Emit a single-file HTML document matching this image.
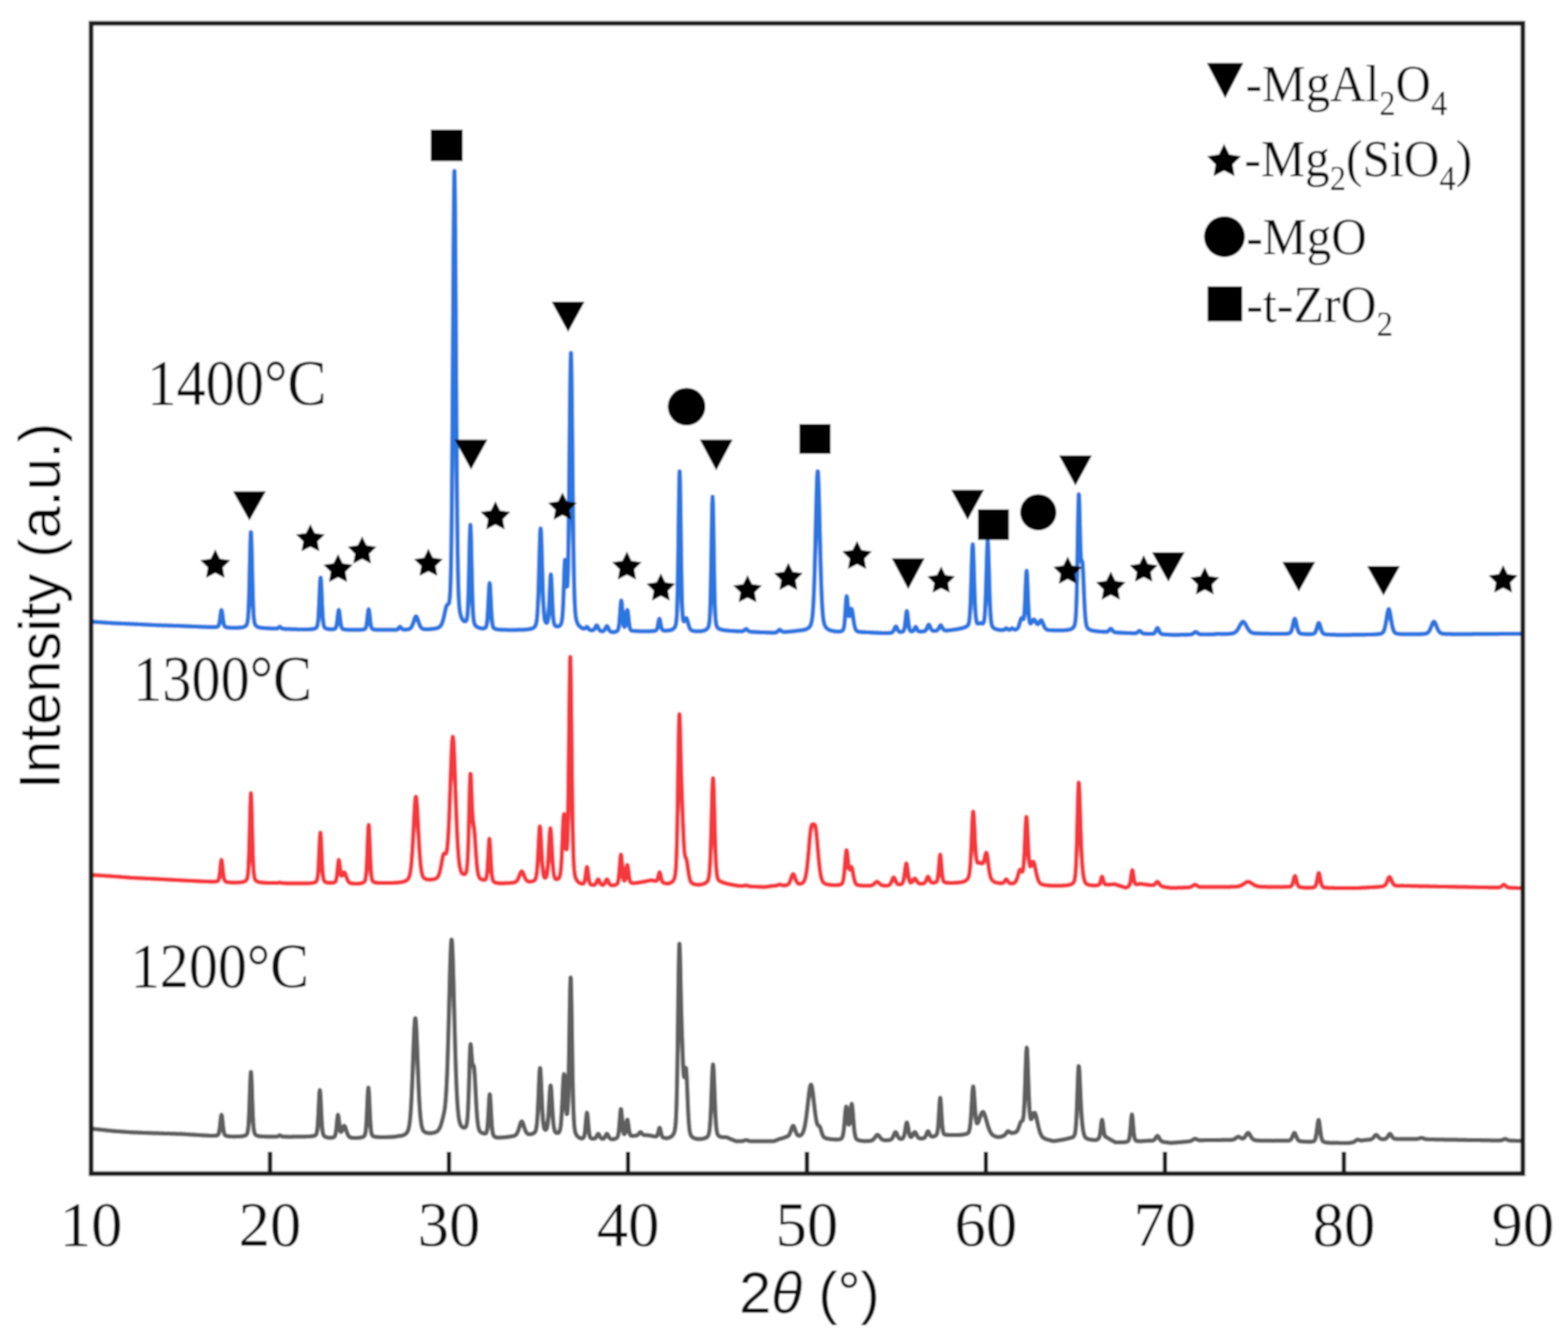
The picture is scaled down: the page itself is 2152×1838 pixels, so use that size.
<!DOCTYPE html>
<html><head><meta charset="utf-8"><title>XRD patterns</title>
<style>html,body{margin:0;padding:0;background:#fff;}svg{display:block;}</style>
</head><body>
<svg width="2152" height="1838" viewBox="0 0 2152 1838"><defs><filter id="soft" x="0" y="0" width="100%" height="100%" filterUnits="userSpaceOnUse"><feGaussianBlur stdDeviation="1.3"/></filter></defs><g filter="url(#soft)"><rect x="0" y="0" width="2152" height="1838" fill="#fff"/>
<polyline fill="none" stroke="#5e5e5e" stroke-width="6.0" stroke-linejoin="round" stroke-linecap="round" points="125.0,1549.3 125.5,1549.3 126.0,1549.4 126.5,1549.4 127.0,1549.5 127.5,1549.5 128.0,1549.6 128.5,1549.6 129.0,1549.7 129.5,1549.8 130.0,1549.8 130.5,1549.9 131.0,1549.9 131.5,1550.0 132.0,1550.0 132.5,1550.1 133.0,1550.1 133.5,1550.2 134.0,1550.2 134.5,1550.3 135.0,1550.3 135.5,1550.4 136.0,1550.4 136.5,1550.5 137.0,1550.6 137.5,1550.6 138.0,1550.7 138.5,1550.7 139.0,1550.8 139.5,1550.8 140.0,1550.9 140.5,1550.9 141.0,1551.0 141.5,1551.0 142.0,1551.1 142.5,1551.1 143.0,1551.2 143.5,1551.2 144.0,1551.3 144.5,1551.3 145.0,1551.4 145.5,1551.5 146.0,1551.5 146.5,1551.6 147.0,1551.6 147.5,1551.7 148.0,1551.7 148.5,1551.8 149.0,1551.8 149.5,1551.9 150.0,1551.9 150.5,1552.0 151.0,1552.0 151.5,1552.1 152.0,1552.1 152.5,1552.2 153.0,1552.3 153.5,1552.3 154.0,1552.4 154.5,1552.4 155.0,1552.5 155.5,1552.5 156.0,1552.5 156.5,1552.6 157.0,1552.6 157.5,1552.6 158.0,1552.7 158.5,1552.7 159.0,1552.8 159.5,1552.8 160.0,1552.8 160.5,1552.9 161.0,1552.9 161.5,1552.9 162.0,1553.0 162.5,1553.0 163.0,1553.0 163.5,1553.1 164.0,1553.1 164.5,1553.1 165.0,1553.2 165.5,1553.2 166.0,1553.3 166.5,1553.3 167.0,1553.3 167.5,1553.4 168.0,1553.4 168.5,1553.4 169.0,1553.5 169.5,1553.5 170.0,1553.5 170.5,1553.6 171.0,1553.6 171.5,1553.7 172.0,1553.7 172.5,1553.7 173.0,1553.8 173.5,1553.8 174.0,1553.8 174.5,1553.9 175.0,1553.9 175.5,1553.9 176.0,1554.0 176.5,1554.0 177.0,1554.0 177.5,1554.1 178.0,1554.1 178.5,1554.2 179.0,1554.2 179.5,1554.2 180.0,1554.3 180.5,1554.3 181.0,1554.3 181.5,1554.3 182.0,1554.3 182.5,1554.4 183.0,1554.4 183.5,1554.4 184.0,1554.4 184.5,1554.4 185.0,1554.5 185.5,1554.5 186.0,1554.5 186.5,1554.5 187.0,1554.5 187.5,1554.6 188.0,1554.6 188.5,1554.6 189.0,1554.6 189.5,1554.6 190.0,1554.7 190.5,1554.7 191.0,1554.7 191.5,1554.7 192.0,1554.7 192.5,1554.8 193.0,1554.8 193.5,1554.8 194.0,1554.8 194.5,1554.8 195.0,1554.9 195.5,1554.9 196.0,1554.9 196.5,1554.9 197.0,1554.9 197.5,1555.0 198.0,1555.0 198.5,1555.0 199.0,1555.0 199.5,1555.0 200.0,1555.1 200.5,1555.1 201.0,1555.1 201.5,1555.1 202.0,1555.1 202.5,1555.2 203.0,1555.2 203.5,1555.2 204.0,1555.2 204.5,1555.2 205.0,1555.3 205.5,1555.3 206.0,1555.3 206.5,1555.3 207.0,1555.3 207.5,1555.3 208.0,1555.3 208.5,1555.4 209.0,1555.4 209.5,1555.4 210.0,1555.4 210.5,1555.4 211.0,1555.4 211.5,1555.5 212.0,1555.5 212.5,1555.5 213.0,1555.5 213.5,1555.5 214.0,1555.5 214.5,1555.5 215.0,1555.6 215.5,1555.6 216.0,1555.6 216.5,1555.6 217.0,1555.6 217.5,1555.6 218.0,1555.7 218.5,1555.7 219.0,1555.7 219.5,1555.7 220.0,1555.7 220.5,1555.7 221.0,1555.7 221.5,1555.8 222.0,1555.8 222.5,1555.8 223.0,1555.8 223.5,1555.8 224.0,1555.8 224.5,1555.9 225.0,1555.9 225.5,1555.9 226.0,1555.9 226.5,1555.9 227.0,1555.9 227.5,1555.9 228.0,1556.0 228.5,1556.0 229.0,1556.0 229.5,1556.0 230.0,1556.0 230.5,1556.0 231.0,1556.1 231.5,1556.1 232.0,1556.1 232.5,1556.1 233.0,1556.1 233.5,1556.1 234.0,1556.1 234.5,1556.2 235.0,1556.2 235.5,1556.2 236.0,1556.2 236.5,1556.2 237.0,1556.2 237.5,1556.3 238.0,1556.3 238.5,1556.3 239.0,1556.3 239.5,1556.3 240.0,1556.3 240.5,1556.3 241.0,1556.4 241.5,1556.4 242.0,1556.4 242.5,1556.4 243.0,1556.4 243.5,1556.4 244.0,1556.4 244.5,1556.5 245.0,1556.5 245.5,1556.5 246.0,1556.5 246.5,1556.5 247.0,1556.5 247.5,1556.6 248.0,1556.6 248.5,1556.6 249.0,1556.6 249.5,1556.6 250.0,1556.6 250.5,1556.7 251.0,1556.7 251.5,1556.7 252.0,1556.8 252.5,1556.8 253.0,1556.8 253.5,1556.8 254.0,1556.9 254.5,1556.9 255.0,1556.9 255.5,1557.0 256.0,1557.0 256.5,1557.0 257.0,1557.1 257.5,1557.1 258.0,1557.1 258.5,1557.2 259.0,1557.2 259.5,1557.2 260.0,1557.3 260.5,1557.3 261.0,1557.3 261.5,1557.4 262.0,1557.4 262.5,1557.4 263.0,1557.4 263.5,1557.5 264.0,1557.5 264.5,1557.5 265.0,1557.6 265.5,1557.6 266.0,1557.6 266.5,1557.7 267.0,1557.7 267.5,1557.7 268.0,1557.8 268.5,1557.8 269.0,1557.8 269.5,1557.8 270.0,1557.9 270.5,1557.9 271.0,1557.9 271.5,1558.0 272.0,1558.0 272.5,1558.0 273.0,1558.1 273.5,1558.1 274.0,1558.1 274.5,1558.1 275.0,1558.2 275.5,1558.2 276.0,1558.2 276.5,1558.3 277.0,1558.3 277.5,1558.3 278.0,1558.4 278.5,1558.4 279.0,1558.4 279.5,1558.4 280.0,1558.5 280.5,1558.5 281.0,1558.5 281.5,1558.6 282.0,1558.6 282.5,1558.6 283.0,1558.6 283.5,1558.7 284.0,1558.7 284.5,1558.7 285.0,1558.7 285.5,1558.8 286.0,1558.8 286.5,1558.8 287.0,1558.8 287.5,1558.9 288.0,1558.9 288.5,1558.9 289.0,1558.9 289.5,1558.9 290.0,1558.9 290.5,1558.9 291.0,1559.0 291.5,1559.0 292.0,1559.0 292.5,1559.0 293.0,1558.9 293.5,1558.9 294.0,1558.9 294.5,1558.9 295.0,1558.9 295.5,1558.8 296.0,1558.8 296.5,1558.7 297.0,1558.7 297.5,1558.6 298.0,1558.4 298.5,1558.2 299.0,1557.9 299.5,1557.3 300.0,1556.3 300.5,1554.8 301.0,1552.4 301.5,1549.2 302.0,1545.0 302.5,1540.2 303.0,1535.4 303.5,1531.8 304.0,1530.4 304.5,1531.8 305.0,1535.5 305.5,1540.3 306.0,1545.2 306.5,1549.4 307.0,1552.7 307.5,1555.1 308.0,1556.7 308.5,1557.7 309.0,1558.3 309.5,1558.7 310.0,1558.9 310.5,1559.1 311.0,1559.2 311.5,1559.4 312.0,1559.5 312.5,1559.5 313.0,1559.6 313.5,1559.7 314.0,1559.7 314.5,1559.8 315.0,1559.8 315.5,1559.9 316.0,1559.9 316.5,1560.0 317.0,1560.0 317.5,1560.0 318.0,1560.1 318.5,1560.1 319.0,1560.1 319.5,1560.1 320.0,1560.2 320.5,1560.2 321.0,1560.2 321.5,1560.2 322.0,1560.2 322.5,1560.2 323.0,1560.1 323.5,1560.1 324.0,1560.1 324.5,1560.1 325.0,1560.1 325.5,1560.1 326.0,1560.1 326.5,1560.1 327.0,1560.0 327.5,1560.0 328.0,1560.0 328.5,1560.0 329.0,1559.9 329.5,1559.9 330.0,1559.9 330.5,1559.8 331.0,1559.8 331.5,1559.7 332.0,1559.7 332.5,1559.6 333.0,1559.5 333.5,1559.5 334.0,1559.4 334.5,1559.3 335.0,1559.1 335.5,1559.0 336.0,1558.8 336.5,1558.6 337.0,1558.4 337.5,1558.1 338.0,1557.7 338.5,1557.1 339.0,1556.4 339.5,1555.1 340.0,1553.1 340.5,1549.8 341.0,1544.7 341.5,1537.0 342.0,1526.4 342.5,1513.1 343.0,1498.3 343.5,1484.2 344.0,1474.2 344.4,1471.4 345.0,1477.5 345.5,1489.6 346.0,1504.3 346.5,1518.7 347.0,1531.0 347.5,1540.4 348.0,1547.0 348.5,1551.4 349.0,1554.1 349.5,1555.7 350.0,1556.7 350.5,1557.4 351.0,1557.8 351.5,1558.2 352.0,1558.5 352.5,1558.7 353.0,1558.9 353.5,1559.1 354.0,1559.2 354.5,1559.3 355.0,1559.4 355.5,1559.5 356.0,1559.6 356.5,1559.7 357.0,1559.7 357.5,1559.8 358.0,1559.8 358.5,1559.9 359.0,1559.9 359.5,1559.9 360.0,1560.0 360.5,1560.0 361.0,1560.0 361.5,1560.1 362.0,1560.1 362.5,1560.1 363.0,1560.1 363.5,1560.1 364.0,1560.2 364.5,1560.2 365.0,1560.2 365.5,1560.2 366.0,1560.2 366.5,1560.2 367.0,1560.2 367.5,1560.2 368.0,1560.2 368.5,1560.3 369.0,1560.3 369.5,1560.3 370.0,1560.3 370.5,1560.3 371.0,1560.3 371.5,1560.3 372.0,1560.3 372.5,1560.3 373.0,1560.3 373.5,1560.3 374.0,1560.3 374.5,1560.3 375.0,1560.3 375.5,1560.3 376.0,1560.3 376.5,1560.3 377.0,1560.3 377.5,1560.3 378.0,1560.3 378.5,1560.3 379.0,1560.2 379.5,1560.2 380.0,1560.1 380.5,1560.0 381.0,1559.9 381.5,1559.7 382.0,1559.4 382.5,1559.1 383.0,1558.7 383.5,1558.5 384.0,1558.4 384.5,1558.5 385.0,1558.7 385.5,1559.1 386.0,1559.4 386.5,1559.7 387.0,1559.9 387.5,1560.1 388.0,1560.2 388.5,1560.2 389.0,1560.3 389.5,1560.3 390.0,1560.3 390.5,1560.3 391.0,1560.3 391.5,1560.3 392.0,1560.3 392.5,1560.3 393.0,1560.3 393.5,1560.4 394.0,1560.4 394.5,1560.4 395.0,1560.4 395.5,1560.4 396.0,1560.4 396.5,1560.4 397.0,1560.4 397.5,1560.4 398.0,1560.4 398.5,1560.4 399.0,1560.4 399.5,1560.4 400.0,1560.4 400.5,1560.4 401.0,1560.4 401.5,1560.4 402.0,1560.3 402.5,1560.3 403.0,1560.3 403.5,1560.3 404.0,1560.3 404.5,1560.3 405.0,1560.3 405.5,1560.3 406.0,1560.3 406.5,1560.3 407.0,1560.3 407.5,1560.3 408.0,1560.3 408.5,1560.3 409.0,1560.3 409.5,1560.3 410.0,1560.3 410.5,1560.3 411.0,1560.3 411.5,1560.3 412.0,1560.3 412.5,1560.3 413.0,1560.3 413.5,1560.3 414.0,1560.3 414.5,1560.3 415.0,1560.2 415.5,1560.2 416.0,1560.2 416.5,1560.2 417.0,1560.2 417.5,1560.2 418.0,1560.2 418.5,1560.2 419.0,1560.2 419.5,1560.2 420.0,1560.1 420.5,1560.1 421.0,1560.1 421.5,1560.1 422.0,1560.1 422.5,1560.1 423.0,1560.0 423.5,1560.0 424.0,1560.0 424.5,1560.0 425.0,1559.9 425.5,1559.9 426.0,1559.8 426.5,1559.8 427.0,1559.8 427.5,1559.7 428.0,1559.6 428.5,1559.6 429.0,1559.5 429.5,1559.4 430.0,1559.3 430.5,1559.2 431.0,1559.0 431.5,1558.9 432.0,1558.7 432.5,1558.5 433.0,1558.2 433.5,1557.7 434.0,1557.0 434.5,1555.7 435.0,1553.6 435.5,1550.2 436.0,1545.1 436.5,1537.8 437.0,1528.6 437.5,1518.0 438.0,1507.5 438.5,1499.5 439.0,1496.4 439.5,1499.6 440.0,1507.7 440.5,1518.3 441.0,1529.0 441.5,1538.3 442.0,1545.7 442.5,1550.9 443.0,1554.4 443.5,1556.6 444.0,1558.0 444.5,1558.9 445.0,1559.4 445.5,1559.8 446.0,1560.2 446.5,1560.4 447.0,1560.6 447.5,1560.8 448.0,1561.0 448.5,1561.1 449.0,1561.3 449.5,1561.4 450.0,1561.5 450.5,1561.6 451.0,1561.7 451.5,1561.7 452.0,1561.8 452.5,1561.8 453.0,1561.8 453.5,1561.8 454.0,1561.8 454.5,1561.7 455.0,1561.7 455.5,1561.6 456.0,1561.6 456.5,1561.5 457.0,1561.4 457.5,1561.2 458.0,1561.0 458.5,1560.7 459.0,1560.3 459.5,1559.6 460.0,1558.4 460.5,1556.6 461.0,1553.8 461.5,1550.1 462.0,1545.4 462.5,1540.1 463.0,1535.1 463.5,1531.5 463.9,1530.4 464.5,1532.3 465.0,1536.3 465.5,1541.1 466.0,1545.7 466.5,1549.4 467.0,1551.9 467.5,1553.3 468.0,1553.8 468.5,1553.5 469.0,1552.6 469.5,1551.4 470.0,1550.1 470.5,1548.7 471.0,1547.4 471.5,1546.3 472.0,1545.6 472.5,1545.4 473.0,1545.7 473.5,1546.5 474.0,1547.7 474.5,1549.2 475.0,1550.8 475.5,1552.4 476.0,1554.0 476.5,1555.4 477.0,1556.7 477.5,1557.8 478.0,1558.7 478.5,1559.5 479.0,1560.1 479.5,1560.5 480.0,1560.9 480.5,1561.1 481.0,1561.3 481.5,1561.5 482.0,1561.6 482.5,1561.7 483.0,1561.8 483.5,1561.8 484.0,1561.9 484.5,1561.9 485.0,1561.9 485.5,1561.9 486.0,1562.0 486.5,1562.0 487.0,1562.0 487.5,1562.0 488.0,1562.0 488.5,1562.0 489.0,1562.0 489.5,1562.0 490.0,1562.0 490.5,1562.0 491.0,1561.9 491.5,1561.9 492.0,1561.9 492.5,1561.8 493.0,1561.8 493.5,1561.7 494.0,1561.6 494.5,1561.6 495.0,1561.5 495.5,1561.4 496.0,1561.3 496.5,1561.2 497.0,1561.0 497.5,1560.9 498.0,1560.7 498.5,1560.4 499.0,1560.1 499.5,1559.8 500.0,1559.2 500.5,1558.4 501.0,1557.1 501.5,1555.0 502.0,1551.6 502.5,1546.5 503.0,1539.2 503.5,1529.7 504.0,1518.5 504.5,1507.1 505.0,1497.7 505.6,1493.0 506.0,1495.1 506.5,1502.9 507.0,1513.8 507.5,1525.2 508.0,1535.4 508.5,1543.6 509.0,1549.5 509.5,1553.5 510.0,1556.0 510.5,1557.6 511.0,1558.5 511.5,1559.1 512.0,1559.5 512.5,1559.7 513.0,1560.0 513.5,1560.1 514.0,1560.3 514.5,1560.4 515.0,1560.5 515.5,1560.5 516.0,1560.6 516.5,1560.6 517.0,1560.7 517.5,1560.7 518.0,1560.7 518.5,1560.8 519.0,1560.8 519.5,1560.8 520.0,1560.9 520.5,1560.9 521.0,1560.9 521.5,1560.9 522.0,1560.9 522.5,1560.9 523.0,1560.9 523.5,1560.9 524.0,1561.0 524.5,1561.0 525.0,1561.0 525.5,1561.0 526.0,1561.0 526.5,1561.0 527.0,1561.0 527.5,1560.9 528.0,1560.9 528.5,1560.9 529.0,1560.9 529.5,1560.9 530.0,1560.9 530.5,1560.9 531.0,1560.9 531.5,1560.9 532.0,1560.9 532.5,1560.8 533.0,1560.8 533.5,1560.8 534.0,1560.8 534.5,1560.8 535.0,1560.8 535.5,1560.7 536.0,1560.7 536.5,1560.7 537.0,1560.7 537.5,1560.6 538.0,1560.6 538.5,1560.6 539.0,1560.6 539.5,1560.5 540.0,1560.5 540.5,1560.4 541.0,1560.4 541.5,1560.4 542.0,1560.3 542.5,1560.2 543.0,1560.2 543.5,1560.1 544.0,1560.0 544.5,1559.9 545.0,1559.8 545.5,1559.7 546.0,1559.6 546.5,1559.5 547.0,1559.4 547.5,1559.3 548.0,1559.3 548.5,1559.2 549.0,1559.2 549.5,1559.2 550.0,1559.1 550.5,1559.0 551.0,1558.9 551.5,1558.8 552.0,1558.7 552.5,1558.5 553.0,1558.4 553.5,1558.2 554.0,1558.0 554.5,1557.8 555.0,1557.5 555.5,1557.2 556.0,1556.9 556.5,1556.6 557.0,1556.2 557.5,1555.7 558.0,1555.2 558.5,1554.6 559.0,1553.8 559.5,1552.9 560.0,1551.7 560.5,1550.3 561.0,1548.4 561.5,1545.9 562.0,1542.9 562.5,1539.0 563.0,1534.1 563.5,1528.2 564.0,1521.0 564.5,1512.5 565.0,1502.6 565.5,1491.5 566.0,1479.3 566.5,1466.1 567.0,1452.5 567.5,1438.9 568.0,1426.0 568.5,1414.6 569.0,1405.6 569.5,1399.8 570.0,1397.7 570.5,1399.7 571.0,1405.4 571.5,1414.4 572.0,1425.7 572.5,1438.5 573.0,1452.0 573.5,1465.6 574.0,1478.6 574.5,1490.8 575.0,1501.8 575.5,1511.5 576.0,1519.9 576.5,1527.0 577.0,1532.9 577.5,1537.7 578.0,1541.5 578.5,1544.5 579.0,1546.8 579.5,1548.6 580.0,1550.0 580.5,1551.1 581.0,1551.9 581.5,1552.6 582.0,1553.1 582.5,1553.5 583.0,1553.9 583.5,1554.1 584.0,1554.4 584.5,1554.6 585.0,1554.8 585.5,1554.9 586.0,1555.1 586.5,1555.2 587.0,1555.2 587.5,1555.3 588.0,1555.4 588.5,1555.4 589.0,1555.5 589.5,1555.5 590.0,1555.5 590.5,1555.5 591.0,1555.5 591.5,1555.4 592.0,1555.4 592.5,1555.3 593.0,1555.3 593.5,1555.2 594.0,1555.1 594.5,1555.0 595.0,1554.9 595.5,1554.8 596.0,1554.7 596.5,1554.5 597.0,1554.4 597.5,1554.2 598.0,1554.0 598.5,1553.8 599.0,1553.5 599.5,1553.2 600.0,1552.9 600.5,1552.5 601.0,1552.0 601.5,1551.5 602.0,1550.8 602.5,1550.1 603.0,1549.2 603.5,1548.2 604.0,1547.1 604.5,1545.8 605.0,1544.4 605.5,1542.9 606.0,1541.2 606.5,1539.5 607.0,1537.6 607.5,1535.7 608.0,1533.7 608.5,1531.6 609.0,1529.4 609.5,1527.0 610.0,1524.2 610.5,1520.9 611.0,1516.8 611.5,1511.6 612.0,1505.3 612.5,1497.5 613.0,1488.0 613.5,1476.8 614.0,1463.7 614.5,1448.9 615.0,1432.4 615.5,1414.4 616.0,1395.4 616.5,1375.8 617.0,1356.2 617.5,1337.6 618.0,1320.7 618.5,1306.6 619.0,1296.4 619.5,1290.7 619.8,1289.8 620.0,1290.2 620.5,1294.9 621.0,1304.4 621.5,1317.9 622.0,1334.4 622.5,1352.9 623.0,1372.6 623.5,1392.5 624.0,1412.1 624.5,1430.7 625.0,1448.1 625.5,1463.9 626.0,1478.0 626.5,1490.4 627.0,1501.1 627.5,1510.1 628.0,1517.6 628.5,1523.8 629.0,1528.9 629.5,1533.0 630.0,1536.2 630.5,1538.8 631.0,1540.8 631.5,1542.4 632.0,1543.7 632.5,1544.7 633.0,1545.5 633.5,1546.1 634.0,1546.6 634.5,1547.0 635.0,1547.3 635.5,1547.6 636.0,1547.7 636.5,1547.8 637.0,1547.9 637.5,1547.9 638.0,1547.7 638.5,1547.5 639.0,1547.1 639.5,1546.4 640.0,1545.2 640.5,1543.3 641.0,1540.4 641.5,1535.8 642.0,1529.1 642.5,1519.7 643.0,1507.4 643.5,1492.4 644.0,1475.7 644.5,1458.9 645.0,1444.6 645.6,1434.6 646.0,1433.4 646.5,1437.2 647.0,1444.2 647.5,1451.6 648.0,1457.5 648.5,1461.0 649.0,1462.4 649.5,1462.5 650.0,1462.7 650.5,1464.4 651.0,1468.6 651.5,1475.2 652.0,1483.7 652.5,1493.4 653.0,1503.2 653.5,1512.7 654.0,1521.3 654.5,1528.8 655.0,1535.0 655.5,1540.0 656.0,1543.9 656.5,1546.8 657.0,1549.0 657.5,1550.6 658.0,1551.8 658.5,1552.6 659.0,1553.3 659.5,1553.8 660.0,1554.2 660.5,1554.6 661.0,1554.8 661.5,1555.1 662.0,1555.3 662.5,1555.5 663.0,1555.6 663.5,1555.8 664.0,1555.9 664.5,1556.0 665.0,1556.1 665.5,1556.1 666.0,1556.0 666.5,1555.8 667.0,1555.4 667.5,1554.6 668.0,1553.2 668.5,1550.8 669.0,1547.0 669.5,1541.4 670.0,1534.0 670.5,1525.0 671.0,1515.5 671.5,1507.3 672.0,1502.6 672.2,1502.2 672.5,1503.3 673.0,1509.2 673.5,1518.1 674.0,1528.0 674.5,1537.0 675.0,1544.4 675.5,1549.9 676.0,1553.7 676.5,1556.2 677.0,1557.7 677.5,1558.7 678.0,1559.4 678.5,1559.9 679.0,1560.3 679.5,1560.6 680.0,1560.9 680.5,1561.2 681.0,1561.4 681.5,1561.5 682.0,1561.5 682.5,1561.6 683.0,1561.6 683.5,1561.6 684.0,1561.6 684.5,1561.6 685.0,1561.6 685.5,1561.6 686.0,1561.6 686.5,1561.5 687.0,1561.5 687.5,1561.5 688.0,1561.5 688.5,1561.4 689.0,1561.4 689.5,1561.4 690.0,1561.3 690.5,1561.3 691.0,1561.3 691.5,1561.2 692.0,1561.2 692.5,1561.1 693.0,1561.1 693.5,1561.0 694.0,1561.0 694.5,1560.9 695.0,1560.9 695.5,1560.8 696.0,1560.7 696.5,1560.7 697.0,1560.6 697.5,1560.6 698.0,1560.5 698.5,1560.4 699.0,1560.4 699.5,1560.3 700.0,1560.2 700.5,1560.1 701.0,1560.1 701.5,1560.0 702.0,1559.9 702.5,1559.8 703.0,1559.7 703.5,1559.6 704.0,1559.5 704.5,1559.4 705.0,1559.2 705.5,1559.1 706.0,1558.9 706.5,1558.7 707.0,1558.4 707.5,1558.1 708.0,1557.7 708.5,1557.2 709.0,1556.6 709.5,1555.8 710.0,1554.9 710.5,1553.8 711.0,1552.6 711.5,1551.2 712.0,1549.7 712.5,1548.0 713.0,1546.3 713.5,1544.6 714.0,1543.0 714.5,1541.6 715.0,1540.4 715.5,1539.7 716.0,1539.4 716.5,1539.6 717.0,1540.3 717.5,1541.3 718.0,1542.7 718.5,1544.2 719.0,1545.8 719.5,1547.4 720.0,1548.9 720.5,1550.4 721.0,1551.7 721.5,1552.8 722.0,1553.8 722.5,1554.6 723.0,1555.2 723.5,1555.7 724.0,1556.1 724.5,1556.4 725.0,1556.6 725.5,1556.8 726.0,1556.9 726.5,1556.9 727.0,1556.9 727.5,1556.9 728.0,1556.8 728.5,1556.8 729.0,1556.7 729.5,1556.6 730.0,1556.5 730.5,1556.3 731.0,1556.1 731.5,1555.9 732.0,1555.7 732.5,1555.4 733.0,1555.1 733.5,1554.7 734.0,1554.2 734.5,1553.5 735.0,1552.4 735.5,1550.9 736.0,1548.7 736.5,1545.5 737.0,1540.8 737.5,1534.5 738.0,1526.4 738.5,1516.3 739.0,1504.8 739.5,1492.5 740.0,1480.9 740.5,1471.6 741.0,1466.5 741.2,1466.0 741.5,1467.0 742.0,1472.9 742.5,1482.7 743.0,1494.4 743.5,1506.4 744.0,1517.5 744.5,1527.0 745.0,1534.6 745.5,1540.4 746.0,1544.4 746.5,1547.2 747.0,1549.0 747.5,1550.1 748.0,1550.7 748.5,1550.9 749.0,1550.8 749.5,1550.5 750.0,1549.8 750.5,1548.5 751.0,1546.4 751.5,1543.3 752.0,1538.9 752.5,1533.2 753.0,1526.0 753.5,1517.8 754.0,1509.0 754.5,1500.6 755.0,1493.9 755.5,1490.4 755.7,1490.1 756.0,1490.9 756.5,1495.4 757.0,1502.7 757.5,1511.5 758.0,1520.4 758.5,1528.7 759.0,1535.8 759.5,1541.5 760.0,1545.9 760.5,1549.0 761.0,1551.2 761.5,1552.7 762.0,1553.6 762.5,1554.3 763.0,1554.7 763.5,1554.9 764.0,1555.1 764.5,1555.2 765.0,1555.2 765.5,1555.1 766.0,1555.0 766.5,1554.8 767.0,1554.4 767.5,1553.7 768.0,1552.7 768.5,1551.2 769.0,1549.0 769.5,1545.6 770.0,1540.9 770.5,1534.5 771.0,1526.4 771.5,1516.7 772.0,1505.8 772.5,1494.6 773.0,1484.6 773.5,1477.3 774.0,1474.4 774.5,1476.6 775.0,1483.2 775.5,1492.4 776.0,1502.7 776.5,1512.4 777.0,1520.6 777.5,1526.4 778.0,1529.2 778.5,1528.4 779.0,1523.2 779.5,1512.9 780.0,1496.7 780.5,1474.3 781.0,1446.4 781.5,1414.9 782.0,1383.4 782.5,1357.3 783.0,1343.0 783.2,1341.7 783.5,1345.0 784.0,1362.7 784.5,1391.0 785.0,1423.6 785.5,1455.4 786.0,1483.4 786.5,1506.0 787.0,1522.9 787.5,1534.9 788.0,1542.9 788.5,1548.2 789.0,1551.7 789.5,1553.9 790.0,1555.5 790.5,1556.7 791.0,1557.6 791.5,1558.4 792.0,1559.1 792.5,1559.6 793.0,1560.1 793.5,1560.5 794.0,1560.9 794.5,1561.3 795.0,1561.6 795.5,1561.8 796.0,1562.1 796.5,1562.3 797.0,1562.4 797.5,1562.6 798.0,1562.7 798.5,1562.7 799.0,1562.6 799.5,1562.5 800.0,1562.3 800.5,1561.9 801.0,1561.3 801.5,1560.2 802.0,1558.5 802.5,1555.7 803.0,1551.9 803.5,1546.9 804.0,1540.9 804.5,1534.9 805.0,1529.9 805.6,1527.4 806.0,1528.5 806.5,1532.7 807.0,1538.5 807.5,1544.6 808.0,1550.0 808.5,1554.4 809.0,1557.6 809.5,1559.7 810.0,1561.0 810.5,1561.8 811.0,1562.3 811.5,1562.6 812.0,1562.8 812.5,1562.9 813.0,1563.0 813.5,1563.0 814.0,1563.1 814.5,1563.1 815.0,1563.1 815.5,1563.0 816.0,1562.9 816.5,1562.6 817.0,1562.2 817.5,1561.7 818.0,1561.0 818.5,1560.1 819.0,1559.1 819.5,1558.1 820.0,1557.3 820.5,1556.6 821.0,1556.4 821.5,1556.6 822.0,1557.3 822.5,1558.2 823.0,1559.2 823.5,1560.2 824.0,1561.1 824.5,1561.8 825.0,1562.4 825.5,1562.8 826.0,1563.1 826.5,1563.2 827.0,1563.3 827.5,1563.2 828.0,1563.1 828.5,1562.8 829.0,1562.4 829.5,1561.9 830.0,1561.1 830.5,1560.2 831.0,1559.2 831.5,1558.2 832.0,1557.3 832.5,1556.6 833.0,1556.4 833.5,1556.6 834.0,1557.3 834.5,1558.2 835.0,1559.3 835.5,1560.3 836.0,1561.2 836.5,1562.0 837.0,1562.5 837.5,1563.0 838.0,1563.3 838.5,1563.5 839.0,1563.6 839.5,1563.7 840.0,1563.7 840.5,1563.7 841.0,1563.7 841.5,1563.7 842.0,1563.7 842.5,1563.6 843.0,1563.5 843.5,1563.3 844.0,1563.2 844.5,1563.0 845.0,1562.8 845.5,1562.5 846.0,1562.3 846.5,1561.9 847.0,1561.4 847.5,1560.6 848.0,1559.5 848.5,1557.6 849.0,1554.7 849.5,1550.7 850.0,1545.3 850.5,1538.9 851.0,1532.1 851.5,1526.2 852.0,1522.8 852.2,1522.4 852.5,1523.0 853.0,1526.8 853.5,1532.8 854.0,1539.3 854.5,1545.3 855.0,1550.0 855.5,1553.5 856.0,1555.6 856.5,1556.7 857.0,1556.8 857.5,1556.1 858.0,1554.5 858.5,1552.0 859.0,1548.8 859.5,1545.0 860.0,1541.2 860.5,1538.2 861.0,1537.1 861.5,1538.2 862.0,1541.1 862.5,1544.9 863.0,1548.7 863.5,1552.0 864.0,1554.6 864.5,1556.4 865.0,1557.6 865.5,1558.3 866.0,1558.8 866.5,1559.0 867.0,1559.1 867.5,1559.1 868.0,1559.2 868.5,1559.2 869.0,1559.1 869.5,1559.1 870.0,1559.0 870.5,1559.0 871.0,1558.9 871.5,1558.9 872.0,1558.9 872.5,1558.8 873.0,1558.8 873.5,1558.7 874.0,1558.5 874.5,1558.3 875.0,1558.0 875.5,1557.6 876.0,1557.1 876.5,1556.5 877.0,1555.9 877.5,1555.2 878.0,1554.6 878.5,1554.2 879.0,1554.0 879.5,1554.1 880.0,1554.5 880.5,1555.1 881.0,1555.7 881.5,1556.3 882.0,1556.8 882.5,1557.3 883.0,1557.6 883.5,1557.8 884.0,1558.0 884.5,1558.1 885.0,1558.2 885.5,1558.2 886.0,1558.2 886.5,1558.2 887.0,1558.2 887.5,1558.1 888.0,1558.2 888.5,1558.3 889.0,1558.4 889.5,1558.5 890.0,1558.5 890.5,1558.6 891.0,1558.6 891.5,1558.7 892.0,1558.7 892.5,1558.8 893.0,1558.8 893.5,1558.9 893.7,1558.9 894.0,1559.0 894.5,1559.1 895.0,1559.2 895.5,1559.4 896.0,1559.5 896.5,1559.6 897.0,1559.8 897.5,1559.9 898.0,1560.0 898.5,1560.0 899.0,1560.1 899.5,1560.1 900.0,1560.1 900.5,1559.9 901.0,1559.7 901.5,1559.2 902.0,1558.5 902.5,1557.3 903.0,1555.7 903.5,1553.7 904.0,1551.5 904.5,1549.5 905.0,1548.2 905.3,1548.0 905.5,1548.1 906.0,1549.3 906.5,1551.4 907.0,1553.7 907.5,1556.0 908.0,1557.8 908.5,1559.2 909.0,1560.2 909.5,1560.9 910.0,1561.3 910.5,1561.6 911.0,1561.8 911.5,1561.9 912.0,1562.1 912.5,1562.1 913.0,1562.2 913.5,1562.3 914.0,1562.3 914.5,1562.4 915.0,1562.4 915.5,1562.4 916.0,1562.3 916.5,1562.2 917.0,1562.0 917.5,1561.9 918.0,1561.7 918.5,1561.6 919.0,1561.4 919.5,1561.1 920.0,1560.9 920.5,1560.6 921.0,1560.3 921.5,1559.9 922.0,1559.5 922.5,1559.1 923.0,1558.5 923.5,1557.9 924.0,1557.2 924.5,1556.3 925.0,1555.2 925.5,1553.9 926.0,1552.0 926.5,1549.4 927.0,1545.5 927.5,1539.5 928.0,1530.3 928.5,1516.7 929.0,1497.4 929.5,1471.7 930.0,1439.6 930.5,1402.7 931.0,1364.1 931.5,1329.1 932.0,1304.4 932.3,1297.0 932.5,1295.5 933.0,1302.8 933.5,1321.4 934.0,1344.9 934.5,1368.1 935.0,1388.6 935.5,1406.0 936.0,1421.4 936.5,1435.9 937.0,1449.6 937.5,1461.5 938.0,1470.7 938.5,1476.5 939.0,1478.5 939.5,1477.1 940.0,1473.4 940.5,1468.8 941.0,1465.7 941.5,1466.0 942.0,1470.9 942.5,1479.8 943.0,1491.4 943.5,1503.9 944.0,1515.9 944.5,1526.7 945.0,1535.7 945.5,1542.8 946.0,1548.1 946.5,1552.0 947.0,1554.7 947.5,1556.6 948.0,1557.9 948.5,1558.9 949.0,1559.6 949.5,1560.2 950.0,1560.6 950.5,1561.0 951.0,1561.4 951.5,1561.7 952.0,1561.9 952.5,1562.2 953.0,1562.4 953.5,1562.6 954.0,1562.7 954.5,1562.9 955.0,1563.0 955.5,1563.2 956.0,1563.3 956.5,1563.4 957.0,1563.5 957.5,1563.5 958.0,1563.6 958.5,1563.6 959.0,1563.6 959.5,1563.6 960.0,1563.6 960.5,1563.5 961.0,1563.5 961.5,1563.5 962.0,1563.4 962.5,1563.4 963.0,1563.3 963.5,1563.2 964.0,1563.2 964.5,1563.1 965.0,1563.0 965.5,1562.9 966.0,1562.8 966.5,1562.6 967.0,1562.5 967.5,1562.3 968.0,1562.1 968.5,1561.9 969.0,1561.7 969.5,1561.4 970.0,1561.1 970.5,1560.7 971.0,1560.2 971.5,1559.6 972.0,1558.8 972.5,1557.5 973.0,1555.7 973.5,1553.0 974.0,1549.1 974.5,1543.6 975.0,1536.2 975.5,1526.6 976.0,1514.9 976.5,1501.8 977.0,1488.0 977.5,1475.3 978.0,1465.7 978.6,1461.1 979.0,1463.1 979.5,1470.8 980.0,1482.5 980.5,1496.0 981.0,1509.4 981.5,1521.7 982.0,1532.0 982.5,1540.3 983.0,1546.4 983.5,1550.9 984.0,1553.9 984.5,1555.9 985.0,1557.3 985.5,1558.2 986.0,1558.8 986.5,1559.3 987.0,1559.6 987.5,1559.9 988.0,1560.1 988.5,1560.3 989.0,1560.4 989.5,1560.6 990.0,1560.7 990.5,1560.7 991.0,1560.8 991.5,1560.9 992.0,1560.9 992.5,1560.9 993.0,1561.0 993.5,1561.0 994.0,1561.0 994.5,1561.0 995.0,1561.0 995.5,1561.0 996.0,1561.0 996.5,1561.0 997.0,1561.0 997.5,1561.2 998.0,1561.4 998.5,1561.7 999.0,1561.9 999.5,1562.1 1000.0,1562.3 1000.5,1562.5 1001.0,1562.7 1001.5,1563.0 1002.0,1563.2 1002.5,1563.4 1003.0,1563.6 1003.5,1563.8 1004.0,1564.0 1004.5,1564.2 1005.0,1564.4 1005.5,1564.6 1006.0,1564.8 1006.5,1565.0 1007.0,1565.2 1007.5,1565.4 1008.0,1565.6 1008.5,1565.8 1009.0,1566.0 1009.5,1566.2 1010.0,1566.4 1010.5,1566.4 1011.0,1566.5 1011.5,1566.5 1012.0,1566.5 1012.5,1566.5 1013.0,1566.5 1013.5,1566.5 1014.0,1566.5 1014.5,1566.5 1015.0,1566.5 1015.5,1566.5 1016.0,1566.5 1016.5,1566.5 1017.0,1566.4 1017.5,1566.4 1018.0,1566.4 1018.5,1566.3 1019.0,1566.2 1019.5,1566.2 1020.0,1566.0 1020.5,1565.9 1021.0,1565.7 1021.5,1565.6 1022.0,1565.4 1022.5,1565.2 1023.0,1565.0 1023.5,1564.9 1024.0,1564.9 1024.5,1564.9 1025.0,1565.0 1025.5,1565.2 1026.0,1565.4 1026.5,1565.6 1027.0,1565.8 1027.5,1565.9 1028.0,1566.1 1028.5,1566.2 1029.0,1566.3 1029.5,1566.4 1030.0,1566.4 1030.5,1566.5 1031.0,1566.5 1031.5,1566.5 1032.0,1566.5 1032.5,1566.5 1033.0,1566.6 1033.5,1566.6 1034.0,1566.6 1034.5,1566.6 1035.0,1566.6 1035.5,1566.6 1036.0,1566.6 1036.5,1566.6 1037.0,1566.6 1037.5,1566.6 1038.0,1566.6 1038.5,1566.6 1039.0,1566.6 1039.5,1566.6 1040.0,1566.6 1040.5,1566.6 1041.0,1566.6 1041.5,1566.6 1042.0,1566.6 1042.5,1566.6 1043.0,1566.6 1043.5,1566.6 1044.0,1566.6 1044.5,1566.6 1045.0,1566.6 1045.5,1566.6 1046.0,1566.6 1046.5,1566.6 1047.0,1566.6 1047.5,1566.6 1048.0,1566.6 1048.5,1566.6 1049.0,1566.6 1049.5,1566.6 1050.0,1566.6 1050.5,1566.6 1051.0,1566.6 1051.5,1566.6 1052.0,1566.5 1052.5,1566.5 1053.0,1566.5 1053.5,1566.5 1054.0,1566.5 1054.5,1566.5 1055.0,1566.5 1055.5,1566.5 1056.0,1566.5 1056.5,1566.5 1057.0,1566.5 1057.5,1566.5 1058.0,1566.5 1058.5,1566.5 1059.0,1566.5 1059.5,1566.5 1060.0,1566.5 1060.5,1566.4 1061.0,1566.4 1061.5,1566.4 1062.0,1566.4 1062.5,1566.3 1063.0,1566.1 1063.5,1565.9 1064.0,1565.8 1064.5,1565.6 1065.0,1565.4 1065.5,1565.2 1066.0,1565.0 1066.5,1564.8 1067.0,1564.6 1067.5,1564.4 1068.0,1564.2 1068.5,1564.0 1069.0,1563.8 1069.5,1563.6 1070.0,1563.4 1070.5,1563.2 1071.0,1563.1 1071.5,1563.0 1072.0,1562.9 1072.5,1562.7 1073.0,1562.6 1073.5,1562.5 1074.0,1562.3 1074.5,1562.2 1075.0,1562.0 1075.5,1561.9 1076.0,1561.7 1076.5,1561.5 1077.0,1561.3 1077.5,1561.1 1078.0,1560.9 1078.5,1560.7 1079.0,1560.4 1079.5,1560.3 1080.0,1560.2 1080.5,1560.0 1081.0,1559.8 1081.5,1559.5 1082.0,1559.0 1082.5,1558.5 1083.0,1557.8 1083.5,1556.9 1084.0,1555.9 1084.5,1554.7 1085.0,1553.3 1085.5,1551.9 1086.0,1550.4 1086.5,1548.9 1087.0,1547.5 1087.5,1546.4 1088.0,1545.7 1088.5,1545.4 1089.0,1545.6 1089.5,1546.3 1090.0,1547.4 1090.5,1548.7 1091.0,1550.1 1091.5,1551.6 1092.0,1553.0 1092.5,1554.3 1093.0,1555.4 1093.5,1556.4 1094.0,1557.2 1094.5,1557.8 1095.0,1558.3 1095.5,1558.6 1096.0,1558.8 1096.5,1558.9 1097.0,1558.9 1097.5,1558.9 1098.0,1558.8 1098.5,1558.6 1099.0,1558.3 1099.5,1557.9 1100.0,1557.5 1100.5,1557.0 1101.0,1556.3 1101.5,1555.5 1102.0,1554.5 1102.5,1553.3 1103.0,1551.8 1103.5,1550.2 1104.0,1548.2 1104.5,1546.0 1105.0,1543.4 1105.5,1540.5 1106.0,1537.3 1106.5,1533.8 1107.0,1530.0 1107.5,1525.9 1108.0,1521.6 1108.5,1517.1 1109.0,1512.6 1109.5,1508.1 1110.0,1503.8 1110.5,1499.7 1111.0,1496.1 1111.5,1493.1 1112.0,1490.8 1112.5,1489.4 1113.0,1488.9 1113.5,1489.4 1114.0,1490.8 1114.5,1493.2 1115.0,1496.2 1115.5,1499.8 1116.0,1503.9 1116.5,1508.2 1117.0,1512.7 1117.5,1517.2 1118.0,1521.5 1118.5,1525.7 1119.0,1529.5 1119.5,1533.1 1120.0,1536.1 1120.5,1538.7 1121.0,1540.9 1121.5,1542.5 1122.0,1543.7 1122.5,1544.4 1123.0,1544.9 1123.5,1545.2 1124.0,1545.4 1124.5,1545.7 1125.0,1546.4 1125.5,1547.4 1126.0,1548.8 1126.5,1550.3 1127.0,1552.0 1127.5,1553.7 1128.0,1555.3 1128.5,1556.7 1129.0,1557.9 1129.5,1559.0 1130.0,1559.8 1130.5,1560.5 1131.0,1561.0 1131.5,1561.4 1132.0,1561.8 1132.5,1562.0 1133.0,1562.2 1133.5,1562.4 1134.0,1562.6 1134.5,1562.7 1135.0,1562.8 1135.5,1563.0 1136.0,1563.1 1136.5,1563.2 1137.0,1563.3 1137.5,1563.3 1138.0,1563.4 1138.5,1563.5 1139.0,1563.6 1139.5,1563.6 1140.0,1563.7 1140.5,1563.8 1141.0,1563.8 1141.5,1563.9 1142.0,1563.9 1142.5,1564.0 1143.0,1564.0 1143.5,1564.0 1144.0,1564.1 1144.5,1564.1 1145.0,1564.1 1145.5,1564.1 1146.0,1564.2 1146.5,1564.2 1147.0,1564.2 1147.5,1564.2 1148.0,1564.2 1148.5,1564.2 1149.0,1564.2 1149.5,1564.2 1150.0,1564.1 1150.5,1564.1 1151.0,1564.1 1151.5,1564.0 1152.0,1563.9 1152.5,1563.8 1153.0,1563.7 1153.5,1563.5 1154.0,1563.3 1154.5,1563.0 1155.0,1562.6 1155.5,1562.0 1156.0,1561.0 1156.5,1559.6 1157.0,1557.6 1157.5,1554.9 1158.0,1551.2 1158.5,1546.6 1159.0,1541.1 1159.5,1535.0 1160.0,1529.0 1160.5,1523.7 1161.0,1520.2 1161.4,1519.1 1162.0,1520.8 1162.5,1524.6 1163.0,1529.6 1163.5,1534.7 1164.0,1539.1 1164.5,1542.3 1165.0,1543.7 1165.5,1543.2 1166.0,1540.8 1166.5,1536.8 1167.0,1531.6 1167.5,1525.8 1168.0,1520.5 1168.5,1516.7 1169.0,1515.4 1169.5,1517.2 1170.0,1521.5 1170.5,1527.6 1171.0,1534.3 1171.5,1540.8 1172.0,1546.7 1172.5,1551.6 1173.0,1555.4 1173.5,1558.3 1174.0,1560.4 1174.5,1561.8 1175.0,1562.8 1175.5,1563.5 1176.0,1564.0 1176.5,1564.3 1177.0,1564.6 1177.5,1564.8 1178.0,1565.0 1178.5,1565.2 1179.0,1565.3 1179.5,1565.4 1180.0,1565.5 1180.5,1565.6 1181.0,1565.7 1181.5,1565.8 1182.0,1565.9 1182.5,1566.0 1183.0,1566.0 1183.5,1566.1 1184.0,1566.1 1184.5,1566.2 1185.0,1566.2 1185.5,1566.3 1186.0,1566.3 1186.5,1566.4 1187.0,1566.4 1187.5,1566.4 1188.0,1566.4 1188.5,1566.3 1189.0,1566.3 1189.5,1566.3 1190.0,1566.3 1190.5,1566.3 1191.0,1566.3 1191.5,1566.2 1192.0,1566.2 1192.5,1566.2 1193.0,1566.1 1193.5,1566.1 1194.0,1566.0 1194.5,1565.9 1195.0,1565.8 1195.5,1565.7 1196.0,1565.6 1196.5,1565.4 1197.0,1565.2 1197.5,1564.9 1198.0,1564.5 1198.5,1564.1 1199.0,1563.6 1199.5,1563.1 1200.0,1562.5 1200.5,1561.8 1201.0,1561.1 1201.5,1560.4 1202.0,1559.6 1202.5,1559.0 1203.0,1558.4 1203.5,1558.0 1204.0,1557.7 1204.3,1557.7 1204.5,1557.7 1205.0,1557.9 1205.5,1558.2 1206.0,1558.7 1206.5,1559.3 1207.0,1560.0 1207.5,1560.7 1208.0,1561.4 1208.5,1562.0 1209.0,1562.6 1209.5,1563.1 1210.0,1563.6 1210.5,1564.0 1211.0,1564.3 1211.5,1564.5 1212.0,1564.7 1212.5,1564.9 1213.0,1565.0 1213.5,1565.1 1214.0,1565.1 1214.5,1565.2 1215.0,1565.2 1215.5,1565.2 1216.0,1565.2 1216.5,1565.2 1217.0,1565.2 1217.5,1565.2 1218.0,1565.1 1218.5,1565.1 1219.0,1565.1 1219.5,1565.0 1220.0,1565.0 1220.5,1564.9 1221.0,1564.8 1221.5,1564.7 1222.0,1564.5 1222.5,1564.3 1223.0,1564.0 1223.5,1563.7 1224.0,1563.2 1224.5,1562.5 1225.0,1561.7 1225.5,1560.7 1226.0,1559.6 1226.5,1558.4 1227.0,1557.2 1227.5,1556.0 1228.0,1555.0 1228.5,1554.3 1229.0,1554.0 1229.5,1554.2 1230.0,1554.8 1230.5,1555.8 1231.0,1556.9 1231.5,1558.1 1232.0,1559.2 1232.5,1560.3 1233.0,1561.1 1233.5,1561.9 1234.0,1562.4 1234.5,1562.8 1235.0,1563.1 1235.5,1563.3 1236.0,1563.4 1236.5,1563.4 1237.0,1563.4 1237.5,1563.3 1238.0,1563.1 1238.5,1562.9 1239.0,1562.5 1239.5,1561.9 1240.0,1561.0 1240.5,1559.7 1241.0,1558.0 1241.5,1555.8 1242.0,1553.2 1242.5,1550.2 1243.0,1547.0 1243.5,1544.1 1244.0,1541.9 1244.6,1540.8 1245.0,1541.2 1245.5,1543.0 1246.0,1545.6 1246.5,1548.6 1247.0,1551.6 1247.5,1554.3 1248.0,1556.6 1248.5,1558.4 1249.0,1559.6 1249.5,1560.4 1250.0,1560.7 1250.5,1560.8 1251.0,1560.5 1251.5,1560.1 1252.0,1559.4 1252.5,1558.5 1253.0,1557.6 1253.5,1556.6 1254.0,1555.6 1254.5,1554.8 1255.0,1554.2 1255.5,1554.0 1256.0,1554.2 1256.5,1554.8 1257.0,1555.6 1257.5,1556.7 1258.0,1557.7 1258.5,1558.7 1259.0,1559.6 1259.5,1560.4 1260.0,1561.1 1260.5,1561.6 1261.0,1562.0 1261.5,1562.3 1262.0,1562.5 1262.5,1562.6 1263.0,1562.7 1263.5,1562.7 1264.0,1562.8 1264.5,1562.8 1265.0,1562.8 1265.5,1562.7 1266.0,1562.7 1266.5,1562.6 1267.0,1562.6 1267.5,1562.4 1268.0,1562.2 1268.5,1561.9 1269.0,1561.5 1269.5,1560.9 1270.0,1560.2 1270.5,1559.2 1271.0,1558.1 1271.5,1556.8 1272.0,1555.5 1272.5,1554.3 1273.0,1553.3 1273.6,1552.8 1274.0,1552.9 1274.5,1553.5 1275.0,1554.5 1275.5,1555.6 1276.0,1556.7 1276.5,1557.8 1277.0,1558.6 1277.5,1559.2 1278.0,1559.7 1278.5,1560.0 1279.0,1560.1 1279.5,1560.2 1280.0,1560.2 1280.5,1560.1 1281.0,1560.0 1281.5,1559.9 1282.0,1559.8 1282.5,1559.6 1283.0,1559.4 1283.5,1559.1 1284.0,1558.8 1284.5,1558.5 1285.0,1558.0 1285.5,1557.2 1286.0,1555.9 1286.5,1553.9 1287.0,1550.8 1287.5,1546.2 1288.0,1539.9 1288.5,1532.0 1289.0,1523.1 1289.5,1514.7 1290.0,1508.7 1290.4,1507.0 1291.0,1510.5 1291.5,1517.7 1292.0,1526.3 1292.5,1534.8 1293.0,1542.0 1293.5,1547.5 1294.0,1551.4 1294.5,1553.9 1295.0,1555.4 1295.5,1556.4 1296.0,1556.9 1296.5,1557.2 1297.0,1557.4 1297.5,1557.6 1298.0,1557.7 1298.5,1557.8 1299.0,1557.8 1299.5,1557.8 1300.0,1557.8 1300.5,1557.9 1301.0,1557.8 1301.5,1557.9 1302.0,1557.9 1302.5,1558.0 1303.0,1558.0 1303.5,1558.0 1304.0,1558.0 1304.5,1558.1 1305.0,1558.1 1305.5,1558.1 1306.0,1558.1 1306.5,1558.1 1307.0,1558.1 1307.5,1558.1 1308.0,1558.1 1308.5,1558.1 1309.0,1558.1 1309.5,1558.1 1310.0,1558.1 1310.5,1558.1 1311.0,1558.1 1311.5,1558.1 1312.0,1558.1 1312.5,1558.1 1313.0,1558.0 1313.5,1558.0 1314.0,1558.0 1314.5,1558.0 1315.0,1558.0 1315.5,1557.9 1316.0,1557.9 1316.5,1557.9 1317.0,1557.9 1317.5,1557.8 1318.0,1557.8 1318.5,1557.8 1319.0,1557.7 1319.5,1557.7 1320.0,1557.6 1320.5,1557.6 1321.0,1557.5 1321.5,1557.4 1322.0,1557.4 1322.5,1557.3 1323.0,1557.2 1323.5,1557.1 1324.0,1557.0 1324.5,1556.9 1325.0,1556.8 1325.5,1556.7 1326.0,1556.5 1326.5,1556.4 1327.0,1556.2 1327.5,1556.0 1328.0,1555.7 1328.5,1555.3 1329.0,1554.7 1329.5,1554.0 1330.0,1552.8 1330.5,1551.1 1331.0,1548.6 1331.5,1545.0 1332.0,1540.2 1332.5,1534.1 1333.0,1526.6 1333.5,1518.1 1334.0,1509.3 1334.5,1501.0 1335.0,1494.7 1335.6,1491.4 1336.0,1492.4 1336.5,1496.9 1337.0,1503.8 1337.5,1511.8 1338.0,1519.7 1338.5,1526.8 1339.0,1532.5 1339.5,1536.8 1340.0,1539.7 1340.5,1541.4 1341.0,1542.1 1341.5,1542.0 1342.0,1541.5 1342.5,1540.5 1343.0,1539.4 1343.5,1538.0 1344.0,1536.6 1344.5,1535.1 1345.0,1533.6 1345.5,1532.1 1346.0,1530.7 1346.5,1529.5 1347.0,1528.4 1347.5,1527.5 1348.0,1526.8 1348.5,1526.5 1349.0,1526.4 1349.5,1526.6 1350.0,1527.2 1350.5,1528.0 1351.0,1529.1 1351.5,1530.4 1352.0,1531.9 1352.5,1533.5 1353.0,1535.2 1353.5,1537.0 1354.0,1538.8 1354.5,1540.5 1355.0,1542.3 1355.5,1544.0 1356.0,1545.6 1356.5,1547.1 1357.0,1548.6 1357.5,1549.9 1358.0,1551.2 1358.5,1552.3 1359.0,1553.3 1359.5,1554.3 1360.0,1555.1 1360.5,1555.8 1361.0,1556.5 1361.5,1557.1 1362.0,1557.6 1362.5,1558.0 1363.0,1558.4 1363.5,1558.7 1364.0,1559.0 1364.5,1559.3 1365.0,1559.5 1365.5,1559.7 1366.0,1559.9 1366.5,1560.0 1367.0,1560.2 1367.5,1560.3 1368.0,1560.4 1368.5,1560.5 1369.0,1560.6 1369.5,1560.7 1370.0,1560.8 1370.5,1560.8 1371.0,1560.9 1371.5,1560.8 1372.0,1560.7 1372.5,1560.6 1373.0,1560.5 1373.5,1560.3 1374.0,1560.2 1374.5,1560.1 1375.0,1559.9 1375.5,1559.8 1376.0,1559.6 1376.5,1559.4 1377.0,1559.2 1377.5,1558.9 1378.0,1558.6 1378.5,1558.3 1379.0,1557.8 1379.5,1557.3 1380.0,1556.7 1380.5,1556.1 1381.0,1555.4 1381.5,1554.7 1382.0,1554.0 1382.5,1553.4 1383.0,1553.0 1383.4,1552.8 1384.0,1552.8 1384.5,1553.0 1385.0,1553.3 1385.5,1553.7 1386.0,1554.1 1386.5,1554.5 1387.0,1554.8 1387.5,1555.1 1388.0,1555.2 1388.5,1555.3 1389.0,1555.3 1389.5,1555.3 1390.0,1555.2 1390.5,1555.1 1391.0,1554.9 1391.5,1554.7 1392.0,1554.6 1392.5,1554.6 1393.0,1554.5 1393.5,1554.3 1394.0,1554.2 1394.5,1553.9 1395.0,1553.5 1395.5,1553.0 1396.0,1552.3 1396.5,1551.5 1397.0,1550.6 1397.5,1549.4 1398.0,1548.1 1398.5,1546.7 1399.0,1545.2 1399.5,1543.7 1400.0,1542.3 1400.5,1541.0 1401.0,1540.1 1401.5,1539.4 1402.0,1539.0 1402.5,1538.9 1403.0,1538.6 1403.5,1538.0 1404.0,1536.6 1404.5,1533.8 1405.0,1529.3 1405.5,1522.4 1406.0,1513.0 1406.5,1500.9 1407.0,1486.8 1407.5,1471.6 1408.0,1457.0 1408.5,1445.2 1409.0,1438.8 1409.2,1438.2 1409.5,1439.5 1410.0,1447.0 1410.5,1459.4 1411.0,1474.2 1411.5,1489.2 1412.0,1502.9 1412.5,1514.4 1413.0,1523.2 1413.5,1529.4 1414.0,1533.4 1414.5,1535.6 1415.0,1536.3 1415.5,1536.1 1416.0,1535.3 1416.5,1534.0 1417.0,1532.6 1417.5,1531.1 1418.0,1529.8 1418.5,1528.6 1419.0,1527.8 1419.5,1527.4 1420.0,1527.4 1420.5,1527.9 1421.0,1528.9 1421.5,1530.4 1422.0,1532.2 1422.5,1534.2 1423.0,1536.5 1423.5,1538.8 1424.0,1541.2 1424.5,1543.5 1425.0,1545.7 1425.5,1547.9 1426.0,1549.8 1426.5,1551.7 1427.0,1553.3 1427.5,1554.8 1428.0,1556.1 1428.5,1557.2 1429.0,1558.2 1429.5,1559.0 1430.0,1559.8 1430.5,1560.4 1431.0,1560.9 1431.5,1561.4 1432.0,1561.8 1432.5,1562.1 1433.0,1562.4 1433.5,1562.7 1434.0,1562.9 1434.5,1563.2 1435.0,1563.4 1435.5,1563.5 1436.0,1563.7 1436.5,1563.9 1437.0,1564.1 1437.5,1564.2 1438.0,1564.4 1438.5,1564.5 1439.0,1564.6 1439.5,1564.8 1440.0,1564.9 1440.5,1565.1 1441.0,1565.2 1441.5,1565.3 1442.0,1565.4 1442.5,1565.6 1443.0,1565.7 1443.5,1565.8 1444.0,1565.9 1444.5,1566.0 1445.0,1566.2 1445.5,1566.3 1446.0,1566.4 1446.5,1566.3 1447.0,1566.2 1447.5,1566.2 1448.0,1566.1 1448.5,1566.0 1449.0,1566.0 1449.5,1565.9 1450.0,1565.8 1450.5,1565.7 1451.0,1565.7 1451.5,1565.6 1452.0,1565.5 1452.5,1565.4 1453.0,1565.3 1453.5,1565.3 1454.0,1565.2 1454.5,1565.1 1455.0,1565.0 1455.5,1564.9 1456.0,1564.8 1456.5,1564.8 1457.0,1564.7 1457.5,1564.6 1458.0,1564.5 1458.5,1564.4 1459.0,1564.3 1459.5,1564.2 1460.0,1564.1 1460.5,1564.0 1461.0,1563.9 1461.5,1563.8 1462.0,1563.7 1462.5,1563.6 1463.0,1563.5 1463.5,1563.4 1464.0,1563.2 1464.5,1563.1 1465.0,1563.0 1465.5,1562.9 1466.0,1562.7 1466.5,1562.6 1467.0,1562.4 1467.5,1562.3 1468.0,1562.1 1468.5,1562.0 1469.0,1562.0 1469.5,1561.9 1470.0,1561.8 1470.5,1561.6 1471.0,1561.5 1471.5,1561.3 1472.0,1561.1 1472.5,1560.8 1473.0,1560.4 1473.5,1560.0 1474.0,1559.4 1474.5,1558.5 1475.0,1557.2 1475.5,1555.2 1476.0,1552.0 1476.5,1547.3 1477.0,1540.5 1477.5,1531.3 1478.0,1519.7 1478.5,1506.1 1479.0,1491.5 1479.5,1477.8 1480.0,1467.6 1480.4,1463.4 1481.0,1465.0 1481.5,1472.3 1482.0,1482.7 1482.5,1494.1 1483.0,1505.4 1483.5,1515.7 1484.0,1524.7 1484.5,1532.3 1485.0,1538.6 1485.5,1543.7 1486.0,1547.8 1486.5,1551.2 1487.0,1553.9 1487.5,1556.1 1488.0,1557.8 1488.5,1559.2 1489.0,1560.2 1489.5,1561.0 1490.0,1561.6 1490.5,1562.1 1491.0,1562.5 1491.5,1562.8 1492.0,1563.0 1492.5,1563.2 1493.0,1563.4 1493.5,1563.6 1494.0,1563.7 1494.5,1563.8 1495.0,1563.9 1495.5,1564.1 1496.0,1564.2 1496.5,1564.2 1497.0,1564.3 1497.5,1564.4 1498.0,1564.5 1498.5,1564.5 1499.0,1564.6 1499.5,1564.7 1500.0,1564.7 1500.5,1564.8 1501.0,1564.8 1501.5,1564.8 1502.0,1564.9 1502.5,1564.9 1503.0,1564.9 1503.5,1564.9 1504.0,1564.9 1504.5,1564.8 1505.0,1564.6 1505.5,1564.4 1506.0,1564.1 1506.5,1563.9 1507.0,1563.5 1507.5,1563.1 1508.0,1562.4 1508.5,1561.4 1509.0,1559.9 1509.5,1557.7 1510.0,1554.6 1510.5,1550.7 1511.0,1546.3 1511.5,1541.9 1512.0,1538.5 1512.5,1537.1 1513.0,1538.2 1513.5,1541.4 1514.0,1545.5 1514.5,1549.7 1515.0,1553.3 1515.5,1556.1 1516.0,1558.1 1516.5,1559.3 1517.0,1560.1 1517.5,1560.5 1518.0,1560.7 1518.5,1560.7 1519.0,1561.1 1519.5,1561.5 1520.0,1561.9 1520.5,1562.2 1521.0,1562.5 1521.5,1562.8 1522.0,1563.1 1522.5,1563.4 1523.0,1563.7 1523.5,1564.0 1524.0,1564.3 1524.5,1564.6 1525.0,1564.9 1525.5,1565.1 1526.0,1565.4 1526.5,1565.7 1527.0,1566.0 1527.5,1566.2 1528.0,1566.5 1528.5,1566.8 1529.0,1567.0 1529.5,1567.3 1530.0,1567.6 1530.5,1567.8 1531.0,1568.1 1531.5,1568.1 1532.0,1568.1 1532.5,1568.1 1533.0,1568.1 1533.5,1568.1 1534.0,1568.1 1534.5,1568.1 1535.0,1568.1 1535.5,1568.1 1536.0,1568.1 1536.5,1568.1 1537.0,1568.1 1537.5,1568.1 1538.0,1568.1 1538.5,1568.1 1539.0,1568.0 1539.5,1568.0 1540.0,1568.0 1540.5,1568.0 1541.0,1568.0 1541.5,1567.9 1542.0,1567.9 1542.5,1567.9 1543.0,1567.8 1543.5,1567.8 1544.0,1567.8 1544.5,1567.7 1545.0,1567.6 1545.5,1567.5 1546.0,1567.4 1546.5,1567.2 1547.0,1567.0 1547.5,1566.8 1548.0,1566.4 1548.5,1565.9 1549.0,1565.1 1549.5,1563.8 1550.0,1561.8 1550.5,1558.7 1551.0,1554.4 1551.5,1548.9 1552.0,1542.7 1552.5,1536.5 1553.0,1531.8 1553.5,1529.9 1554.0,1531.7 1554.5,1536.4 1555.0,1542.5 1555.5,1548.7 1556.0,1554.0 1556.5,1558.2 1557.0,1561.2 1557.5,1563.2 1558.0,1564.4 1558.5,1565.2 1559.0,1565.6 1559.5,1565.9 1560.0,1566.1 1560.5,1566.2 1561.0,1566.3 1561.5,1566.3 1562.0,1566.4 1562.5,1566.4 1563.0,1566.4 1563.5,1566.4 1564.0,1566.4 1564.5,1566.4 1565.0,1566.4 1565.5,1566.4 1566.0,1566.4 1566.5,1566.4 1567.0,1566.4 1567.5,1566.4 1568.0,1566.3 1568.5,1566.3 1569.0,1566.3 1569.5,1566.3 1570.0,1566.2 1570.5,1566.2 1571.0,1566.2 1571.5,1566.1 1572.0,1566.1 1572.5,1566.1 1573.0,1566.0 1573.5,1566.0 1574.0,1566.0 1574.5,1565.9 1575.0,1565.9 1575.5,1565.8 1576.0,1565.8 1576.5,1565.8 1577.0,1565.7 1577.5,1565.7 1578.0,1565.6 1578.5,1565.7 1579.0,1565.7 1579.5,1565.7 1580.0,1565.7 1580.5,1565.7 1581.0,1565.7 1581.5,1565.7 1582.0,1565.6 1582.5,1565.5 1583.0,1565.3 1583.5,1565.0 1584.0,1564.7 1584.5,1564.2 1585.0,1563.6 1585.5,1562.9 1586.0,1562.1 1586.5,1561.3 1587.0,1560.5 1587.5,1559.9 1588.0,1559.4 1588.6,1559.2 1589.0,1559.4 1589.5,1559.8 1590.0,1560.5 1590.5,1561.4 1591.0,1562.3 1591.5,1563.2 1592.0,1564.0 1592.5,1564.8 1593.0,1565.4 1593.5,1565.9 1594.0,1566.3 1594.5,1566.7 1595.0,1566.9 1595.5,1567.1 1596.0,1567.3 1596.5,1567.4 1597.0,1567.5 1597.5,1567.6 1598.0,1567.7 1598.5,1567.7 1599.0,1567.8 1599.5,1567.9 1600.0,1567.9 1600.5,1568.0 1601.0,1568.1 1601.5,1568.1 1602.0,1568.2 1602.5,1568.3 1603.0,1568.3 1603.5,1568.4 1604.0,1568.4 1604.5,1568.5 1605.0,1568.5 1605.5,1568.6 1606.0,1568.7 1606.5,1568.7 1607.0,1568.8 1607.5,1568.8 1608.0,1568.8 1608.5,1568.8 1609.0,1568.7 1609.5,1568.7 1610.0,1568.6 1610.5,1568.6 1611.0,1568.6 1611.5,1568.5 1612.0,1568.5 1612.5,1568.5 1613.0,1568.4 1613.5,1568.4 1614.0,1568.3 1614.5,1568.3 1615.0,1568.3 1615.5,1568.2 1616.0,1568.2 1616.5,1568.1 1617.0,1568.1 1617.5,1568.0 1618.0,1568.0 1618.5,1568.0 1619.0,1567.9 1619.5,1567.9 1620.0,1567.8 1620.5,1567.8 1621.0,1567.8 1621.5,1567.7 1622.0,1567.7 1622.5,1567.6 1623.0,1567.6 1623.5,1567.5 1624.0,1567.5 1624.5,1567.5 1625.0,1567.4 1625.5,1567.4 1626.0,1567.3 1626.5,1567.3 1627.0,1567.2 1627.5,1567.2 1628.0,1567.1 1628.5,1567.1 1629.0,1567.0 1629.5,1567.0 1630.0,1566.9 1630.5,1566.9 1631.0,1566.8 1631.5,1566.7 1632.0,1566.7 1632.5,1566.6 1633.0,1566.5 1633.5,1566.4 1634.0,1566.2 1634.5,1566.0 1635.0,1565.8 1635.5,1565.6 1636.0,1565.3 1636.5,1565.0 1637.0,1564.7 1637.5,1564.4 1638.0,1564.0 1638.5,1563.7 1639.0,1563.5 1639.5,1563.3 1640.0,1563.2 1640.5,1563.2 1641.0,1563.3 1641.5,1563.5 1642.0,1563.7 1642.5,1563.9 1643.0,1564.2 1643.5,1564.4 1644.0,1564.6 1644.5,1564.8 1645.0,1565.0 1645.5,1565.1 1646.0,1565.2 1646.5,1565.3 1647.0,1565.3 1647.5,1565.3 1648.0,1565.4 1648.5,1565.3 1649.0,1565.3 1649.5,1565.3 1650.0,1565.3 1650.5,1565.3 1651.0,1565.2 1651.5,1565.2 1652.0,1565.2 1652.5,1565.1 1653.0,1565.1 1653.5,1565.1 1654.0,1565.0 1654.5,1565.0 1655.0,1564.9 1655.5,1564.9 1656.0,1564.9 1656.5,1564.9 1657.0,1564.9 1657.5,1564.9 1658.0,1564.9 1658.5,1564.9 1659.0,1564.9 1659.5,1564.9 1660.0,1564.9 1660.5,1564.9 1661.0,1564.9 1661.5,1564.9 1662.0,1564.9 1662.5,1564.9 1663.0,1564.9 1663.5,1564.9 1664.0,1564.9 1664.5,1564.9 1665.0,1564.9 1665.5,1564.9 1666.0,1564.9 1666.5,1564.9 1667.0,1564.9 1667.5,1564.9 1668.0,1564.9 1668.5,1564.9 1669.0,1564.9 1669.5,1564.9 1670.0,1564.9 1670.5,1564.9 1671.0,1564.9 1671.5,1564.9 1672.0,1564.9 1672.5,1564.9 1673.0,1564.9 1673.5,1564.9 1674.0,1564.9 1674.5,1564.9 1675.0,1564.9 1675.5,1564.9 1676.0,1564.9 1676.5,1564.9 1677.0,1564.8 1677.5,1564.8 1678.0,1564.8 1678.5,1564.8 1679.0,1564.8 1679.5,1564.8 1680.0,1564.8 1680.5,1564.8 1681.0,1564.8 1681.5,1564.8 1682.0,1564.8 1682.5,1564.8 1683.0,1564.8 1683.5,1564.8 1684.0,1564.8 1684.5,1564.8 1685.0,1564.8 1685.5,1564.8 1686.0,1564.8 1686.5,1564.8 1687.0,1564.8 1687.5,1564.8 1688.0,1564.8 1688.5,1564.8 1689.0,1564.7 1689.5,1564.7 1690.0,1564.7 1690.5,1564.6 1691.0,1564.6 1691.5,1564.5 1692.0,1564.4 1692.5,1564.3 1693.0,1564.1 1693.5,1563.9 1694.0,1563.7 1694.5,1563.4 1695.0,1563.1 1695.5,1562.7 1696.0,1562.4 1696.5,1562.0 1697.0,1561.6 1697.5,1561.2 1698.0,1560.9 1698.5,1560.6 1699.0,1560.5 1699.5,1560.4 1700.0,1560.4 1700.5,1560.6 1701.0,1560.8 1701.5,1561.1 1702.0,1561.5 1702.5,1561.8 1703.0,1562.1 1703.5,1562.4 1704.0,1562.6 1704.5,1562.8 1705.0,1562.9 1705.5,1562.9 1706.0,1562.8 1706.5,1562.6 1707.0,1562.3 1707.5,1561.9 1708.0,1561.4 1708.5,1560.7 1709.0,1560.0 1709.5,1559.2 1710.0,1558.4 1710.5,1557.6 1711.0,1556.8 1711.5,1556.1 1712.0,1555.6 1712.5,1555.2 1713.0,1555.1 1713.5,1555.2 1714.0,1555.6 1714.5,1556.2 1715.0,1557.0 1715.5,1557.8 1716.0,1558.7 1716.5,1559.6 1717.0,1560.4 1717.5,1561.2 1718.0,1561.9 1718.5,1562.6 1719.0,1563.1 1719.5,1563.6 1720.0,1564.0 1720.5,1564.3 1721.0,1564.6 1721.5,1564.8 1722.0,1564.9 1722.5,1565.1 1723.0,1565.2 1723.5,1565.3 1724.0,1565.3 1724.5,1565.4 1725.0,1565.4 1725.5,1565.5 1726.0,1565.5 1726.5,1565.6 1727.0,1565.6 1727.5,1565.6 1728.0,1565.6 1728.5,1565.7 1729.0,1565.7 1729.5,1565.7 1730.0,1565.7 1730.5,1565.7 1731.0,1565.7 1731.5,1565.8 1732.0,1565.8 1732.5,1565.8 1733.0,1565.8 1733.5,1565.8 1734.0,1565.8 1734.5,1565.8 1735.0,1565.8 1735.5,1565.8 1736.0,1565.8 1736.5,1565.8 1737.0,1565.8 1737.5,1565.8 1738.0,1565.8 1738.5,1565.8 1739.0,1565.8 1739.5,1565.8 1740.0,1565.8 1740.5,1565.8 1741.0,1565.8 1741.5,1565.8 1742.0,1565.8 1742.5,1565.8 1743.0,1565.8 1743.5,1565.8 1744.0,1565.8 1744.5,1565.8 1745.0,1565.8 1745.5,1565.8 1746.0,1565.9 1746.5,1565.9 1747.0,1565.9 1747.5,1565.9 1748.0,1565.9 1748.5,1565.9 1749.0,1565.8 1749.5,1565.8 1750.0,1565.8 1750.5,1565.8 1751.0,1565.8 1751.5,1565.8 1752.0,1565.8 1752.5,1565.8 1753.0,1565.8 1753.5,1565.8 1754.0,1565.8 1754.5,1565.8 1755.0,1565.8 1755.5,1565.8 1756.0,1565.8 1756.5,1565.8 1757.0,1565.8 1757.5,1565.8 1758.0,1565.8 1758.5,1565.8 1759.0,1565.8 1759.5,1565.8 1760.0,1565.8 1760.5,1565.8 1761.0,1565.8 1761.5,1565.8 1762.0,1565.7 1762.5,1565.8 1763.0,1565.8 1763.5,1565.8 1764.0,1565.8 1764.5,1565.8 1765.0,1565.8 1765.5,1565.8 1766.0,1565.8 1766.5,1565.8 1767.0,1565.8 1767.5,1565.8 1768.0,1565.7 1768.5,1565.7 1769.0,1565.6 1769.5,1565.5 1770.0,1565.3 1770.5,1565.1 1771.0,1564.7 1771.5,1564.2 1772.0,1563.6 1772.5,1562.8 1773.0,1561.8 1773.5,1560.7 1774.0,1559.5 1774.5,1558.2 1775.0,1557.0 1775.5,1556.0 1776.0,1555.3 1776.5,1555.1 1777.0,1555.4 1777.5,1556.1 1778.0,1557.2 1778.5,1558.4 1779.0,1559.7 1779.5,1561.0 1780.0,1562.2 1780.5,1563.2 1781.0,1564.0 1781.5,1564.7 1782.0,1565.3 1782.5,1565.7 1783.0,1566.0 1783.5,1566.2 1784.0,1566.3 1784.5,1566.5 1785.0,1566.6 1785.5,1566.6 1786.0,1566.7 1786.5,1566.8 1787.0,1566.8 1787.5,1566.9 1788.0,1566.9 1788.5,1567.0 1789.0,1567.0 1789.5,1567.0 1790.0,1567.1 1790.5,1567.1 1791.0,1567.1 1791.5,1567.1 1792.0,1567.2 1792.5,1567.2 1793.0,1567.2 1793.5,1567.2 1794.0,1567.2 1794.5,1567.2 1795.0,1567.3 1795.5,1567.3 1796.0,1567.3 1796.5,1567.3 1797.0,1567.3 1797.5,1567.3 1798.0,1567.2 1798.5,1567.2 1799.0,1567.2 1799.5,1567.2 1800.0,1567.1 1800.5,1567.1 1801.0,1567.0 1801.5,1567.0 1802.0,1566.9 1802.5,1566.7 1803.0,1566.5 1803.5,1566.2 1804.0,1565.7 1804.5,1565.0 1805.0,1564.0 1805.5,1562.4 1806.0,1560.3 1806.5,1557.6 1807.0,1554.2 1807.5,1550.4 1808.0,1546.2 1808.5,1542.3 1809.0,1539.2 1809.5,1537.5 1809.7,1537.4 1810.0,1537.8 1810.5,1539.8 1811.0,1543.2 1811.5,1547.2 1812.0,1551.4 1812.5,1555.2 1813.0,1558.5 1813.5,1561.2 1814.0,1563.2 1814.5,1564.6 1815.0,1565.7 1815.5,1566.4 1816.0,1566.9 1816.5,1567.2 1817.0,1567.4 1817.5,1567.6 1818.0,1567.8 1818.5,1567.9 1819.0,1568.0 1819.5,1568.1 1820.0,1568.2 1820.5,1568.2 1821.0,1568.3 1821.5,1568.4 1822.0,1568.4 1822.5,1568.5 1823.0,1568.5 1823.5,1568.6 1824.0,1568.6 1824.5,1568.6 1825.0,1568.7 1825.5,1568.7 1826.0,1568.7 1826.5,1568.7 1827.0,1568.7 1827.5,1568.7 1828.0,1568.7 1828.5,1568.8 1829.0,1568.8 1829.5,1568.8 1830.0,1568.8 1830.5,1568.8 1831.0,1568.8 1831.5,1568.8 1832.0,1568.8 1832.5,1568.8 1833.0,1568.8 1833.5,1568.8 1834.0,1568.8 1834.5,1568.8 1835.0,1568.8 1835.5,1568.8 1836.0,1568.8 1836.5,1568.8 1837.0,1568.8 1837.5,1568.9 1838.0,1568.9 1838.5,1568.9 1839.0,1568.9 1839.5,1568.9 1840.0,1568.9 1840.5,1568.9 1841.0,1568.9 1841.5,1568.9 1842.0,1568.9 1842.5,1568.9 1843.0,1568.9 1843.5,1568.9 1844.0,1568.9 1844.5,1568.9 1845.0,1568.9 1845.5,1568.9 1846.0,1568.9 1846.5,1568.9 1847.0,1568.9 1847.5,1568.9 1848.0,1568.9 1848.5,1568.9 1849.0,1568.9 1849.5,1568.9 1850.0,1568.9 1850.5,1568.9 1851.0,1568.9 1851.5,1568.8 1852.0,1568.8 1852.5,1568.8 1853.0,1568.8 1853.5,1568.7 1854.0,1568.6 1854.5,1568.5 1855.0,1568.4 1855.5,1568.3 1856.0,1568.2 1856.5,1568.0 1857.0,1567.9 1857.5,1567.7 1858.0,1567.5 1858.5,1567.2 1859.0,1566.9 1859.5,1566.6 1860.0,1566.3 1860.5,1565.9 1861.0,1565.5 1861.5,1565.1 1862.0,1564.8 1862.5,1564.6 1863.0,1564.4 1863.5,1564.4 1864.0,1564.4 1864.5,1564.6 1865.0,1564.7 1865.5,1564.9 1866.0,1565.1 1866.5,1565.3 1867.0,1565.4 1867.5,1565.5 1868.0,1565.5 1868.5,1565.5 1869.0,1565.5 1869.5,1565.5 1870.0,1565.4 1870.5,1565.3 1871.0,1565.3 1871.5,1565.2 1872.0,1565.1 1872.5,1565.0 1873.0,1564.9 1873.5,1564.8 1874.0,1564.7 1874.5,1564.7 1875.0,1564.7 1875.5,1564.7 1876.0,1564.7 1876.5,1564.6 1877.0,1564.6 1877.5,1564.6 1878.0,1564.5 1878.5,1564.5 1879.0,1564.5 1879.5,1564.4 1880.0,1564.3 1880.5,1564.2 1881.0,1564.1 1881.5,1564.0 1882.0,1563.8 1882.5,1563.5 1883.0,1563.2 1883.5,1562.9 1884.0,1562.4 1884.5,1561.9 1885.0,1561.4 1885.5,1560.7 1886.0,1560.1 1886.5,1559.4 1887.0,1558.8 1887.5,1558.3 1888.0,1558.0 1888.6,1557.8 1889.0,1557.9 1889.5,1558.1 1890.0,1558.5 1890.5,1559.1 1891.0,1559.7 1891.5,1560.3 1892.0,1560.9 1892.5,1561.4 1893.0,1561.9 1893.5,1562.4 1894.0,1562.7 1894.5,1563.0 1895.0,1563.2 1895.5,1563.4 1896.0,1563.5 1896.5,1563.6 1897.0,1563.6 1897.5,1563.7 1898.0,1563.7 1898.5,1563.7 1899.0,1563.7 1899.5,1563.6 1900.0,1563.6 1900.5,1563.5 1901.0,1563.4 1901.5,1563.2 1902.0,1563.0 1902.5,1562.6 1903.0,1562.2 1903.5,1561.7 1904.0,1561.1 1904.5,1560.4 1905.0,1559.5 1905.5,1558.7 1906.0,1557.9 1906.5,1557.2 1907.0,1556.6 1907.6,1556.4 1908.0,1556.5 1908.5,1556.9 1909.0,1557.5 1909.5,1558.3 1910.0,1559.1 1910.5,1559.9 1911.0,1560.7 1911.5,1561.3 1912.0,1561.8 1912.5,1562.3 1913.0,1562.6 1913.5,1562.9 1914.0,1563.0 1914.5,1563.2 1915.0,1563.2 1915.5,1563.3 1916.0,1563.3 1916.5,1563.4 1917.0,1563.4 1917.5,1563.4 1918.0,1563.4 1918.5,1563.4 1919.0,1563.4 1919.5,1563.4 1920.0,1563.4 1920.5,1563.4 1921.0,1563.4 1921.5,1563.4 1922.0,1563.4 1922.5,1563.4 1923.0,1563.4 1923.5,1563.4 1924.0,1563.4 1924.5,1563.4 1925.0,1563.4 1925.5,1563.4 1926.0,1563.4 1926.5,1563.4 1927.0,1563.4 1927.5,1563.4 1928.0,1563.5 1928.5,1563.5 1929.0,1563.5 1929.5,1563.5 1930.0,1563.5 1930.5,1563.5 1931.0,1563.5 1931.5,1563.5 1932.0,1563.5 1932.5,1563.5 1933.0,1563.5 1933.5,1563.6 1934.0,1563.6 1934.5,1563.6 1935.0,1563.6 1935.5,1563.6 1936.0,1563.6 1936.5,1563.6 1937.0,1563.6 1937.5,1563.6 1938.0,1563.6 1938.5,1563.6 1939.0,1563.6 1939.5,1563.6 1940.0,1563.6 1940.5,1563.6 1941.0,1563.6 1941.5,1563.6 1942.0,1563.6 1942.5,1563.6 1943.0,1563.6 1943.5,1563.6 1944.0,1563.5 1944.5,1563.5 1945.0,1563.4 1945.5,1563.3 1946.0,1563.2 1946.5,1563.1 1947.0,1562.9 1947.5,1562.8 1948.0,1562.6 1948.5,1562.4 1949.0,1562.2 1949.5,1562.1 1950.0,1562.0 1950.5,1561.9 1950.8,1561.9 1951.0,1561.9 1951.5,1562.0 1952.0,1562.1 1952.5,1562.3 1953.0,1562.4 1953.5,1562.6 1954.0,1562.8 1954.5,1563.0 1955.0,1563.2 1955.5,1563.3 1956.0,1563.5 1956.5,1563.6 1957.0,1563.7 1957.5,1563.7 1958.0,1563.8 1958.5,1563.8 1959.0,1563.9 1959.5,1563.9 1960.0,1563.9 1960.5,1563.9 1961.0,1564.0 1961.5,1564.0 1962.0,1564.0 1962.5,1564.0 1963.0,1564.0 1963.5,1564.0 1964.0,1564.0 1964.5,1564.1 1965.0,1564.1 1965.5,1564.1 1966.0,1564.1 1966.5,1564.1 1967.0,1564.1 1967.5,1564.1 1968.0,1564.1 1968.5,1564.1 1969.0,1564.1 1969.5,1564.2 1970.0,1564.2 1970.5,1564.2 1971.0,1564.2 1971.5,1564.2 1972.0,1564.2 1972.5,1564.2 1973.0,1564.2 1973.5,1564.2 1974.0,1564.2 1974.5,1564.2 1975.0,1564.2 1975.5,1564.3 1976.0,1564.3 1976.5,1564.3 1977.0,1564.3 1977.5,1564.3 1978.0,1564.3 1978.5,1564.3 1979.0,1564.3 1979.5,1564.3 1980.0,1564.3 1980.5,1564.3 1981.0,1564.3 1981.5,1564.4 1982.0,1564.4 1982.5,1564.4 1983.0,1564.4 1983.5,1564.4 1984.0,1564.4 1984.5,1564.4 1985.0,1564.4 1985.5,1564.4 1986.0,1564.4 1986.5,1564.4 1987.0,1564.4 1987.5,1564.5 1988.0,1564.5 1988.5,1564.5 1989.0,1564.5 1989.5,1564.5 1990.0,1564.5 1990.5,1564.5 1991.0,1564.5 1991.5,1564.5 1992.0,1564.5 1992.5,1564.5 1993.0,1564.5 1993.5,1564.5 1994.0,1564.6 1994.5,1564.6 1995.0,1564.6 1995.5,1564.6 1996.0,1564.6 1996.5,1564.6 1997.0,1564.6 1997.5,1564.6 1998.0,1564.6 1998.5,1564.6 1999.0,1564.6 1999.5,1564.6 2000.0,1564.6 2000.5,1564.7 2001.0,1564.7 2001.5,1564.7 2002.0,1564.7 2002.5,1564.7 2003.0,1564.7 2003.5,1564.7 2004.0,1564.7 2004.5,1564.7 2005.0,1564.7 2005.5,1564.7 2006.0,1564.7 2006.5,1564.8 2007.0,1564.8 2007.5,1564.8 2008.0,1564.8 2008.5,1564.8 2009.0,1564.8 2009.5,1564.8 2010.0,1564.8 2010.5,1564.8 2011.0,1564.8 2011.5,1564.8 2012.0,1564.8 2012.5,1564.8 2013.0,1564.9 2013.5,1564.9 2014.0,1564.9 2014.5,1564.9 2015.0,1564.9 2015.5,1564.9 2016.0,1564.9 2016.5,1564.9 2017.0,1564.9 2017.5,1564.9 2018.0,1564.9 2018.5,1564.9 2019.0,1564.9 2019.5,1565.0 2020.0,1565.0 2020.5,1565.0 2021.0,1565.0 2021.5,1565.0 2022.0,1565.0 2022.5,1565.0 2023.0,1565.0 2023.5,1565.0 2024.0,1565.0 2024.5,1565.0 2025.0,1565.0 2025.5,1565.0 2026.0,1565.1 2026.5,1565.1 2027.0,1565.1 2027.5,1565.1 2028.0,1565.1 2028.5,1565.1 2029.0,1565.1 2029.5,1565.1 2030.0,1565.1 2030.5,1565.1 2031.0,1565.1 2031.5,1565.1 2032.0,1565.1 2032.5,1565.2 2033.0,1565.2 2033.5,1565.2 2034.0,1565.2 2034.5,1565.2 2035.0,1565.2 2035.5,1565.2 2036.0,1565.2 2036.5,1565.2 2037.0,1565.2 2037.5,1565.2 2038.0,1565.2 2038.5,1565.2 2039.0,1565.2 2039.5,1565.3 2040.0,1565.3 2040.5,1565.3 2041.0,1565.3 2041.5,1565.3 2042.0,1565.3 2042.5,1565.3 2043.0,1565.3 2043.5,1565.3 2044.0,1565.3 2044.5,1565.3 2045.0,1565.3 2045.5,1565.3 2046.0,1565.4 2046.5,1565.4 2047.0,1565.4 2047.5,1565.4 2048.0,1565.4 2048.5,1565.4 2049.0,1565.4 2049.5,1565.4 2050.0,1565.4 2050.5,1565.4 2051.0,1565.4 2051.5,1565.4 2052.0,1565.4 2052.5,1565.4 2053.0,1565.4 2053.5,1565.4 2054.0,1565.4 2054.5,1565.4 2055.0,1565.4 2055.5,1565.5 2056.0,1565.5 2056.5,1565.5 2057.0,1565.4 2057.5,1565.4 2058.0,1565.4 2058.5,1565.4 2059.0,1565.4 2059.5,1565.3 2060.0,1565.3 2060.5,1565.2 2061.0,1565.1 2061.5,1565.0 2062.0,1564.8 2062.5,1564.6 2063.0,1564.3 2063.5,1564.1 2064.0,1563.9 2064.5,1563.6 2065.0,1563.5 2065.7,1563.4 2066.0,1563.4 2066.5,1563.5 2067.0,1563.7 2067.5,1564.0 2068.0,1564.2 2068.5,1564.5 2069.0,1564.7 2069.5,1564.9 2070.0,1565.1 2070.5,1565.3 2071.0,1565.4 2071.5,1565.5 2072.0,1565.6 2072.5,1565.6 2073.0,1565.6 2073.5,1565.7 2074.0,1565.7 2074.5,1565.7 2075.0,1565.7 2075.5,1565.8 2076.0,1565.8 2076.5,1565.8 2077.0,1565.8 2077.5,1565.8 2078.0,1565.8 2078.5,1565.8 2079.0,1565.8 2079.5,1565.9 2080.0,1565.9 2080.5,1565.9 2081.0,1565.9 2081.5,1565.9 2082.0,1565.9 2082.5,1565.9 2083.0,1565.9 2083.5,1565.9 2084.0,1565.9 2084.5,1565.9 2085.0,1566.0 2085.5,1566.0 2086.0,1566.0 2086.5,1566.0 2087.0,1566.0 2087.5,1566.0 2088.0,1566.0 2088.5,1566.0 2089.0,1566.0 2089.5,1566.0 2090.0,1566.0"/>
<polyline fill="none" stroke="#f5373c" stroke-width="6.0" stroke-linejoin="round" stroke-linecap="round" points="125.0,1201.0 125.5,1201.0 126.0,1201.0 126.5,1201.1 127.0,1201.1 127.5,1201.1 128.0,1201.2 128.5,1201.2 129.0,1201.2 129.5,1201.3 130.0,1201.3 130.5,1201.3 131.0,1201.4 131.5,1201.4 132.0,1201.4 132.5,1201.4 133.0,1201.5 133.5,1201.5 134.0,1201.5 134.5,1201.6 135.0,1201.6 135.5,1201.6 136.0,1201.7 136.5,1201.7 137.0,1201.7 137.5,1201.8 138.0,1201.8 138.5,1201.8 139.0,1201.9 139.5,1201.9 140.0,1201.9 140.5,1202.0 141.0,1202.0 141.5,1202.0 142.0,1202.0 142.5,1202.1 143.0,1202.1 143.5,1202.1 144.0,1202.2 144.5,1202.2 145.0,1202.2 145.5,1202.3 146.0,1202.3 146.5,1202.3 147.0,1202.4 147.5,1202.4 148.0,1202.4 148.5,1202.5 149.0,1202.5 149.5,1202.5 150.0,1202.6 150.5,1202.6 151.0,1202.6 151.5,1202.6 152.0,1202.7 152.5,1202.7 153.0,1202.7 153.5,1202.8 154.0,1202.8 154.5,1202.8 155.0,1202.9 155.5,1202.9 156.0,1202.9 156.5,1203.0 157.0,1203.0 157.5,1203.1 158.0,1203.1 158.5,1203.1 159.0,1203.2 159.5,1203.2 160.0,1203.3 160.5,1203.3 161.0,1203.3 161.5,1203.4 162.0,1203.4 162.5,1203.5 163.0,1203.5 163.5,1203.5 164.0,1203.6 164.5,1203.6 165.0,1203.7 165.5,1203.7 166.0,1203.7 166.5,1203.8 167.0,1203.8 167.5,1203.9 168.0,1203.9 168.5,1203.9 169.0,1204.0 169.5,1204.0 170.0,1204.1 170.5,1204.1 171.0,1204.1 171.5,1204.2 172.0,1204.2 172.5,1204.3 173.0,1204.3 173.5,1204.3 174.0,1204.4 174.5,1204.4 175.0,1204.5 175.5,1204.5 176.0,1204.5 176.5,1204.6 177.0,1204.6 177.5,1204.7 178.0,1204.7 178.5,1204.7 179.0,1204.8 179.5,1204.8 180.0,1204.9 180.5,1204.9 181.0,1204.9 181.5,1204.9 182.0,1205.0 182.5,1205.0 183.0,1205.0 183.5,1205.0 184.0,1205.1 184.5,1205.1 185.0,1205.1 185.5,1205.1 186.0,1205.2 186.5,1205.2 187.0,1205.2 187.5,1205.2 188.0,1205.3 188.5,1205.3 189.0,1205.3 189.5,1205.3 190.0,1205.3 190.5,1205.4 191.0,1205.4 191.5,1205.4 192.0,1205.4 192.5,1205.5 193.0,1205.5 193.5,1205.5 194.0,1205.5 194.5,1205.6 195.0,1205.6 195.5,1205.6 196.0,1205.6 196.5,1205.7 197.0,1205.7 197.5,1205.7 198.0,1205.7 198.5,1205.8 199.0,1205.8 199.5,1205.8 200.0,1205.8 200.5,1205.9 201.0,1205.9 201.5,1205.9 202.0,1205.9 202.5,1206.0 203.0,1206.0 203.5,1206.0 204.0,1206.0 204.5,1206.0 205.0,1206.1 205.5,1206.1 206.0,1206.1 206.5,1206.1 207.0,1206.2 207.5,1206.2 208.0,1206.2 208.5,1206.2 209.0,1206.3 209.5,1206.3 210.0,1206.3 210.5,1206.3 211.0,1206.4 211.5,1206.4 212.0,1206.4 212.5,1206.4 213.0,1206.5 213.5,1206.5 214.0,1206.5 214.5,1206.5 215.0,1206.6 215.5,1206.6 216.0,1206.6 216.5,1206.6 217.0,1206.7 217.5,1206.7 218.0,1206.7 218.5,1206.7 219.0,1206.8 219.5,1206.8 220.0,1206.8 220.5,1206.8 221.0,1206.9 221.5,1206.9 222.0,1206.9 222.5,1207.0 223.0,1207.0 223.5,1207.0 224.0,1207.0 224.5,1207.1 225.0,1207.1 225.5,1207.1 226.0,1207.1 226.5,1207.2 227.0,1207.2 227.5,1207.2 228.0,1207.3 228.5,1207.3 229.0,1207.3 229.5,1207.3 230.0,1207.4 230.5,1207.4 231.0,1207.4 231.5,1207.4 232.0,1207.5 232.5,1207.5 233.0,1207.5 233.5,1207.5 234.0,1207.6 234.5,1207.6 235.0,1207.6 235.5,1207.7 236.0,1207.7 236.5,1207.7 237.0,1207.7 237.5,1207.8 238.0,1207.8 238.5,1207.8 239.0,1207.8 239.5,1207.9 240.0,1207.9 240.5,1207.9 241.0,1207.9 241.5,1208.0 242.0,1208.0 242.5,1208.0 243.0,1208.1 243.5,1208.1 244.0,1208.1 244.5,1208.1 245.0,1208.2 245.5,1208.2 246.0,1208.2 246.5,1208.2 247.0,1208.3 247.5,1208.3 248.0,1208.3 248.5,1208.3 249.0,1208.4 249.5,1208.4 250.0,1208.4 250.5,1208.5 251.0,1208.5 251.5,1208.5 252.0,1208.5 252.5,1208.6 253.0,1208.6 253.5,1208.6 254.0,1208.6 254.5,1208.7 255.0,1208.7 255.5,1208.7 256.0,1208.7 256.5,1208.8 257.0,1208.8 257.5,1208.8 258.0,1208.8 258.5,1208.9 259.0,1208.9 259.5,1208.9 260.0,1208.9 260.5,1209.0 261.0,1209.0 261.5,1209.0 262.0,1209.0 262.5,1209.0 263.0,1209.1 263.5,1209.1 264.0,1209.1 264.5,1209.1 265.0,1209.2 265.5,1209.2 266.0,1209.2 266.5,1209.2 267.0,1209.3 267.5,1209.3 268.0,1209.3 268.5,1209.3 269.0,1209.4 269.5,1209.4 270.0,1209.4 270.5,1209.4 271.0,1209.5 271.5,1209.5 272.0,1209.5 272.5,1209.5 273.0,1209.6 273.5,1209.6 274.0,1209.6 274.5,1209.6 275.0,1209.7 275.5,1209.7 276.0,1209.7 276.5,1209.7 277.0,1209.7 277.5,1209.8 278.0,1209.8 278.5,1209.8 279.0,1209.8 279.5,1209.9 280.0,1209.9 280.5,1209.9 281.0,1209.9 281.5,1209.9 282.0,1210.0 282.5,1210.0 283.0,1210.0 283.5,1210.0 284.0,1210.0 284.5,1210.1 285.0,1210.1 285.5,1210.1 286.0,1210.1 286.5,1210.1 287.0,1210.2 287.5,1210.2 288.0,1210.2 288.5,1210.2 289.0,1210.2 289.5,1210.2 290.0,1210.2 290.5,1210.2 291.0,1210.2 291.5,1210.2 292.0,1210.2 292.5,1210.2 293.0,1210.2 293.5,1210.2 294.0,1210.2 294.5,1210.2 295.0,1210.2 295.5,1210.1 296.0,1210.1 296.5,1210.0 297.0,1209.9 297.5,1209.8 298.0,1209.7 298.5,1209.5 299.0,1209.1 299.5,1208.5 300.0,1207.5 300.5,1205.9 301.0,1203.4 301.5,1200.0 302.0,1195.6 302.5,1190.6 303.0,1185.7 303.5,1181.9 304.0,1180.4 304.5,1181.9 305.0,1185.8 305.5,1190.8 306.0,1195.8 306.5,1200.2 307.0,1203.7 307.5,1206.2 308.0,1207.8 308.5,1208.9 309.0,1209.5 309.5,1209.9 310.0,1210.2 310.5,1210.4 311.0,1210.5 311.5,1210.7 312.0,1210.8 312.5,1210.8 313.0,1210.9 313.5,1211.0 314.0,1211.1 314.5,1211.1 315.0,1211.2 315.5,1211.2 316.0,1211.2 316.5,1211.3 317.0,1211.3 317.5,1211.4 318.0,1211.4 318.5,1211.4 319.0,1211.4 319.5,1211.5 320.0,1211.5 320.5,1211.5 321.0,1211.5 321.5,1211.5 322.0,1211.5 322.5,1211.5 323.0,1211.5 323.5,1211.5 324.0,1211.5 324.5,1211.4 325.0,1211.4 325.5,1211.4 326.0,1211.4 326.5,1211.4 327.0,1211.3 327.5,1211.3 328.0,1211.3 328.5,1211.3 329.0,1211.2 329.5,1211.2 330.0,1211.1 330.5,1211.1 331.0,1211.0 331.5,1211.0 332.0,1210.9 332.5,1210.8 333.0,1210.7 333.5,1210.6 334.0,1210.5 334.5,1210.3 335.0,1210.1 335.5,1209.9 336.0,1209.7 336.5,1209.4 337.0,1209.1 337.5,1208.7 338.0,1208.1 338.5,1207.4 339.0,1206.3 339.5,1204.6 340.0,1201.9 340.5,1197.3 341.0,1190.1 341.5,1179.5 342.0,1164.8 342.5,1146.5 343.0,1126.0 343.5,1106.5 344.0,1092.6 344.4,1088.7 345.0,1097.1 345.5,1113.9 346.0,1134.3 346.5,1154.2 347.0,1171.2 347.5,1184.3 348.0,1193.4 348.5,1199.5 349.0,1203.2 349.5,1205.5 350.0,1206.9 350.5,1207.8 351.0,1208.5 351.5,1209.0 352.0,1209.3 352.5,1209.7 353.0,1209.9 353.5,1210.2 354.0,1210.4 354.5,1210.5 355.0,1210.7 355.5,1210.8 356.0,1210.9 356.5,1211.0 357.0,1211.1 357.5,1211.2 358.0,1211.3 358.5,1211.3 359.0,1211.4 359.5,1211.5 360.0,1211.5 360.5,1211.6 361.0,1211.6 361.5,1211.6 362.0,1211.7 362.5,1211.7 363.0,1211.7 363.5,1211.8 364.0,1211.8 364.5,1211.8 365.0,1211.8 365.5,1211.9 366.0,1211.9 366.5,1211.9 367.0,1211.9 367.5,1211.9 368.0,1212.0 368.5,1212.0 369.0,1212.0 369.5,1212.0 370.0,1212.0 370.5,1212.0 371.0,1212.0 371.5,1212.0 372.0,1212.1 372.5,1212.1 373.0,1212.1 373.5,1212.1 374.0,1212.1 374.5,1212.1 375.0,1212.1 375.5,1212.1 376.0,1212.1 376.5,1212.1 377.0,1212.1 377.5,1212.1 378.0,1212.1 378.5,1212.1 379.0,1212.1 379.5,1212.1 380.0,1212.1 380.5,1212.1 381.0,1212.0 381.5,1211.9 382.0,1211.8 382.5,1211.7 383.0,1211.5 383.5,1211.4 384.0,1211.4 384.5,1211.4 385.0,1211.6 385.5,1211.7 386.0,1211.9 386.5,1212.0 387.0,1212.1 387.5,1212.2 388.0,1212.2 388.5,1212.3 389.0,1212.3 389.5,1212.3 390.0,1212.3 390.5,1212.3 391.0,1212.3 391.5,1212.4 392.0,1212.4 392.5,1212.4 393.0,1212.4 393.5,1212.4 394.0,1212.4 394.5,1212.4 395.0,1212.4 395.5,1212.4 396.0,1212.4 396.5,1212.4 397.0,1212.4 397.5,1212.4 398.0,1212.5 398.5,1212.5 399.0,1212.5 399.5,1212.5 400.0,1212.5 400.5,1212.5 401.0,1212.5 401.5,1212.5 402.0,1212.5 402.5,1212.5 403.0,1212.5 403.5,1212.5 404.0,1212.5 404.5,1212.5 405.0,1212.5 405.5,1212.5 406.0,1212.5 406.5,1212.5 407.0,1212.5 407.5,1212.5 408.0,1212.6 408.5,1212.6 409.0,1212.6 409.5,1212.6 410.0,1212.6 410.5,1212.6 411.0,1212.6 411.5,1212.6 412.0,1212.6 412.5,1212.6 413.0,1212.6 413.5,1212.6 414.0,1212.6 414.5,1212.6 415.0,1212.6 415.5,1212.6 416.0,1212.6 416.5,1212.6 417.0,1212.6 417.5,1212.6 418.0,1212.6 418.5,1212.6 419.0,1212.6 419.5,1212.6 420.0,1212.5 420.5,1212.5 421.0,1212.5 421.5,1212.5 422.0,1212.5 422.5,1212.5 423.0,1212.5 423.5,1212.4 424.0,1212.4 424.5,1212.4 425.0,1212.4 425.5,1212.3 426.0,1212.3 426.5,1212.2 427.0,1212.2 427.5,1212.1 428.0,1212.1 428.5,1212.0 429.0,1212.0 429.5,1211.9 430.0,1211.8 430.5,1211.7 431.0,1211.5 431.5,1211.4 432.0,1211.2 432.5,1211.0 433.0,1210.7 433.5,1210.4 434.0,1209.9 434.5,1209.2 435.0,1208.0 435.5,1206.1 436.0,1203.0 436.5,1198.2 437.0,1191.3 437.5,1182.1 438.0,1171.1 438.5,1159.5 439.0,1149.4 439.7,1143.0 440.0,1144.2 440.5,1151.1 441.0,1161.7 441.5,1173.4 442.0,1184.1 442.5,1192.8 443.0,1199.2 443.5,1203.7 444.0,1206.5 444.5,1208.2 445.0,1209.2 445.5,1209.9 446.0,1210.3 446.5,1210.6 447.0,1210.9 447.5,1211.1 448.0,1211.2 448.5,1211.4 449.0,1211.5 449.5,1211.5 450.0,1211.6 450.5,1211.7 451.0,1211.7 451.5,1211.8 452.0,1211.8 452.5,1211.8 453.0,1211.8 453.5,1211.8 454.0,1211.9 454.5,1211.9 455.0,1211.8 455.5,1211.8 456.0,1211.8 456.5,1211.8 457.0,1211.7 457.5,1211.6 458.0,1211.5 458.5,1211.4 459.0,1211.2 459.5,1211.0 460.0,1210.6 460.5,1209.9 461.0,1208.9 461.5,1207.2 462.0,1204.7 462.5,1201.1 463.0,1196.6 463.5,1191.4 464.0,1186.2 464.5,1182.1 465.0,1180.4 465.5,1181.6 466.0,1185.1 466.5,1189.7 467.0,1194.1 467.5,1197.8 468.0,1200.3 468.5,1201.7 469.0,1202.1 469.5,1201.8 470.0,1201.0 470.5,1200.0 471.0,1198.9 471.5,1198.1 472.0,1197.5 472.5,1197.4 473.0,1197.7 473.5,1198.5 474.0,1199.6 474.5,1201.0 475.0,1202.4 475.5,1203.9 476.0,1205.4 476.5,1206.7 477.0,1207.8 477.5,1208.9 478.0,1209.7 478.5,1210.4 479.0,1211.0 479.5,1211.4 480.0,1211.7 480.5,1212.0 481.0,1212.2 481.5,1212.3 482.0,1212.5 482.5,1212.5 483.0,1212.6 483.5,1212.7 484.0,1212.7 484.5,1212.8 485.0,1212.8 485.5,1212.8 486.0,1212.9 486.5,1212.9 487.0,1212.9 487.5,1212.9 488.0,1212.9 488.5,1213.0 489.0,1213.0 489.5,1213.0 490.0,1213.0 490.5,1213.0 491.0,1213.0 491.5,1212.9 492.0,1212.9 492.5,1212.9 493.0,1212.8 493.5,1212.7 494.0,1212.7 494.5,1212.6 495.0,1212.5 495.5,1212.4 496.0,1212.3 496.5,1212.2 497.0,1212.0 497.5,1211.9 498.0,1211.7 498.5,1211.4 499.0,1211.1 499.5,1210.8 500.0,1210.3 500.5,1209.7 501.0,1208.6 501.5,1207.0 502.0,1204.2 502.5,1199.9 503.0,1193.4 503.5,1184.3 504.0,1172.7 504.5,1159.4 505.0,1146.3 505.5,1136.1 506.0,1132.2 506.5,1136.1 507.0,1146.2 507.5,1159.3 508.0,1172.5 508.5,1184.1 509.0,1193.2 509.5,1199.7 510.0,1204.0 510.5,1206.6 511.0,1208.3 511.5,1209.3 512.0,1209.9 512.5,1210.3 513.0,1210.6 513.5,1210.9 514.0,1211.1 514.5,1211.2 515.0,1211.4 515.5,1211.5 516.0,1211.6 516.5,1211.6 517.0,1211.7 517.5,1211.7 518.0,1211.8 518.5,1211.8 519.0,1211.9 519.5,1211.9 520.0,1211.9 520.5,1211.9 521.0,1212.0 521.5,1212.0 522.0,1212.0 522.5,1212.0 523.0,1212.0 523.5,1212.1 524.0,1212.1 524.5,1212.1 525.0,1212.1 525.5,1212.1 526.0,1212.1 526.5,1212.1 527.0,1212.1 527.5,1212.1 528.0,1212.1 528.5,1212.1 529.0,1212.1 529.5,1212.1 530.0,1212.1 530.5,1212.1 531.0,1212.1 531.5,1212.1 532.0,1212.1 532.5,1212.1 533.0,1212.1 533.5,1212.1 534.0,1212.0 534.5,1212.0 535.0,1212.0 535.5,1212.0 536.0,1212.0 536.5,1212.0 537.0,1212.0 537.5,1212.0 538.0,1211.9 538.5,1211.9 539.0,1211.9 539.5,1211.9 540.0,1211.9 540.5,1211.8 541.0,1211.8 541.5,1211.8 542.0,1211.8 542.5,1211.7 543.0,1211.7 543.5,1211.7 544.0,1211.6 544.5,1211.6 545.0,1211.6 545.5,1211.5 546.0,1211.5 546.5,1211.4 547.0,1211.4 547.5,1211.3 548.0,1211.3 548.5,1211.2 549.0,1211.2 549.5,1211.1 550.0,1211.0 550.5,1211.0 551.0,1210.9 551.5,1210.8 552.0,1210.7 552.5,1210.6 553.0,1210.5 553.5,1210.4 554.0,1210.3 554.5,1210.1 555.0,1209.9 555.5,1209.7 556.0,1209.5 556.5,1209.3 557.0,1209.1 557.5,1208.8 558.0,1208.5 558.5,1208.1 559.0,1207.7 559.5,1207.2 560.0,1206.6 560.5,1205.9 561.0,1204.9 561.5,1203.8 562.0,1202.2 562.5,1200.3 563.0,1197.8 563.5,1194.7 564.0,1190.9 564.5,1186.2 565.0,1180.7 565.5,1174.1 566.0,1166.6 566.5,1158.2 567.0,1149.0 567.5,1139.3 568.0,1129.4 568.5,1119.7 569.0,1110.7 569.5,1103.0 570.0,1097.3 570.5,1094.2 570.8,1093.6 571.0,1093.8 571.5,1096.4 572.0,1101.5 572.5,1108.8 573.0,1117.5 573.5,1127.0 574.0,1136.8 574.5,1146.5 575.0,1155.7 575.5,1164.2 576.0,1171.8 576.5,1178.5 577.0,1184.2 577.5,1189.0 578.0,1192.9 578.5,1196.0 579.0,1198.5 579.5,1200.5 580.0,1202.0 580.5,1203.1 581.0,1204.0 581.5,1204.7 582.0,1205.3 582.5,1205.7 583.0,1206.0 583.5,1206.3 584.0,1206.5 584.5,1206.7 585.0,1206.9 585.5,1207.0 586.0,1207.1 586.5,1207.2 587.0,1207.2 587.5,1207.3 588.0,1207.3 588.5,1207.4 589.0,1207.4 589.5,1207.4 590.0,1207.4 590.5,1207.4 591.0,1207.4 591.5,1207.3 592.0,1207.3 592.5,1207.2 593.0,1207.2 593.5,1207.1 594.0,1207.1 594.5,1207.0 595.0,1206.9 595.5,1206.8 596.0,1206.7 596.5,1206.5 597.0,1206.4 597.5,1206.2 598.0,1206.0 598.5,1205.7 599.0,1205.4 599.5,1205.1 600.0,1204.6 600.5,1204.1 601.0,1203.4 601.5,1202.6 602.0,1201.5 602.5,1200.3 603.0,1198.8 603.5,1197.1 604.0,1195.1 604.5,1192.9 605.0,1190.4 605.5,1187.8 606.0,1185.0 606.5,1182.2 607.0,1179.5 607.5,1177.0 608.0,1174.8 608.5,1173.1 609.0,1172.0 609.5,1171.4 610.0,1171.4 610.5,1171.6 611.0,1171.9 611.5,1172.1 612.0,1171.8 612.5,1170.9 613.0,1169.2 613.5,1166.4 614.0,1162.3 614.5,1156.9 615.0,1150.0 615.5,1141.6 616.0,1131.7 616.5,1120.4 617.0,1107.8 617.5,1094.3 618.0,1080.1 618.5,1065.8 619.0,1051.8 619.5,1038.8 620.0,1027.5 620.5,1018.8 621.0,1013.3 621.5,1011.4 622.0,1013.4 622.5,1019.0 623.0,1027.9 623.5,1039.3 624.0,1052.4 624.5,1066.7 625.0,1081.3 625.5,1095.9 626.0,1109.9 626.5,1123.1 627.0,1135.3 627.5,1146.2 628.0,1155.8 628.5,1164.1 629.0,1171.3 629.5,1177.2 630.0,1182.1 630.5,1186.2 631.0,1189.4 631.5,1192.0 632.0,1194.0 632.5,1195.6 633.0,1196.9 633.5,1197.8 634.0,1198.6 634.5,1199.1 635.0,1199.5 635.5,1199.8 636.0,1200.0 636.5,1200.1 637.0,1200.1 637.5,1200.0 638.0,1199.8 638.5,1199.5 639.0,1198.9 639.5,1198.0 640.0,1196.6 640.5,1194.3 641.0,1190.5 641.5,1184.8 642.0,1176.4 642.5,1164.6 643.0,1149.2 643.5,1130.6 644.0,1110.0 644.5,1089.6 645.0,1072.7 645.6,1062.2 646.0,1062.7 646.5,1070.6 647.0,1083.3 647.5,1097.1 648.0,1109.4 648.5,1118.8 649.0,1125.2 649.5,1129.3 650.0,1132.2 650.5,1135.4 651.0,1139.7 651.5,1145.4 652.0,1152.3 652.5,1159.8 653.0,1167.4 653.5,1174.7 654.0,1181.3 654.5,1187.0 655.0,1191.7 655.5,1195.6 656.0,1198.5 656.5,1200.8 657.0,1202.5 657.5,1203.7 658.0,1204.7 658.5,1205.4 659.0,1205.9 659.5,1206.3 660.0,1206.6 660.5,1206.9 661.0,1207.1 661.5,1207.3 662.0,1207.5 662.5,1207.6 663.0,1207.7 663.5,1207.8 664.0,1207.8 664.5,1207.8 665.0,1207.8 665.5,1207.6 666.0,1207.4 666.5,1206.9 667.0,1206.1 667.5,1204.5 668.0,1202.0 668.5,1198.0 669.0,1192.2 669.5,1184.5 670.0,1175.1 670.5,1165.3 671.0,1156.7 671.5,1151.8 671.7,1151.4 672.0,1152.5 672.5,1158.5 673.0,1167.8 673.5,1177.8 674.0,1187.1 674.5,1194.7 675.0,1200.4 675.5,1204.2 676.0,1206.7 676.5,1208.3 677.0,1209.3 677.5,1210.0 678.0,1210.4 678.5,1210.8 679.0,1211.1 679.5,1211.3 680.0,1211.6 680.5,1211.8 681.0,1211.9 681.5,1212.0 682.0,1212.1 682.5,1212.1 683.0,1212.2 683.5,1212.2 684.0,1212.3 684.5,1212.3 685.0,1212.3 685.5,1212.4 686.0,1212.4 686.5,1212.4 687.0,1212.4 687.5,1212.4 688.0,1212.4 688.5,1212.4 689.0,1212.4 689.5,1212.4 690.0,1212.4 690.5,1212.4 691.0,1212.4 691.5,1212.4 692.0,1212.4 692.5,1212.4 693.0,1212.3 693.5,1212.3 694.0,1212.3 694.5,1212.3 695.0,1212.3 695.5,1212.3 696.0,1212.2 696.5,1212.2 697.0,1212.2 697.5,1212.2 698.0,1212.1 698.5,1212.1 699.0,1212.1 699.5,1212.1 700.0,1212.0 700.5,1212.0 701.0,1212.0 701.5,1211.9 702.0,1211.9 702.5,1211.8 703.0,1211.8 703.5,1211.7 704.0,1211.6 704.5,1211.6 705.0,1211.5 705.5,1211.4 706.0,1211.3 706.5,1211.1 707.0,1210.9 707.5,1210.7 708.0,1210.4 708.5,1210.0 709.0,1209.5 709.5,1208.9 710.0,1208.2 710.5,1207.4 711.0,1206.4 711.5,1205.3 712.0,1204.1 712.5,1202.8 713.0,1201.5 713.5,1200.2 714.0,1198.9 714.5,1197.8 715.0,1196.9 715.5,1196.3 716.0,1196.1 716.5,1196.3 717.0,1196.8 717.5,1197.7 718.0,1198.7 718.5,1199.9 719.0,1201.2 719.5,1202.5 720.0,1203.7 720.5,1204.9 721.0,1205.9 721.5,1206.8 722.0,1207.6 722.5,1208.3 723.0,1208.8 723.5,1209.2 724.0,1209.5 724.5,1209.8 725.0,1210.0 725.5,1210.1 726.0,1210.2 726.5,1210.2 727.0,1210.2 727.5,1210.2 728.0,1210.2 728.5,1210.1 729.0,1210.0 729.5,1210.0 730.0,1209.9 730.5,1209.7 731.0,1209.6 731.5,1209.4 732.0,1209.2 732.5,1209.0 733.0,1208.7 733.5,1208.4 734.0,1207.9 734.5,1207.2 735.0,1206.2 735.5,1204.7 736.0,1202.6 736.5,1199.5 737.0,1195.1 737.5,1189.2 738.0,1181.7 738.5,1172.7 739.0,1162.8 739.5,1152.6 740.0,1143.4 740.5,1136.8 741.0,1134.4 741.5,1136.7 742.0,1143.1 742.5,1152.2 743.0,1162.2 743.5,1172.0 744.0,1180.8 744.5,1188.1 745.0,1193.8 745.5,1198.0 746.0,1201.0 746.5,1202.9 747.0,1204.1 747.5,1204.7 748.0,1205.0 748.5,1205.0 749.0,1204.6 749.5,1203.9 750.0,1202.6 750.5,1200.6 751.0,1197.5 751.5,1193.2 752.0,1187.4 752.5,1180.1 753.0,1171.4 753.5,1161.8 754.0,1152.3 754.5,1143.9 755.0,1138.4 755.4,1137.0 756.0,1140.3 756.5,1147.1 757.0,1156.2 757.5,1166.0 758.0,1175.3 758.5,1183.6 759.0,1190.4 759.5,1195.6 760.0,1199.5 760.5,1202.2 761.0,1204.0 761.5,1205.2 762.0,1205.9 762.5,1206.4 763.0,1206.7 763.5,1206.8 764.0,1206.9 764.5,1206.9 765.0,1206.8 765.5,1206.6 766.0,1206.3 766.5,1206.0 767.0,1205.4 767.5,1204.7 768.0,1203.5 768.5,1201.8 769.0,1199.3 769.5,1195.6 770.0,1190.4 770.5,1183.4 771.0,1174.5 771.5,1163.9 772.0,1152.0 772.5,1139.9 773.0,1128.8 773.5,1120.8 774.0,1117.4 774.5,1119.4 775.0,1126.1 775.5,1135.6 776.0,1145.9 776.5,1155.3 777.0,1162.5 777.5,1166.1 778.0,1165.0 778.5,1158.0 779.0,1143.7 779.5,1120.9 780.0,1089.4 780.5,1050.0 781.0,1005.4 781.5,960.8 782.0,923.8 782.5,903.5 782.7,901.7 783.0,906.3 783.5,931.3 784.0,971.2 784.5,1017.2 785.0,1062.2 785.5,1101.7 786.0,1133.5 786.5,1157.4 787.0,1174.3 787.5,1185.6 788.0,1193.0 788.5,1197.8 789.0,1201.0 789.5,1203.2 790.0,1204.8 790.5,1206.1 791.0,1207.1 791.5,1208.0 792.0,1208.7 792.5,1209.4 793.0,1209.9 793.5,1210.4 794.0,1210.9 794.5,1211.3 795.0,1211.6 795.5,1211.9 796.0,1212.2 796.5,1212.4 797.0,1212.7 797.5,1212.9 798.0,1213.0 798.5,1213.1 799.0,1213.1 799.5,1213.1 800.0,1213.1 800.5,1212.9 801.0,1212.5 801.5,1211.9 802.0,1210.7 802.5,1209.0 803.0,1206.4 803.5,1203.1 804.0,1199.1 804.5,1195.1 805.0,1191.7 805.6,1190.1 806.0,1190.9 806.5,1193.8 807.0,1197.7 807.5,1201.9 808.0,1205.6 808.5,1208.6 809.0,1210.8 809.5,1212.3 810.0,1213.2 810.5,1213.8 811.0,1214.1 811.5,1214.3 812.0,1214.5 812.5,1214.6 813.0,1214.7 813.5,1214.7 814.0,1214.7 814.5,1214.7 815.0,1214.7 815.5,1214.6 816.0,1214.4 816.5,1214.1 817.0,1213.6 817.5,1213.0 818.0,1212.2 818.5,1211.2 819.0,1210.1 819.5,1209.0 820.0,1208.0 820.5,1207.3 821.0,1207.0 821.5,1207.3 822.0,1208.0 822.5,1209.0 823.0,1210.2 823.5,1211.3 824.0,1212.3 824.5,1213.1 825.0,1213.7 825.5,1214.2 826.0,1214.5 826.5,1214.7 827.0,1214.7 827.5,1214.7 828.0,1214.5 828.5,1214.2 829.0,1213.8 829.5,1213.1 830.0,1212.3 830.5,1211.3 831.0,1210.2 831.5,1209.0 832.0,1208.0 832.5,1207.3 833.0,1207.0 833.5,1207.3 834.0,1208.0 834.5,1209.1 835.0,1210.2 835.5,1211.4 836.0,1212.4 836.5,1213.2 837.0,1213.9 837.5,1214.4 838.0,1214.7 838.5,1215.0 839.0,1215.1 839.5,1215.2 840.0,1215.3 840.5,1215.3 841.0,1215.3 841.5,1215.3 842.0,1215.3 842.5,1215.2 843.0,1215.1 843.5,1214.9 844.0,1214.8 844.5,1214.7 845.0,1214.5 845.5,1214.3 846.0,1214.0 846.5,1213.7 847.0,1213.2 847.5,1212.4 848.0,1211.2 848.5,1209.3 849.0,1206.4 849.5,1202.2 850.0,1196.7 850.5,1190.1 851.0,1183.2 851.5,1177.1 852.0,1173.6 852.2,1173.2 852.5,1173.9 853.0,1177.8 853.5,1184.0 854.0,1190.7 854.5,1196.9 855.0,1201.9 855.5,1205.5 856.0,1207.7 856.5,1208.8 857.0,1208.9 857.5,1208.1 858.0,1206.3 858.5,1203.6 859.0,1200.1 859.5,1195.9 860.0,1191.8 860.5,1188.6 861.0,1187.4 861.5,1188.7 862.0,1191.9 862.5,1196.1 863.0,1200.3 863.5,1204.0 864.0,1206.8 864.5,1208.9 865.0,1210.2 865.5,1211.1 866.0,1211.5 866.5,1211.8 867.0,1212.0 867.5,1212.1 868.0,1212.2 868.5,1212.2 869.0,1212.2 869.5,1212.2 870.0,1212.2 870.5,1212.2 871.0,1212.2 871.5,1212.2 872.0,1212.1 872.5,1212.1 873.0,1212.0 873.5,1211.9 874.0,1211.9 874.5,1211.8 875.0,1211.7 875.5,1211.7 876.0,1211.6 876.5,1211.5 877.0,1211.4 877.5,1211.3 878.0,1211.2 878.5,1211.2 879.0,1211.1 879.5,1211.0 880.0,1210.9 880.5,1210.8 881.0,1210.7 881.5,1210.6 882.0,1210.6 882.5,1210.5 883.0,1210.4 883.5,1210.3 884.0,1210.2 884.5,1210.1 885.0,1210.0 885.5,1209.9 886.0,1209.8 886.5,1209.7 887.0,1209.6 887.5,1209.5 888.0,1209.4 888.5,1209.3 889.0,1209.2 889.5,1209.1 890.0,1209.0 890.5,1208.9 891.0,1208.8 891.5,1208.7 892.0,1208.6 892.5,1208.5 893.0,1208.4 893.5,1208.3 894.0,1208.2 894.5,1208.3 895.0,1208.4 895.5,1208.5 896.0,1208.7 896.5,1208.8 897.0,1208.9 897.5,1209.0 898.0,1209.1 898.5,1209.1 899.0,1209.2 899.5,1209.2 900.0,1209.2 900.5,1209.2 901.0,1208.9 901.5,1208.5 902.0,1207.8 902.5,1206.6 903.0,1205.0 903.5,1203.0 904.0,1200.8 904.5,1198.8 905.0,1197.6 905.3,1197.4 905.5,1197.6 906.0,1198.8 906.5,1200.9 907.0,1203.3 907.5,1205.6 908.0,1207.6 908.5,1209.0 909.0,1210.1 909.5,1210.8 910.0,1211.3 910.5,1211.6 911.0,1211.8 911.5,1212.0 912.0,1212.2 912.5,1212.3 913.0,1212.4 913.5,1212.5 914.0,1212.6 914.5,1212.7 915.0,1212.8 915.5,1212.8 916.0,1212.9 916.5,1212.9 917.0,1212.9 917.5,1212.7 918.0,1212.6 918.5,1212.5 919.0,1212.3 919.5,1212.1 920.0,1211.9 920.5,1211.7 921.0,1211.4 921.5,1211.1 922.0,1210.8 922.5,1210.4 923.0,1209.9 923.5,1209.4 924.0,1208.8 924.5,1208.0 925.0,1207.1 925.5,1206.0 926.0,1204.4 926.5,1202.1 927.0,1198.7 927.5,1193.4 928.0,1185.4 928.5,1173.5 929.0,1156.6 929.5,1134.1 930.0,1106.0 930.5,1073.6 931.0,1039.9 931.5,1009.3 932.0,987.8 932.3,981.4 932.5,980.2 933.0,986.9 933.5,1003.6 934.0,1024.7 934.5,1045.5 935.0,1064.1 935.5,1080.0 936.0,1094.4 936.5,1108.3 937.0,1122.0 937.5,1135.1 938.0,1146.9 938.5,1156.8 939.0,1164.5 939.5,1170.1 940.0,1173.8 940.5,1175.9 941.0,1177.0 941.5,1178.0 942.0,1179.2 942.5,1181.1 943.0,1183.8 943.5,1187.1 944.0,1190.6 944.5,1194.2 945.0,1197.7 945.5,1200.8 946.0,1203.5 946.5,1205.7 947.0,1207.6 947.5,1209.0 948.0,1210.1 948.5,1211.0 949.0,1211.6 949.5,1212.1 950.0,1212.5 950.5,1212.8 951.0,1213.0 951.5,1213.2 952.0,1213.4 952.5,1213.6 953.0,1213.7 953.5,1213.8 954.0,1213.9 954.5,1214.0 955.0,1214.1 955.5,1214.2 956.0,1214.3 956.5,1214.3 957.0,1214.4 957.5,1214.4 958.0,1214.5 958.5,1214.5 959.0,1214.5 959.5,1214.5 960.0,1214.4 960.5,1214.3 961.0,1214.3 961.5,1214.2 962.0,1214.1 962.5,1214.0 963.0,1213.9 963.5,1213.8 964.0,1213.7 964.5,1213.5 965.0,1213.4 965.5,1213.2 966.0,1213.1 966.5,1212.9 967.0,1212.7 967.5,1212.4 968.0,1212.1 968.5,1211.9 969.0,1211.5 969.5,1211.1 970.0,1210.7 970.5,1210.1 971.0,1209.4 971.5,1208.6 972.0,1207.3 972.5,1205.6 973.0,1203.0 973.5,1199.2 974.0,1193.6 974.5,1185.8 975.0,1175.1 975.5,1161.5 976.0,1144.9 976.5,1126.1 977.0,1106.6 977.5,1088.5 978.0,1074.7 978.6,1068.2 979.0,1071.1 979.5,1082.1 980.0,1098.7 980.5,1117.9 981.0,1137.1 981.5,1154.6 982.0,1169.3 982.5,1181.1 983.0,1189.9 983.5,1196.2 984.0,1200.6 984.5,1203.5 985.0,1205.4 985.5,1206.7 986.0,1207.6 986.5,1208.3 987.0,1208.8 987.5,1209.2 988.0,1209.5 988.5,1209.8 989.0,1210.0 989.5,1210.2 990.0,1210.3 990.5,1210.6 991.0,1210.8 991.5,1211.0 992.0,1211.2 992.5,1211.4 993.0,1211.6 993.5,1211.8 994.0,1212.0 994.5,1212.1 995.0,1212.3 995.5,1212.4 996.0,1212.6 996.5,1212.7 997.0,1212.8 997.5,1212.9 998.0,1213.1 998.5,1213.2 999.0,1213.3 999.5,1213.4 1000.0,1213.5 1000.5,1213.6 1001.0,1213.7 1001.5,1213.8 1002.0,1213.9 1002.5,1214.0 1003.0,1214.1 1003.5,1214.2 1004.0,1214.3 1004.5,1214.4 1005.0,1214.5 1005.5,1214.6 1006.0,1214.7 1006.5,1214.8 1007.0,1214.9 1007.5,1215.0 1008.0,1215.0 1008.5,1215.1 1009.0,1215.2 1009.5,1215.3 1010.0,1215.4 1010.5,1215.5 1011.0,1215.6 1011.5,1215.6 1012.0,1215.7 1012.5,1215.8 1013.0,1215.9 1013.5,1216.0 1014.0,1216.0 1014.5,1216.1 1015.0,1216.1 1015.5,1216.1 1016.0,1216.1 1016.5,1216.1 1017.0,1216.2 1017.5,1216.2 1018.0,1216.2 1018.5,1216.1 1019.0,1216.1 1019.5,1216.1 1020.0,1216.0 1020.5,1215.9 1021.0,1215.8 1021.5,1215.7 1022.0,1215.6 1022.5,1215.5 1023.0,1215.5 1023.5,1215.4 1024.0,1215.4 1024.5,1215.4 1025.0,1215.5 1025.5,1215.7 1026.0,1215.8 1026.5,1216.0 1027.0,1216.1 1027.5,1216.3 1028.0,1216.4 1028.5,1216.5 1029.0,1216.6 1029.5,1216.6 1030.0,1216.7 1030.5,1216.7 1031.0,1216.8 1031.5,1216.8 1032.0,1216.9 1032.5,1216.9 1033.0,1216.9 1033.5,1216.9 1034.0,1217.0 1034.5,1217.0 1035.0,1217.0 1035.5,1217.0 1036.0,1217.0 1036.5,1217.1 1037.0,1217.1 1037.5,1217.1 1038.0,1217.1 1038.5,1217.1 1039.0,1217.2 1039.5,1217.2 1040.0,1217.2 1040.5,1217.2 1041.0,1217.2 1041.5,1217.3 1042.0,1217.3 1042.5,1217.3 1043.0,1217.3 1043.5,1217.3 1044.0,1217.4 1044.5,1217.4 1045.0,1217.4 1045.5,1217.4 1046.0,1217.4 1046.5,1217.4 1047.0,1217.5 1047.5,1217.5 1048.0,1217.5 1048.5,1217.5 1049.0,1217.5 1049.5,1217.5 1050.0,1217.6 1050.5,1217.5 1051.0,1217.4 1051.5,1217.3 1052.0,1217.3 1052.5,1217.2 1053.0,1217.1 1053.5,1217.0 1054.0,1217.0 1054.5,1216.9 1055.0,1216.8 1055.5,1216.7 1056.0,1216.7 1056.5,1216.6 1057.0,1216.5 1057.5,1216.4 1058.0,1216.4 1058.5,1216.3 1059.0,1216.2 1059.5,1216.1 1060.0,1216.0 1060.5,1216.0 1061.0,1216.0 1061.5,1216.0 1062.0,1216.0 1062.5,1216.0 1063.0,1215.9 1063.5,1215.9 1064.0,1215.8 1064.5,1215.8 1065.0,1215.7 1065.5,1215.6 1066.0,1215.5 1066.5,1215.3 1067.0,1215.1 1067.5,1214.9 1068.0,1214.7 1068.5,1214.5 1069.0,1214.4 1069.5,1214.3 1070.0,1214.2 1070.5,1214.2 1071.0,1214.3 1071.5,1214.4 1072.0,1214.6 1072.5,1214.8 1073.0,1214.9 1073.5,1215.0 1074.0,1215.2 1074.5,1215.2 1075.0,1215.3 1075.5,1215.3 1076.0,1215.4 1076.5,1215.4 1077.0,1215.3 1077.5,1215.3 1078.0,1215.2 1078.5,1215.2 1079.0,1215.1 1079.5,1215.0 1080.0,1214.8 1080.5,1214.6 1081.0,1214.3 1081.5,1214.0 1082.0,1213.5 1082.5,1213.0 1083.0,1212.3 1083.5,1211.4 1084.0,1210.3 1084.5,1209.1 1085.0,1207.8 1085.5,1206.3 1086.0,1204.8 1086.5,1203.2 1087.0,1201.9 1087.5,1200.7 1088.0,1200.0 1088.5,1199.7 1089.0,1199.9 1089.5,1200.6 1090.0,1201.6 1090.5,1202.9 1091.0,1204.4 1091.5,1205.8 1092.0,1207.2 1092.5,1208.5 1093.0,1209.6 1093.5,1210.5 1094.0,1211.3 1094.5,1212.0 1095.0,1212.4 1095.5,1212.8 1096.0,1213.0 1096.5,1213.1 1097.0,1213.2 1097.5,1213.2 1098.0,1213.2 1098.5,1213.1 1099.0,1213.0 1099.5,1212.9 1100.0,1212.7 1100.5,1212.5 1101.0,1212.2 1101.5,1211.9 1102.0,1211.5 1102.5,1211.0 1103.0,1210.3 1103.5,1209.6 1104.0,1208.6 1104.5,1207.3 1105.0,1205.8 1105.5,1203.9 1106.0,1201.6 1106.5,1198.9 1107.0,1195.6 1107.5,1191.9 1108.0,1187.6 1108.5,1182.9 1109.0,1177.7 1109.5,1172.1 1110.0,1166.2 1110.5,1160.3 1111.0,1154.4 1111.5,1148.9 1112.0,1143.9 1112.5,1139.7 1113.0,1136.4 1113.5,1134.1 1114.0,1132.6 1114.5,1131.9 1115.0,1131.6 1115.5,1131.5 1116.0,1131.5 1116.5,1131.5 1117.0,1131.5 1117.5,1131.6 1118.0,1131.9 1118.5,1132.6 1119.0,1134.1 1119.5,1136.4 1120.0,1139.7 1120.5,1143.9 1121.0,1148.9 1121.5,1154.5 1122.0,1160.3 1122.5,1166.3 1123.0,1172.1 1123.5,1177.7 1124.0,1182.9 1124.5,1187.7 1125.0,1192.0 1125.5,1195.7 1126.0,1198.9 1126.5,1201.7 1127.0,1204.0 1127.5,1205.9 1128.0,1207.5 1128.5,1208.7 1129.0,1209.7 1129.5,1210.5 1130.0,1211.2 1130.5,1211.7 1131.0,1212.1 1131.5,1212.5 1132.0,1212.8 1132.5,1213.0 1133.0,1213.2 1133.5,1213.4 1134.0,1213.6 1134.5,1213.7 1135.0,1213.8 1135.5,1214.0 1136.0,1214.1 1136.5,1214.2 1137.0,1214.3 1137.5,1214.4 1138.0,1214.4 1138.5,1214.5 1139.0,1214.6 1139.5,1214.6 1140.0,1214.7 1140.5,1214.7 1141.0,1214.8 1141.5,1214.8 1142.0,1214.8 1142.5,1214.9 1143.0,1214.9 1143.5,1214.9 1144.0,1214.9 1144.5,1215.0 1145.0,1215.0 1145.5,1215.0 1146.0,1215.0 1146.5,1215.0 1147.0,1215.0 1147.5,1215.0 1148.0,1214.9 1148.5,1214.9 1149.0,1214.9 1149.5,1214.9 1150.0,1214.8 1150.5,1214.8 1151.0,1214.7 1151.5,1214.6 1152.0,1214.5 1152.5,1214.4 1153.0,1214.3 1153.5,1214.2 1154.0,1214.0 1154.5,1213.7 1155.0,1213.4 1155.5,1212.9 1156.0,1212.2 1156.5,1211.1 1157.0,1209.5 1157.5,1207.3 1158.0,1204.2 1158.5,1200.1 1159.0,1195.1 1159.5,1189.2 1160.0,1182.8 1160.5,1176.5 1161.0,1171.2 1161.5,1167.9 1161.8,1167.1 1162.0,1167.2 1162.5,1169.2 1163.0,1173.3 1163.5,1178.3 1164.0,1183.3 1164.5,1187.7 1165.0,1190.9 1165.5,1192.8 1166.0,1193.5 1166.5,1193.2 1167.0,1192.2 1167.5,1191.1 1168.0,1190.2 1168.6,1190.1 1169.0,1190.7 1169.5,1192.3 1170.0,1194.5 1170.5,1197.2 1171.0,1200.0 1171.5,1202.7 1172.0,1205.2 1172.5,1207.4 1173.0,1209.2 1173.5,1210.7 1174.0,1211.9 1174.5,1212.8 1175.0,1213.4 1175.5,1213.9 1176.0,1214.3 1176.5,1214.6 1177.0,1214.7 1177.5,1214.9 1178.0,1215.0 1178.5,1215.1 1179.0,1215.2 1179.5,1215.3 1180.0,1215.4 1180.5,1215.4 1181.0,1215.5 1181.5,1215.5 1182.0,1215.6 1182.5,1215.6 1183.0,1215.6 1183.5,1215.7 1184.0,1215.7 1184.5,1215.7 1185.0,1215.7 1185.5,1215.7 1186.0,1215.8 1186.5,1215.8 1187.0,1215.8 1187.5,1215.8 1188.0,1215.8 1188.5,1215.8 1189.0,1215.8 1189.5,1215.8 1190.0,1215.8 1190.5,1215.8 1191.0,1215.8 1191.5,1215.8 1192.0,1215.8 1192.5,1215.8 1193.0,1215.8 1193.5,1215.7 1194.0,1215.7 1194.5,1215.7 1195.0,1215.6 1195.5,1215.5 1196.0,1215.4 1196.5,1215.2 1197.0,1215.0 1197.5,1214.8 1198.0,1214.5 1198.5,1214.1 1199.0,1213.8 1199.5,1213.3 1200.0,1212.9 1200.5,1212.4 1201.0,1211.9 1201.5,1211.5 1202.0,1211.1 1202.5,1210.7 1203.0,1210.5 1203.6,1210.4 1204.0,1210.4 1204.5,1210.6 1205.0,1210.9 1205.5,1211.3 1206.0,1211.8 1206.5,1212.2 1207.0,1212.7 1207.5,1213.2 1208.0,1213.6 1208.5,1214.0 1209.0,1214.3 1209.5,1214.7 1210.0,1214.9 1210.5,1215.1 1211.0,1215.3 1211.5,1215.4 1212.0,1215.5 1212.5,1215.6 1213.0,1215.7 1213.5,1215.7 1214.0,1215.7 1214.5,1215.7 1215.0,1215.7 1215.5,1215.7 1216.0,1215.7 1216.5,1215.7 1217.0,1215.7 1217.5,1215.7 1218.0,1215.6 1218.5,1215.5 1219.0,1215.4 1219.5,1215.2 1220.0,1215.0 1220.5,1214.7 1221.0,1214.3 1221.5,1213.8 1222.0,1213.1 1222.5,1212.3 1223.0,1211.3 1223.5,1210.2 1224.0,1208.9 1224.5,1207.7 1225.0,1206.4 1225.5,1205.4 1226.0,1204.7 1226.5,1204.4 1227.0,1204.6 1227.5,1205.3 1228.0,1206.2 1228.5,1207.4 1229.0,1208.6 1229.5,1209.7 1230.0,1210.8 1230.5,1211.7 1231.0,1212.4 1231.5,1213.0 1232.0,1213.4 1232.5,1213.7 1233.0,1213.9 1233.5,1214.1 1234.0,1214.1 1234.5,1214.1 1235.0,1214.1 1235.5,1214.0 1236.0,1213.9 1236.5,1213.8 1237.0,1213.6 1237.5,1213.3 1238.0,1212.9 1238.5,1212.3 1239.0,1211.4 1239.5,1210.1 1240.0,1208.3 1240.5,1205.9 1241.0,1202.9 1241.5,1199.3 1242.0,1195.4 1242.5,1191.5 1243.0,1188.1 1243.5,1185.8 1243.9,1185.2 1244.5,1186.5 1245.0,1189.2 1245.5,1192.8 1246.0,1196.7 1246.5,1200.4 1247.0,1203.6 1247.5,1206.3 1248.0,1208.4 1248.5,1209.8 1249.0,1210.8 1249.5,1211.3 1250.0,1211.5 1250.5,1211.5 1251.0,1211.3 1251.5,1210.8 1252.0,1210.3 1252.5,1209.6 1253.0,1208.8 1253.5,1207.9 1254.0,1207.1 1254.5,1206.4 1255.0,1206.0 1255.5,1205.8 1256.0,1206.0 1256.5,1206.5 1257.0,1207.2 1257.5,1208.0 1258.0,1208.9 1258.5,1209.7 1259.0,1210.5 1259.5,1211.1 1260.0,1211.6 1260.5,1212.1 1261.0,1212.4 1261.5,1212.6 1262.0,1212.8 1262.5,1212.9 1263.0,1212.9 1263.5,1213.0 1264.0,1213.0 1264.5,1213.0 1265.0,1212.9 1265.5,1212.9 1266.0,1212.9 1266.5,1212.8 1267.0,1212.7 1267.5,1212.6 1268.0,1212.4 1268.5,1212.1 1269.0,1211.8 1269.5,1211.2 1270.0,1210.5 1270.5,1209.6 1271.0,1208.5 1271.5,1207.3 1272.0,1206.0 1272.5,1204.8 1273.0,1203.9 1273.6,1203.4 1274.0,1203.6 1274.5,1204.2 1275.0,1205.3 1275.5,1206.5 1276.0,1207.7 1276.5,1208.8 1277.0,1209.7 1277.5,1210.4 1278.0,1210.9 1278.5,1211.3 1279.0,1211.5 1279.5,1211.7 1280.0,1211.7 1280.5,1211.7 1281.0,1211.7 1281.5,1211.7 1282.0,1211.6 1282.5,1211.5 1283.0,1211.4 1283.5,1211.3 1284.0,1211.1 1284.5,1210.9 1285.0,1210.6 1285.5,1210.0 1286.0,1209.1 1286.5,1207.7 1287.0,1205.4 1287.5,1202.0 1288.0,1197.4 1288.5,1191.6 1289.0,1185.1 1289.5,1178.8 1290.0,1174.4 1290.4,1173.2 1291.0,1175.9 1291.5,1181.2 1292.0,1187.7 1292.5,1194.0 1293.0,1199.4 1293.5,1203.5 1294.0,1206.4 1294.5,1208.4 1295.0,1209.5 1295.5,1210.3 1296.0,1210.7 1296.5,1211.0 1297.0,1211.2 1297.5,1211.3 1298.0,1211.4 1298.5,1211.5 1299.0,1211.6 1299.5,1211.7 1300.0,1211.7 1300.5,1211.8 1301.0,1211.8 1301.5,1211.8 1302.0,1211.8 1302.5,1211.9 1303.0,1211.9 1303.5,1211.9 1304.0,1211.9 1304.5,1211.9 1305.0,1211.9 1305.5,1211.9 1306.0,1211.9 1306.5,1211.9 1307.0,1211.9 1307.5,1211.9 1308.0,1211.9 1308.5,1211.9 1309.0,1211.8 1309.5,1211.8 1310.0,1211.8 1310.5,1211.8 1311.0,1211.8 1311.5,1211.7 1312.0,1211.7 1312.5,1211.7 1313.0,1211.6 1313.5,1211.6 1314.0,1211.6 1314.5,1211.5 1315.0,1211.5 1315.5,1211.5 1316.0,1211.4 1316.5,1211.4 1317.0,1211.3 1317.5,1211.2 1318.0,1211.2 1318.5,1211.1 1319.0,1211.0 1319.5,1210.9 1320.0,1210.8 1320.5,1210.7 1321.0,1210.6 1321.5,1210.5 1322.0,1210.3 1322.5,1210.2 1323.0,1210.0 1323.5,1209.8 1324.0,1209.6 1324.5,1209.3 1325.0,1209.0 1325.5,1208.7 1326.0,1208.4 1326.5,1208.0 1327.0,1207.5 1327.5,1206.9 1328.0,1206.3 1328.5,1205.5 1329.0,1204.5 1329.5,1203.1 1330.0,1201.2 1330.5,1198.5 1331.0,1194.7 1331.5,1189.6 1332.0,1182.7 1332.5,1174.0 1333.0,1163.5 1333.5,1151.7 1334.0,1139.4 1334.5,1127.9 1335.0,1119.0 1335.6,1114.1 1336.0,1115.1 1336.5,1120.8 1337.0,1129.7 1337.5,1140.2 1338.0,1150.7 1338.5,1160.1 1339.0,1167.9 1339.5,1174.0 1340.0,1178.3 1340.5,1181.2 1341.0,1182.9 1341.5,1183.9 1342.0,1184.3 1342.5,1184.5 1343.0,1184.5 1343.5,1184.4 1344.0,1184.4 1344.5,1184.3 1345.0,1184.4 1345.5,1184.5 1346.0,1184.7 1346.5,1184.9 1347.0,1185.1 1347.5,1185.2 1348.0,1185.3 1348.5,1185.1 1349.0,1184.7 1349.5,1184.0 1350.0,1182.8 1350.5,1181.3 1351.0,1179.4 1351.5,1177.3 1352.0,1175.0 1352.5,1172.9 1353.0,1171.3 1353.5,1170.5 1354.0,1170.8 1354.5,1172.4 1355.0,1175.0 1355.5,1178.5 1356.0,1182.4 1356.5,1186.5 1357.0,1190.4 1357.5,1193.9 1358.0,1197.1 1358.5,1199.7 1359.0,1202.0 1359.5,1203.8 1360.0,1205.2 1360.5,1206.3 1361.0,1207.2 1361.5,1208.0 1362.0,1208.5 1362.5,1209.0 1363.0,1209.5 1363.5,1209.8 1364.0,1210.1 1364.5,1210.4 1365.0,1210.6 1365.5,1210.9 1366.0,1211.1 1366.5,1211.2 1367.0,1211.4 1367.5,1211.5 1368.0,1211.6 1368.5,1211.8 1369.0,1211.9 1369.5,1211.9 1370.0,1212.0 1370.5,1212.1 1371.0,1212.2 1371.5,1212.2 1372.0,1212.3 1372.5,1212.3 1373.0,1212.3 1373.5,1212.4 1374.0,1212.4 1374.5,1212.4 1375.0,1212.3 1375.5,1212.3 1376.0,1212.1 1376.5,1211.9 1377.0,1211.6 1377.5,1211.2 1378.0,1210.6 1378.5,1209.9 1379.0,1209.2 1379.5,1208.4 1380.0,1207.7 1380.5,1207.2 1381.0,1207.0 1381.5,1207.2 1382.0,1207.7 1382.5,1208.5 1383.0,1209.3 1383.5,1210.1 1384.0,1210.8 1384.5,1211.4 1385.0,1211.8 1385.5,1212.2 1386.0,1212.4 1386.5,1212.5 1387.0,1212.6 1387.5,1212.7 1388.0,1212.7 1388.5,1212.7 1389.0,1212.7 1389.5,1212.6 1390.0,1212.5 1390.5,1212.5 1391.0,1212.3 1391.5,1212.2 1392.0,1211.9 1392.5,1211.6 1393.0,1211.2 1393.5,1210.7 1394.0,1210.0 1394.5,1209.2 1395.0,1208.1 1395.5,1206.9 1396.0,1205.4 1396.5,1203.8 1397.0,1202.1 1397.5,1200.2 1398.0,1198.4 1398.5,1196.7 1399.0,1195.3 1399.5,1194.2 1400.0,1193.7 1400.5,1193.7 1401.0,1194.1 1401.5,1194.9 1402.0,1195.7 1402.5,1196.4 1403.0,1196.7 1403.5,1196.1 1404.0,1194.5 1404.5,1191.3 1405.0,1186.2 1405.5,1179.1 1406.0,1170.0 1406.5,1159.2 1407.0,1147.5 1407.5,1136.2 1408.0,1127.1 1408.5,1122.0 1408.7,1121.4 1409.0,1122.2 1409.5,1127.6 1410.0,1136.7 1410.5,1147.5 1411.0,1158.4 1411.5,1168.3 1412.0,1176.3 1412.5,1182.3 1413.0,1186.3 1413.5,1188.5 1414.0,1189.3 1414.5,1189.1 1415.0,1188.2 1415.5,1187.0 1416.0,1185.6 1416.5,1184.4 1417.0,1183.4 1417.5,1182.8 1418.0,1182.8 1418.5,1183.3 1419.0,1184.4 1419.5,1185.9 1420.0,1187.8 1420.5,1190.0 1421.0,1192.3 1421.5,1194.7 1422.0,1197.1 1422.5,1199.3 1423.0,1201.5 1423.5,1203.4 1424.0,1205.2 1424.5,1206.7 1425.0,1208.1 1425.5,1209.3 1426.0,1210.3 1426.5,1211.1 1427.0,1211.8 1427.5,1212.3 1428.0,1212.8 1428.5,1213.2 1429.0,1213.5 1429.5,1213.7 1430.0,1213.9 1430.5,1214.1 1431.0,1214.3 1431.5,1214.4 1432.0,1214.5 1432.5,1214.6 1433.0,1214.7 1433.5,1214.8 1434.0,1214.9 1434.5,1215.0 1435.0,1215.0 1435.5,1215.1 1436.0,1215.2 1436.5,1215.2 1437.0,1215.3 1437.5,1215.3 1438.0,1215.4 1438.5,1215.4 1439.0,1215.5 1439.5,1215.5 1440.0,1215.6 1440.5,1215.6 1441.0,1215.6 1441.5,1215.6 1442.0,1215.7 1442.5,1215.7 1443.0,1215.7 1443.5,1215.7 1444.0,1215.7 1444.5,1215.7 1445.0,1215.7 1445.5,1215.8 1446.0,1215.8 1446.5,1215.8 1447.0,1215.8 1447.5,1215.8 1448.0,1215.8 1448.5,1215.8 1449.0,1215.8 1449.5,1215.8 1450.0,1215.8 1450.5,1215.8 1451.0,1215.8 1451.5,1215.8 1452.0,1215.8 1452.5,1215.8 1453.0,1215.8 1453.5,1215.8 1454.0,1215.8 1454.5,1215.8 1455.0,1215.7 1455.5,1215.7 1456.0,1215.7 1456.5,1215.7 1457.0,1215.7 1457.5,1215.7 1458.0,1215.7 1458.5,1215.6 1459.0,1215.6 1459.5,1215.6 1460.0,1215.6 1460.5,1215.5 1461.0,1215.5 1461.5,1215.5 1462.0,1215.4 1462.5,1215.4 1463.0,1215.3 1463.5,1215.3 1464.0,1215.2 1464.5,1215.2 1465.0,1215.1 1465.5,1215.0 1466.0,1215.0 1466.5,1214.9 1467.0,1214.8 1467.5,1214.7 1468.0,1214.5 1468.5,1214.4 1469.0,1214.2 1469.5,1214.1 1470.0,1213.9 1470.5,1213.6 1471.0,1213.4 1471.5,1213.1 1472.0,1212.7 1472.5,1212.3 1473.0,1211.7 1473.5,1211.1 1474.0,1210.2 1474.5,1208.9 1475.0,1207.0 1475.5,1204.0 1476.0,1199.5 1476.5,1192.8 1477.0,1183.1 1477.5,1170.1 1478.0,1153.6 1478.5,1134.2 1479.0,1113.6 1479.5,1094.3 1480.0,1079.9 1480.4,1074.2 1481.0,1076.9 1481.5,1087.7 1482.0,1102.7 1482.5,1119.3 1483.0,1135.4 1483.5,1150.0 1484.0,1162.7 1484.5,1173.2 1485.0,1181.7 1485.5,1188.6 1486.0,1194.1 1486.5,1198.5 1487.0,1202.1 1487.5,1204.9 1488.0,1207.2 1488.5,1208.9 1489.0,1210.3 1489.5,1211.3 1490.0,1212.0 1490.5,1212.6 1491.0,1213.1 1491.5,1213.4 1492.0,1213.7 1492.5,1214.0 1493.0,1214.2 1493.5,1214.3 1494.0,1214.5 1494.5,1214.6 1495.0,1214.8 1495.5,1214.9 1496.0,1215.0 1496.5,1215.1 1497.0,1215.1 1497.5,1215.2 1498.0,1215.3 1498.5,1215.3 1499.0,1215.4 1499.5,1215.4 1500.0,1215.5 1500.5,1215.5 1501.0,1215.5 1501.5,1215.6 1502.0,1215.6 1502.5,1215.5 1503.0,1215.5 1503.5,1215.5 1504.0,1215.4 1504.5,1215.4 1505.0,1215.3 1505.5,1215.3 1506.0,1215.2 1506.5,1215.1 1507.0,1215.0 1507.5,1214.8 1508.0,1214.5 1508.5,1214.1 1509.0,1213.5 1509.5,1212.5 1510.0,1211.1 1510.5,1209.4 1511.0,1207.4 1511.5,1205.5 1512.0,1204.0 1512.5,1203.4 1513.0,1203.9 1513.5,1205.4 1514.0,1207.2 1514.5,1209.1 1515.0,1210.8 1515.5,1212.1 1516.0,1213.0 1516.5,1213.6 1517.0,1213.9 1517.5,1214.1 1518.0,1214.2 1518.5,1214.3 1519.0,1214.3 1519.5,1214.3 1520.0,1214.3 1520.5,1214.3 1521.0,1214.3 1521.5,1214.3 1522.0,1214.2 1522.5,1214.2 1523.0,1214.2 1523.5,1214.2 1524.0,1214.1 1524.5,1214.1 1525.0,1214.1 1525.5,1214.0 1526.0,1214.0 1526.5,1213.9 1527.0,1213.9 1527.5,1213.9 1528.0,1213.8 1528.5,1213.8 1529.0,1213.7 1529.5,1213.7 1530.0,1213.7 1530.5,1213.8 1531.0,1214.0 1531.5,1214.2 1532.0,1214.3 1532.5,1214.5 1533.0,1214.7 1533.5,1214.8 1534.0,1215.0 1534.5,1215.2 1535.0,1215.3 1535.5,1215.5 1536.0,1215.7 1536.5,1215.8 1537.0,1216.0 1537.5,1216.2 1538.0,1216.3 1538.5,1216.5 1539.0,1216.7 1539.5,1216.8 1540.0,1217.0 1540.5,1217.1 1541.0,1217.3 1541.5,1217.4 1542.0,1217.6 1542.5,1217.7 1543.0,1217.9 1543.5,1218.0 1544.0,1218.2 1544.5,1218.3 1545.0,1218.5 1545.5,1218.3 1546.0,1218.1 1546.5,1217.9 1547.0,1217.7 1547.5,1217.5 1548.0,1217.2 1548.5,1216.9 1549.0,1216.5 1549.5,1215.9 1550.0,1215.0 1550.5,1213.7 1551.0,1211.8 1551.5,1209.2 1552.0,1205.9 1552.5,1202.2 1553.0,1198.5 1553.5,1195.6 1554.0,1194.4 1554.5,1195.3 1555.0,1197.9 1555.5,1201.4 1556.0,1204.8 1556.5,1207.8 1557.0,1210.2 1557.5,1211.8 1558.0,1212.8 1558.5,1213.4 1559.0,1213.7 1559.5,1213.9 1560.0,1213.9 1560.5,1213.9 1561.0,1213.9 1561.5,1213.8 1562.0,1213.7 1562.5,1213.6 1563.0,1213.5 1563.5,1213.4 1564.0,1213.3 1564.5,1213.2 1565.0,1213.1 1565.5,1213.2 1566.0,1213.3 1566.5,1213.3 1567.0,1213.4 1567.5,1213.5 1568.0,1213.6 1568.5,1213.6 1569.0,1213.7 1569.5,1213.8 1570.0,1213.9 1570.5,1213.9 1571.0,1214.0 1571.5,1214.1 1572.0,1214.1 1572.5,1214.2 1573.0,1214.3 1573.5,1214.3 1574.0,1214.4 1574.5,1214.5 1575.0,1214.5 1575.5,1214.6 1576.0,1214.6 1576.5,1214.7 1577.0,1214.8 1577.5,1214.8 1578.0,1214.9 1578.5,1214.9 1579.0,1215.0 1579.5,1215.0 1580.0,1215.0 1580.5,1215.1 1581.0,1215.1 1581.5,1215.1 1582.0,1215.1 1582.5,1215.0 1583.0,1214.9 1583.5,1214.7 1584.0,1214.4 1584.5,1214.1 1585.0,1213.6 1585.5,1213.1 1586.0,1212.6 1586.5,1211.9 1587.0,1211.4 1587.5,1210.9 1588.0,1210.5 1588.6,1210.4 1589.0,1210.5 1589.5,1210.9 1590.0,1211.5 1590.5,1212.2 1591.0,1212.9 1591.5,1213.7 1592.0,1214.3 1592.5,1214.9 1593.0,1215.5 1593.5,1215.9 1594.0,1216.2 1594.5,1216.5 1595.0,1216.7 1595.5,1216.9 1596.0,1217.0 1596.5,1217.2 1597.0,1217.3 1597.5,1217.4 1598.0,1217.5 1598.5,1217.5 1599.0,1217.6 1599.5,1217.7 1600.0,1217.8 1600.5,1217.9 1601.0,1217.9 1601.5,1218.0 1602.0,1218.1 1602.5,1218.1 1603.0,1218.2 1603.5,1218.3 1604.0,1218.4 1604.5,1218.4 1605.0,1218.5 1605.5,1218.6 1606.0,1218.6 1606.5,1218.7 1607.0,1218.8 1607.5,1218.8 1608.0,1218.8 1608.5,1218.8 1609.0,1218.8 1609.5,1218.8 1610.0,1218.8 1610.5,1218.8 1611.0,1218.8 1611.5,1218.8 1612.0,1218.7 1612.5,1218.7 1613.0,1218.7 1613.5,1218.7 1614.0,1218.7 1614.5,1218.7 1615.0,1218.7 1615.5,1218.7 1616.0,1218.6 1616.5,1218.6 1617.0,1218.6 1617.5,1218.6 1618.0,1218.6 1618.5,1218.6 1619.0,1218.6 1619.5,1218.5 1620.0,1218.5 1620.5,1218.5 1621.0,1218.5 1621.5,1218.5 1622.0,1218.5 1622.5,1218.4 1623.0,1218.4 1623.5,1218.4 1624.0,1218.4 1624.5,1218.4 1625.0,1218.4 1625.5,1218.3 1626.0,1218.3 1626.5,1218.3 1627.0,1218.3 1627.5,1218.3 1628.0,1218.3 1628.5,1218.2 1629.0,1218.2 1629.5,1218.2 1630.0,1218.2 1630.5,1218.1 1631.0,1218.1 1631.5,1218.0 1632.0,1218.0 1632.5,1217.9 1633.0,1217.8 1633.5,1217.7 1634.0,1217.6 1634.5,1217.4 1635.0,1217.2 1635.5,1216.9 1636.0,1216.6 1636.5,1216.3 1637.0,1216.0 1637.5,1215.6 1638.0,1215.2 1638.5,1214.9 1639.0,1214.7 1639.5,1214.5 1640.0,1214.4 1640.5,1214.4 1641.0,1214.6 1641.5,1214.8 1642.0,1215.1 1642.5,1215.5 1643.0,1215.8 1643.5,1216.1 1644.0,1216.4 1644.5,1216.7 1645.0,1216.9 1645.5,1217.1 1646.0,1217.2 1646.5,1217.4 1647.0,1217.4 1647.5,1217.5 1648.0,1217.5 1648.5,1217.6 1649.0,1217.6 1649.5,1217.6 1650.0,1217.6 1650.5,1217.6 1651.0,1217.6 1651.5,1217.6 1652.0,1217.6 1652.5,1217.6 1653.0,1217.6 1653.5,1217.6 1654.0,1217.6 1654.5,1217.6 1655.0,1217.6 1655.5,1217.5 1656.0,1217.5 1656.5,1217.5 1657.0,1217.5 1657.5,1217.5 1658.0,1217.5 1658.5,1217.5 1659.0,1217.5 1659.5,1217.5 1660.0,1217.5 1660.5,1217.5 1661.0,1217.5 1661.5,1217.5 1662.0,1217.5 1662.5,1217.5 1663.0,1217.5 1663.5,1217.5 1664.0,1217.5 1664.5,1217.5 1665.0,1217.5 1665.5,1217.5 1666.0,1217.5 1666.5,1217.5 1667.0,1217.5 1667.5,1217.5 1668.0,1217.5 1668.5,1217.5 1669.0,1217.5 1669.5,1217.5 1670.0,1217.5 1670.5,1217.5 1671.0,1217.5 1671.5,1217.5 1672.0,1217.5 1672.5,1217.5 1673.0,1217.5 1673.5,1217.5 1674.0,1217.5 1674.5,1217.5 1675.0,1217.5 1675.5,1217.5 1676.0,1217.5 1676.5,1217.5 1677.0,1217.4 1677.5,1217.4 1678.0,1217.4 1678.5,1217.4 1679.0,1217.4 1679.5,1217.4 1680.0,1217.4 1680.5,1217.4 1681.0,1217.4 1681.5,1217.4 1682.0,1217.4 1682.5,1217.4 1683.0,1217.4 1683.5,1217.4 1684.0,1217.4 1684.5,1217.4 1685.0,1217.4 1685.5,1217.4 1686.0,1217.4 1686.5,1217.4 1687.0,1217.4 1687.5,1217.4 1688.0,1217.4 1688.5,1217.4 1689.0,1217.4 1689.5,1217.3 1690.0,1217.3 1690.5,1217.3 1691.0,1217.3 1691.5,1217.3 1692.0,1217.3 1692.5,1217.3 1693.0,1217.3 1693.5,1217.2 1694.0,1217.2 1694.5,1217.2 1695.0,1217.2 1695.5,1217.1 1696.0,1217.1 1696.5,1217.1 1697.0,1217.0 1697.5,1217.0 1698.0,1216.9 1698.5,1216.8 1699.0,1216.8 1699.5,1216.7 1700.0,1216.6 1700.5,1216.4 1701.0,1216.3 1701.5,1216.2 1702.0,1216.0 1702.5,1215.8 1703.0,1215.6 1703.5,1215.4 1704.0,1215.1 1704.5,1214.9 1705.0,1214.6 1705.5,1214.3 1706.0,1214.0 1706.5,1213.7 1707.0,1213.3 1707.5,1213.0 1708.0,1212.6 1708.5,1212.3 1709.0,1212.0 1709.5,1211.6 1710.0,1211.3 1710.5,1211.1 1711.0,1210.8 1711.5,1210.7 1712.0,1210.5 1712.5,1210.4 1713.0,1210.4 1713.5,1210.4 1714.0,1210.5 1714.5,1210.7 1715.0,1210.8 1715.5,1211.1 1716.0,1211.3 1716.5,1211.6 1717.0,1212.0 1717.5,1212.3 1718.0,1212.6 1718.5,1213.0 1719.0,1213.3 1719.5,1213.6 1720.0,1214.0 1720.5,1214.3 1721.0,1214.6 1721.5,1214.9 1722.0,1215.1 1722.5,1215.4 1723.0,1215.6 1723.5,1215.8 1724.0,1216.0 1724.5,1216.2 1725.0,1216.3 1725.5,1216.4 1726.0,1216.6 1726.5,1216.7 1727.0,1216.8 1727.5,1216.8 1728.0,1216.9 1728.5,1217.0 1729.0,1217.0 1729.5,1217.1 1730.0,1217.1 1730.5,1217.1 1731.0,1217.2 1731.5,1217.2 1732.0,1217.2 1732.5,1217.2 1733.0,1217.3 1733.5,1217.3 1734.0,1217.3 1734.5,1217.3 1735.0,1217.3 1735.5,1217.3 1736.0,1217.3 1736.5,1217.3 1737.0,1217.3 1737.5,1217.3 1738.0,1217.4 1738.5,1217.4 1739.0,1217.4 1739.5,1217.4 1740.0,1217.4 1740.5,1217.4 1741.0,1217.4 1741.5,1217.4 1742.0,1217.4 1742.5,1217.4 1743.0,1217.4 1743.5,1217.4 1744.0,1217.4 1744.5,1217.4 1745.0,1217.4 1745.5,1217.4 1746.0,1217.4 1746.5,1217.4 1747.0,1217.4 1747.5,1217.4 1748.0,1217.4 1748.5,1217.4 1749.0,1217.4 1749.5,1217.4 1750.0,1217.4 1750.5,1217.4 1751.0,1217.4 1751.5,1217.4 1752.0,1217.4 1752.5,1217.4 1753.0,1217.4 1753.5,1217.4 1754.0,1217.4 1754.5,1217.4 1755.0,1217.4 1755.5,1217.4 1756.0,1217.4 1756.5,1217.4 1757.0,1217.4 1757.5,1217.4 1758.0,1217.4 1758.5,1217.4 1759.0,1217.4 1759.5,1217.4 1760.0,1217.4 1760.5,1217.4 1761.0,1217.4 1761.5,1217.4 1762.0,1217.4 1762.5,1217.4 1763.0,1217.3 1763.5,1217.3 1764.0,1217.3 1764.5,1217.3 1765.0,1217.3 1765.5,1217.3 1766.0,1217.3 1766.5,1217.3 1767.0,1217.3 1767.5,1217.3 1768.0,1217.3 1768.5,1217.3 1769.0,1217.3 1769.5,1217.2 1770.0,1217.2 1770.5,1217.1 1771.0,1217.0 1771.5,1216.8 1772.0,1216.4 1772.5,1215.9 1773.0,1215.2 1773.5,1214.2 1774.0,1212.9 1774.5,1211.3 1775.0,1209.4 1775.5,1207.3 1776.0,1205.3 1776.5,1203.6 1777.0,1202.6 1777.3,1202.4 1777.5,1202.5 1778.0,1203.4 1778.5,1205.0 1779.0,1207.0 1779.5,1209.1 1780.0,1211.1 1780.5,1212.9 1781.0,1214.3 1781.5,1215.4 1782.0,1216.2 1782.5,1216.8 1783.0,1217.2 1783.5,1217.5 1784.0,1217.7 1784.5,1217.8 1785.0,1217.9 1785.5,1218.0 1786.0,1218.1 1786.5,1218.1 1787.0,1218.2 1787.5,1218.2 1788.0,1218.3 1788.5,1218.3 1789.0,1218.4 1789.5,1218.4 1790.0,1218.5 1790.5,1218.5 1791.0,1218.5 1791.5,1218.5 1792.0,1218.6 1792.5,1218.6 1793.0,1218.6 1793.5,1218.6 1794.0,1218.7 1794.5,1218.7 1795.0,1218.7 1795.5,1218.6 1796.0,1218.6 1796.5,1218.6 1797.0,1218.6 1797.5,1218.6 1798.0,1218.6 1798.5,1218.6 1799.0,1218.5 1799.5,1218.5 1800.0,1218.5 1800.5,1218.4 1801.0,1218.4 1801.5,1218.3 1802.0,1218.3 1802.5,1218.2 1803.0,1218.0 1803.5,1217.9 1804.0,1217.6 1804.5,1217.2 1805.0,1216.6 1805.5,1215.8 1806.0,1214.6 1806.5,1213.1 1807.0,1211.1 1807.5,1208.7 1808.0,1206.0 1808.5,1203.2 1809.0,1200.8 1809.5,1199.0 1810.0,1198.4 1810.5,1199.0 1811.0,1200.8 1811.5,1203.3 1812.0,1206.0 1812.5,1208.7 1813.0,1211.1 1813.5,1213.1 1814.0,1214.7 1814.5,1215.8 1815.0,1216.7 1815.5,1217.2 1816.0,1217.6 1816.5,1217.9 1817.0,1218.1 1817.5,1218.2 1818.0,1218.3 1818.5,1218.4 1819.0,1218.4 1819.5,1218.5 1820.0,1218.5 1820.5,1218.6 1821.0,1218.6 1821.5,1218.6 1822.0,1218.6 1822.5,1218.7 1823.0,1218.7 1823.5,1218.7 1824.0,1218.7 1824.5,1218.7 1825.0,1218.8 1825.5,1218.8 1826.0,1218.8 1826.5,1218.8 1827.0,1218.8 1827.5,1218.8 1828.0,1218.8 1828.5,1218.8 1829.0,1218.8 1829.5,1218.8 1830.0,1218.8 1830.5,1218.8 1831.0,1218.9 1831.5,1218.9 1832.0,1218.9 1832.5,1218.9 1833.0,1218.9 1833.5,1218.9 1834.0,1218.9 1834.5,1218.9 1835.0,1218.9 1835.5,1218.9 1836.0,1218.9 1836.5,1218.9 1837.0,1218.9 1837.5,1218.9 1838.0,1218.9 1838.5,1218.9 1839.0,1218.9 1839.5,1218.9 1840.0,1218.9 1840.5,1218.9 1841.0,1218.9 1841.5,1218.9 1842.0,1218.9 1842.5,1218.9 1843.0,1218.9 1843.5,1218.9 1844.0,1218.9 1844.5,1218.9 1845.0,1218.9 1845.5,1218.9 1846.0,1218.9 1846.5,1218.9 1847.0,1218.9 1847.5,1218.9 1848.0,1218.9 1848.5,1218.9 1849.0,1218.9 1849.5,1218.9 1850.0,1218.9 1850.5,1218.9 1851.0,1218.9 1851.5,1218.9 1852.0,1218.9 1852.5,1218.9 1853.0,1218.9 1853.5,1218.9 1854.0,1218.9 1854.5,1218.9 1855.0,1218.9 1855.5,1218.9 1856.0,1218.9 1856.5,1218.9 1857.0,1218.9 1857.5,1218.9 1858.0,1218.9 1858.5,1218.9 1859.0,1218.9 1859.5,1218.9 1860.0,1218.9 1860.5,1218.9 1861.0,1218.9 1861.5,1218.9 1862.0,1218.9 1862.5,1218.9 1863.0,1218.9 1863.5,1218.9 1864.0,1218.9 1864.5,1218.9 1865.0,1218.9 1865.5,1218.9 1866.0,1218.8 1866.5,1218.8 1867.0,1218.8 1867.5,1218.8 1868.0,1218.7 1868.5,1218.7 1869.0,1218.7 1869.5,1218.6 1870.0,1218.6 1870.5,1218.6 1871.0,1218.6 1871.5,1218.5 1872.0,1218.5 1872.5,1218.5 1873.0,1218.5 1873.5,1218.4 1874.0,1218.4 1874.5,1218.4 1875.0,1218.4 1875.5,1218.3 1876.0,1218.3 1876.5,1218.3 1877.0,1218.3 1877.5,1218.2 1878.0,1218.2 1878.5,1218.2 1879.0,1218.1 1879.5,1218.1 1880.0,1218.1 1880.5,1218.1 1881.0,1218.0 1881.5,1218.0 1882.0,1218.0 1882.5,1218.0 1883.0,1217.9 1883.5,1217.9 1884.0,1217.9 1884.5,1217.8 1885.0,1217.8 1885.5,1217.8 1886.0,1217.7 1886.5,1217.7 1887.0,1217.7 1887.5,1217.7 1888.0,1217.6 1888.5,1217.6 1889.0,1217.6 1889.5,1217.5 1890.0,1217.5 1890.5,1217.4 1891.0,1217.4 1891.5,1217.4 1892.0,1217.3 1892.5,1217.3 1893.0,1217.3 1893.5,1217.2 1894.0,1217.2 1894.5,1217.1 1895.0,1217.1 1895.5,1217.0 1896.0,1216.9 1896.5,1216.9 1897.0,1216.8 1897.5,1216.7 1898.0,1216.6 1898.5,1216.4 1899.0,1216.3 1899.5,1216.0 1900.0,1215.7 1900.5,1215.3 1901.0,1214.9 1901.5,1214.3 1902.0,1213.5 1902.5,1212.6 1903.0,1211.6 1903.5,1210.5 1904.0,1209.3 1904.5,1208.0 1905.0,1206.7 1905.5,1205.6 1906.0,1204.7 1906.5,1204.0 1907.0,1203.8 1907.5,1204.0 1908.0,1204.6 1908.5,1205.4 1909.0,1206.5 1909.5,1207.7 1910.0,1209.0 1910.5,1210.1 1911.0,1211.2 1911.5,1212.2 1912.0,1213.0 1912.5,1213.7 1913.0,1214.3 1913.5,1214.7 1914.0,1215.0 1914.5,1215.3 1915.0,1215.5 1915.5,1215.6 1916.0,1215.7 1916.5,1215.8 1917.0,1215.8 1917.5,1215.8 1918.0,1215.8 1918.5,1215.9 1919.0,1215.9 1919.5,1215.9 1920.0,1215.9 1920.5,1215.9 1921.0,1215.9 1921.5,1215.9 1922.0,1215.8 1922.5,1215.8 1923.0,1215.8 1923.5,1215.8 1924.0,1215.8 1924.5,1215.8 1925.0,1215.8 1925.5,1215.8 1926.0,1215.9 1926.5,1215.9 1927.0,1215.9 1927.5,1215.9 1928.0,1215.9 1928.5,1215.9 1929.0,1216.0 1929.5,1216.0 1930.0,1216.0 1930.5,1216.0 1931.0,1216.0 1931.5,1216.0 1932.0,1216.0 1932.5,1216.1 1933.0,1216.1 1933.5,1216.1 1934.0,1216.1 1934.5,1216.1 1935.0,1216.1 1935.5,1216.1 1936.0,1216.1 1936.5,1216.1 1937.0,1216.2 1937.5,1216.2 1938.0,1216.2 1938.5,1216.2 1939.0,1216.2 1939.5,1216.2 1940.0,1216.2 1940.5,1216.2 1941.0,1216.2 1941.5,1216.3 1942.0,1216.3 1942.5,1216.3 1943.0,1216.3 1943.5,1216.3 1944.0,1216.3 1944.5,1216.3 1945.0,1216.3 1945.5,1216.3 1946.0,1216.4 1946.5,1216.4 1947.0,1216.4 1947.5,1216.4 1948.0,1216.4 1948.5,1216.4 1949.0,1216.4 1949.5,1216.4 1950.0,1216.4 1950.5,1216.4 1951.0,1216.5 1951.5,1216.5 1952.0,1216.5 1952.5,1216.5 1953.0,1216.5 1953.5,1216.5 1954.0,1216.5 1954.5,1216.5 1955.0,1216.5 1955.5,1216.5 1956.0,1216.6 1956.5,1216.6 1957.0,1216.6 1957.5,1216.6 1958.0,1216.6 1958.5,1216.6 1959.0,1216.6 1959.5,1216.6 1960.0,1216.6 1960.5,1216.6 1961.0,1216.6 1961.5,1216.7 1962.0,1216.7 1962.5,1216.7 1963.0,1216.7 1963.5,1216.7 1964.0,1216.7 1964.5,1216.7 1965.0,1216.7 1965.5,1216.7 1966.0,1216.7 1966.5,1216.8 1967.0,1216.8 1967.5,1216.8 1968.0,1216.8 1968.5,1216.8 1969.0,1216.8 1969.5,1216.8 1970.0,1216.8 1970.5,1216.8 1971.0,1216.8 1971.5,1216.8 1972.0,1216.9 1972.5,1216.9 1973.0,1216.9 1973.5,1216.9 1974.0,1216.9 1974.5,1216.9 1975.0,1216.9 1975.5,1216.9 1976.0,1216.9 1976.5,1216.9 1977.0,1217.0 1977.5,1217.0 1978.0,1217.0 1978.5,1217.0 1979.0,1217.0 1979.5,1217.0 1980.0,1217.0 1980.5,1217.0 1981.0,1217.0 1981.5,1217.0 1982.0,1217.0 1982.5,1217.1 1983.0,1217.1 1983.5,1217.1 1984.0,1217.1 1984.5,1217.1 1985.0,1217.1 1985.5,1217.1 1986.0,1217.1 1986.5,1217.1 1987.0,1217.1 1987.5,1217.2 1988.0,1217.2 1988.5,1217.2 1989.0,1217.2 1989.5,1217.2 1990.0,1217.2 1990.5,1217.2 1991.0,1217.2 1991.5,1217.2 1992.0,1217.2 1992.5,1217.2 1993.0,1217.3 1993.5,1217.3 1994.0,1217.3 1994.5,1217.3 1995.0,1217.3 1995.5,1217.3 1996.0,1217.3 1996.5,1217.3 1997.0,1217.3 1997.5,1217.3 1998.0,1217.3 1998.5,1217.4 1999.0,1217.4 1999.5,1217.4 2000.0,1217.4 2000.5,1217.4 2001.0,1217.4 2001.5,1217.4 2002.0,1217.4 2002.5,1217.4 2003.0,1217.4 2003.5,1217.4 2004.0,1217.5 2004.5,1217.5 2005.0,1217.5 2005.5,1217.5 2006.0,1217.5 2006.5,1217.5 2007.0,1217.5 2007.5,1217.5 2008.0,1217.5 2008.5,1217.5 2009.0,1217.6 2009.5,1217.6 2010.0,1217.6 2010.5,1217.6 2011.0,1217.6 2011.5,1217.6 2012.0,1217.6 2012.5,1217.6 2013.0,1217.6 2013.5,1217.6 2014.0,1217.6 2014.5,1217.7 2015.0,1217.7 2015.5,1217.7 2016.0,1217.7 2016.5,1217.7 2017.0,1217.7 2017.5,1217.7 2018.0,1217.7 2018.5,1217.7 2019.0,1217.7 2019.5,1217.7 2020.0,1217.8 2020.5,1217.8 2021.0,1217.8 2021.5,1217.8 2022.0,1217.8 2022.5,1217.8 2023.0,1217.8 2023.5,1217.8 2024.0,1217.8 2024.5,1217.8 2025.0,1217.8 2025.5,1217.9 2026.0,1217.9 2026.5,1217.9 2027.0,1217.9 2027.5,1217.9 2028.0,1217.9 2028.5,1217.9 2029.0,1217.9 2029.5,1217.9 2030.0,1217.9 2030.5,1217.9 2031.0,1218.0 2031.5,1218.0 2032.0,1218.0 2032.5,1218.0 2033.0,1218.0 2033.5,1218.0 2034.0,1218.0 2034.5,1218.0 2035.0,1218.0 2035.5,1218.0 2036.0,1218.0 2036.5,1218.1 2037.0,1218.1 2037.5,1218.1 2038.0,1218.1 2038.5,1218.1 2039.0,1218.1 2039.5,1218.1 2040.0,1218.1 2040.5,1218.1 2041.0,1218.1 2041.5,1218.1 2042.0,1218.1 2042.5,1218.2 2043.0,1218.2 2043.5,1218.2 2044.0,1218.2 2044.5,1218.2 2045.0,1218.2 2045.5,1218.2 2046.0,1218.2 2046.5,1218.2 2047.0,1218.2 2047.5,1218.2 2048.0,1218.2 2048.5,1218.2 2049.0,1218.2 2049.5,1218.2 2050.0,1218.3 2050.5,1218.3 2051.0,1218.3 2051.5,1218.3 2052.0,1218.3 2052.5,1218.3 2053.0,1218.3 2053.5,1218.3 2054.0,1218.3 2054.5,1218.3 2055.0,1218.3 2055.5,1218.2 2056.0,1218.2 2056.5,1218.2 2057.0,1218.2 2057.5,1218.1 2058.0,1218.0 2058.5,1217.9 2059.0,1217.7 2059.5,1217.5 2060.0,1217.2 2060.5,1216.8 2061.0,1216.4 2061.5,1216.0 2062.0,1215.5 2062.5,1215.1 2063.0,1214.7 2063.5,1214.5 2064.0,1214.4 2064.5,1214.5 2065.0,1214.8 2065.5,1215.2 2066.0,1215.6 2066.5,1216.1 2067.0,1216.5 2067.5,1217.0 2068.0,1217.3 2068.5,1217.6 2069.0,1217.9 2069.5,1218.1 2070.0,1218.2 2070.5,1218.3 2071.0,1218.4 2071.5,1218.5 2072.0,1218.5 2072.5,1218.6 2073.0,1218.6 2073.5,1218.6 2074.0,1218.6 2074.5,1218.7 2075.0,1218.7 2075.5,1218.7 2076.0,1218.7 2076.5,1218.7 2077.0,1218.7 2077.5,1218.8 2078.0,1218.8 2078.5,1218.8 2079.0,1218.8 2079.5,1218.8 2080.0,1218.8 2080.5,1218.8 2081.0,1218.9 2081.5,1218.9 2082.0,1218.9 2082.5,1218.9 2083.0,1218.9 2083.5,1218.9 2084.0,1218.9 2084.5,1218.9 2085.0,1218.9 2085.5,1219.0 2086.0,1219.0 2086.5,1219.0 2087.0,1219.0 2087.5,1219.0 2088.0,1219.0 2088.5,1219.0 2089.0,1219.0 2089.5,1219.0 2090.0,1219.0"/>
<polyline fill="none" stroke="#2a76e0" stroke-width="6.0" stroke-linejoin="round" stroke-linecap="round" points="125.0,853.3 125.5,853.3 126.0,853.3 126.5,853.4 127.0,853.4 127.5,853.5 128.0,853.5 128.5,853.5 129.0,853.6 129.5,853.6 130.0,853.6 130.5,853.7 131.0,853.7 131.5,853.7 132.0,853.8 132.5,853.8 133.0,853.8 133.5,853.9 134.0,853.9 134.5,853.9 135.0,854.0 135.5,854.0 136.0,854.0 136.5,854.1 137.0,854.1 137.5,854.2 138.0,854.2 138.5,854.2 139.0,854.3 139.5,854.3 140.0,854.3 140.5,854.4 141.0,854.4 141.5,854.4 142.0,854.5 142.5,854.5 143.0,854.5 143.5,854.6 144.0,854.6 144.5,854.6 145.0,854.7 145.5,854.7 146.0,854.7 146.5,854.8 147.0,854.8 147.5,854.9 148.0,854.9 148.5,854.9 149.0,855.0 149.5,855.0 150.0,855.0 150.5,855.1 151.0,855.1 151.5,855.1 152.0,855.2 152.5,855.2 153.0,855.2 153.5,855.3 154.0,855.3 154.5,855.3 155.0,855.4 155.5,855.4 156.0,855.4 156.5,855.4 157.0,855.5 157.5,855.5 158.0,855.5 158.5,855.5 159.0,855.5 159.5,855.6 160.0,855.6 160.5,855.6 161.0,855.6 161.5,855.7 162.0,855.7 162.5,855.7 163.0,855.7 163.5,855.7 164.0,855.8 164.5,855.8 165.0,855.8 165.5,855.8 166.0,855.9 166.5,855.9 167.0,855.9 167.5,855.9 168.0,855.9 168.5,856.0 169.0,856.0 169.5,856.0 170.0,856.0 170.5,856.0 171.0,856.1 171.5,856.1 172.0,856.1 172.5,856.1 173.0,856.2 173.5,856.2 174.0,856.2 174.5,856.2 175.0,856.2 175.5,856.3 176.0,856.3 176.5,856.3 177.0,856.3 177.5,856.3 178.0,856.4 178.5,856.4 179.0,856.4 179.5,856.4 180.0,856.5 180.5,856.5 181.0,856.5 181.5,856.5 182.0,856.5 182.5,856.6 183.0,856.6 183.5,856.6 184.0,856.6 184.5,856.6 185.0,856.7 185.5,856.7 186.0,856.7 186.5,856.7 187.0,856.8 187.5,856.8 188.0,856.8 188.5,856.8 189.0,856.9 189.5,856.9 190.0,856.9 190.5,856.9 191.0,857.0 191.5,857.0 192.0,857.0 192.5,857.0 193.0,857.1 193.5,857.1 194.0,857.1 194.5,857.1 195.0,857.2 195.5,857.2 196.0,857.2 196.5,857.2 197.0,857.3 197.5,857.3 198.0,857.3 198.5,857.3 199.0,857.4 199.5,857.4 200.0,857.4 200.5,857.4 201.0,857.5 201.5,857.5 202.0,857.5 202.5,857.5 203.0,857.6 203.5,857.6 204.0,857.6 204.5,857.6 205.0,857.7 205.5,857.7 206.0,857.7 206.5,857.7 207.0,857.8 207.5,857.8 208.0,857.8 208.5,857.8 209.0,857.9 209.5,857.9 210.0,857.9 210.5,857.9 211.0,858.0 211.5,858.0 212.0,858.0 212.5,858.0 213.0,858.1 213.5,858.1 214.0,858.1 214.5,858.1 215.0,858.2 215.5,858.2 216.0,858.2 216.5,858.2 217.0,858.2 217.5,858.2 218.0,858.3 218.5,858.3 219.0,858.3 219.5,858.3 220.0,858.3 220.5,858.3 221.0,858.3 221.5,858.4 222.0,858.4 222.5,858.4 223.0,858.4 223.5,858.4 224.0,858.4 224.5,858.5 225.0,858.5 225.5,858.5 226.0,858.5 226.5,858.5 227.0,858.5 227.5,858.5 228.0,858.6 228.5,858.6 229.0,858.6 229.5,858.6 230.0,858.6 230.5,858.6 231.0,858.7 231.5,858.7 232.0,858.7 232.5,858.7 233.0,858.7 233.5,858.7 234.0,858.7 234.5,858.8 235.0,858.8 235.5,858.8 236.0,858.8 236.5,858.8 237.0,858.8 237.5,858.9 238.0,858.9 238.5,858.9 239.0,858.9 239.5,858.9 240.0,858.9 240.5,858.9 241.0,859.0 241.5,859.0 242.0,859.0 242.5,859.0 243.0,859.0 243.5,859.0 244.0,859.1 244.5,859.1 245.0,859.1 245.5,859.1 246.0,859.1 246.5,859.1 247.0,859.1 247.5,859.2 248.0,859.2 248.5,859.2 249.0,859.2 249.5,859.2 250.0,859.2 250.5,859.3 251.0,859.3 251.5,859.3 252.0,859.3 252.5,859.4 253.0,859.4 253.5,859.4 254.0,859.4 254.5,859.4 255.0,859.5 255.5,859.5 256.0,859.5 256.5,859.5 257.0,859.5 257.5,859.6 258.0,859.6 258.5,859.6 259.0,859.6 259.5,859.7 260.0,859.7 260.5,859.7 261.0,859.7 261.5,859.7 262.0,859.8 262.5,859.8 263.0,859.8 263.5,859.8 264.0,859.9 264.5,859.9 265.0,859.9 265.5,859.9 266.0,859.9 266.5,860.0 267.0,860.0 267.5,860.0 268.0,860.0 268.5,860.0 269.0,860.1 269.5,860.1 270.0,860.1 270.5,860.1 271.0,860.1 271.5,860.2 272.0,860.2 272.5,860.2 273.0,860.2 273.5,860.3 274.0,860.3 274.5,860.3 275.0,860.3 275.5,860.3 276.0,860.4 276.5,860.4 277.0,860.4 277.5,860.4 278.0,860.4 278.5,860.5 279.0,860.5 279.5,860.5 280.0,860.5 280.5,860.5 281.0,860.6 281.5,860.6 282.0,860.6 282.5,860.6 283.0,860.6 283.5,860.6 284.0,860.7 284.5,860.7 285.0,860.7 285.5,860.7 286.0,860.7 286.5,860.7 287.0,860.8 287.5,860.8 288.0,860.8 288.5,860.8 289.0,860.8 289.5,860.8 290.0,860.8 290.5,860.8 291.0,860.8 291.5,860.8 292.0,860.8 292.5,860.8 293.0,860.8 293.5,860.8 294.0,860.8 294.5,860.8 295.0,860.8 295.5,860.8 296.0,860.7 296.5,860.7 297.0,860.6 297.5,860.5 298.0,860.4 298.5,860.2 299.0,860.0 299.5,859.5 300.0,858.7 300.5,857.4 301.0,855.5 301.5,852.8 302.0,849.4 302.5,845.4 303.0,841.5 303.5,838.5 304.0,837.4 304.5,838.6 305.0,841.6 305.5,845.5 306.0,849.5 306.5,853.0 307.0,855.7 307.5,857.7 308.0,859.0 308.5,859.8 309.0,860.3 309.5,860.6 310.0,860.8 310.5,861.0 311.0,861.1 311.5,861.2 312.0,861.3 312.5,861.3 313.0,861.4 313.5,861.4 314.0,861.5 314.5,861.5 315.0,861.6 315.5,861.6 316.0,861.6 316.5,861.7 317.0,861.7 317.5,861.7 318.0,861.7 318.5,861.8 319.0,861.8 319.5,861.8 320.0,861.8 320.5,861.8 321.0,861.8 321.5,861.8 322.0,861.8 322.5,861.8 323.0,861.8 323.5,861.8 324.0,861.8 324.5,861.8 325.0,861.7 325.5,861.7 326.0,861.7 326.5,861.7 327.0,861.7 327.5,861.6 328.0,861.6 328.5,861.6 329.0,861.5 329.5,861.5 330.0,861.4 330.5,861.4 331.0,861.3 331.5,861.3 332.0,861.2 332.5,861.1 333.0,861.0 333.5,860.9 334.0,860.7 334.5,860.6 335.0,860.4 335.5,860.2 336.0,859.9 336.5,859.6 337.0,859.3 337.5,858.8 338.0,858.2 338.5,857.5 339.0,856.3 339.5,854.5 340.0,851.5 340.5,846.7 341.0,839.0 341.5,827.6 342.0,811.9 342.5,792.2 343.0,770.3 343.5,749.4 344.0,734.5 344.4,730.4 345.0,739.4 345.5,757.4 346.0,779.2 346.5,800.5 347.0,818.7 347.5,832.7 348.0,842.5 348.5,849.0 349.0,853.0 349.5,855.4 350.0,857.0 350.5,857.9 351.0,858.6 351.5,859.2 352.0,859.6 352.5,859.9 353.0,860.2 353.5,860.5 354.0,860.7 354.5,860.9 355.0,861.0 355.5,861.2 356.0,861.3 356.5,861.4 357.0,861.5 357.5,861.6 358.0,861.7 358.5,861.7 359.0,861.8 359.5,861.9 360.0,861.9 360.5,862.0 361.0,862.0 361.5,862.1 362.0,862.1 362.5,862.1 363.0,862.2 363.5,862.2 364.0,862.2 364.5,862.3 365.0,862.3 365.5,862.3 366.0,862.3 366.5,862.4 367.0,862.4 367.5,862.4 368.0,862.5 368.5,862.5 369.0,862.5 369.5,862.5 370.0,862.6 370.5,862.6 371.0,862.6 371.5,862.6 372.0,862.7 372.5,862.7 373.0,862.7 373.5,862.7 374.0,862.7 374.5,862.8 375.0,862.8 375.5,862.8 376.0,862.8 376.5,862.8 377.0,862.8 377.5,862.8 378.0,862.8 378.5,862.8 379.0,862.8 379.5,862.8 380.0,862.7 380.5,862.6 381.0,862.4 381.5,862.1 382.0,861.7 382.5,861.3 383.0,860.8 383.5,860.5 384.0,860.4 384.5,860.5 385.0,860.9 385.5,861.4 386.0,861.8 386.5,862.3 387.0,862.6 387.5,862.8 388.0,863.0 388.5,863.1 389.0,863.2 389.5,863.2 390.0,863.3 390.5,863.3 391.0,863.3 391.5,863.3 392.0,863.4 392.5,863.4 393.0,863.4 393.5,863.4 394.0,863.4 394.5,863.5 395.0,863.5 395.5,863.5 396.0,863.5 396.5,863.5 397.0,863.5 397.5,863.6 398.0,863.6 398.5,863.6 399.0,863.6 399.5,863.6 400.0,863.6 400.5,863.7 401.0,863.7 401.5,863.7 402.0,863.7 402.5,863.7 403.0,863.7 403.5,863.7 404.0,863.8 404.5,863.8 405.0,863.8 405.5,863.8 406.0,863.8 406.5,863.8 407.0,863.8 407.5,863.9 408.0,863.9 408.5,863.9 409.0,863.9 409.5,863.9 410.0,863.9 410.5,863.9 411.0,863.9 411.5,863.9 412.0,864.0 412.5,864.0 413.0,864.0 413.5,864.0 414.0,864.0 414.5,864.0 415.0,864.0 415.5,864.0 416.0,864.0 416.5,864.0 417.0,864.0 417.5,864.0 418.0,864.0 418.5,864.0 419.0,864.0 419.5,864.0 420.0,864.0 420.5,864.0 421.0,864.0 421.5,863.9 422.0,863.9 422.5,863.9 423.0,863.9 423.5,863.9 424.0,863.9 424.5,863.8 425.0,863.8 425.5,863.8 426.0,863.8 426.5,863.7 427.0,863.7 427.5,863.7 428.0,863.6 428.5,863.6 429.0,863.5 429.5,863.4 430.0,863.3 430.5,863.2 431.0,863.1 431.5,863.0 432.0,862.8 432.5,862.7 433.0,862.4 433.5,862.1 434.0,861.7 434.5,861.2 435.0,860.3 435.5,858.8 436.0,856.4 436.5,852.6 437.0,846.9 437.5,838.9 438.0,828.7 438.5,817.0 439.0,805.4 439.5,796.4 440.0,793.0 440.5,796.4 441.0,805.4 441.5,817.0 442.0,828.7 442.5,838.9 443.0,846.9 443.5,852.7 444.0,856.5 444.5,858.9 445.0,860.3 445.5,861.2 446.0,861.8 446.5,862.2 447.0,862.5 447.5,862.7 448.0,862.9 448.5,863.0 449.0,863.2 449.5,863.3 450.0,863.4 450.5,863.5 451.0,863.5 451.5,863.6 452.0,863.6 452.5,863.7 453.0,863.7 453.5,863.7 454.0,863.7 454.5,863.7 455.0,863.7 455.5,863.7 456.0,863.7 456.5,863.7 457.0,863.7 457.5,863.6 458.0,863.5 458.5,863.5 459.0,863.3 459.5,863.1 460.0,862.8 460.5,862.3 461.0,861.4 461.5,859.9 462.0,857.8 462.5,854.8 463.0,850.9 463.5,846.5 464.0,842.1 464.5,838.7 465.0,837.4 465.5,838.7 466.0,842.1 466.5,846.5 467.0,851.0 467.5,854.9 468.0,857.9 468.5,860.1 469.0,861.5 469.5,862.4 470.0,863.0 470.5,863.4 471.0,863.6 471.5,863.7 472.0,863.9 472.5,863.9 473.0,864.0 473.5,864.1 474.0,864.1 474.5,864.2 475.0,864.2 475.5,864.3 476.0,864.3 476.5,864.3 477.0,864.4 477.5,864.4 478.0,864.4 478.5,864.4 479.0,864.4 479.5,864.5 480.0,864.5 480.5,864.5 481.0,864.5 481.5,864.5 482.0,864.5 482.5,864.5 483.0,864.5 483.5,864.6 484.0,864.6 484.5,864.6 485.0,864.6 485.5,864.6 486.0,864.6 486.5,864.6 487.0,864.6 487.5,864.6 488.0,864.6 488.5,864.6 489.0,864.6 489.5,864.6 490.0,864.6 490.5,864.6 491.0,864.6 491.5,864.6 492.0,864.6 492.5,864.5 493.0,864.5 493.5,864.5 494.0,864.5 494.5,864.5 495.0,864.4 495.5,864.4 496.0,864.4 496.5,864.3 497.0,864.3 497.5,864.2 498.0,864.2 498.5,864.1 499.0,864.0 499.5,863.9 500.0,863.7 500.5,863.5 501.0,863.2 501.5,862.6 502.0,861.6 502.5,860.1 503.0,857.8 503.5,854.7 504.0,850.6 504.5,845.9 505.0,841.3 505.5,837.8 506.0,836.4 506.5,837.8 507.0,841.3 507.5,845.9 508.0,850.6 508.5,854.6 509.0,857.8 509.5,860.1 510.0,861.6 510.5,862.6 511.0,863.1 511.5,863.5 512.0,863.7 512.5,863.9 513.0,864.0 513.5,864.1 514.0,864.2 514.5,864.2 515.0,864.3 515.5,864.3 516.0,864.4 516.5,864.4 517.0,864.4 517.5,864.4 518.0,864.5 518.5,864.5 519.0,864.5 519.5,864.5 520.0,864.5 520.5,864.5 521.0,864.6 521.5,864.6 522.0,864.6 522.5,864.6 523.0,864.6 523.5,864.6 524.0,864.6 524.5,864.6 525.0,864.6 525.5,864.6 526.0,864.6 526.5,864.6 527.0,864.6 527.5,864.6 528.0,864.6 528.5,864.6 529.0,864.6 529.5,864.6 530.0,864.6 530.5,864.6 531.0,864.6 531.5,864.6 532.0,864.6 532.5,864.6 533.0,864.6 533.5,864.6 534.0,864.6 534.5,864.6 535.0,864.6 535.5,864.6 536.0,864.6 536.5,864.6 537.0,864.6 537.5,864.6 538.0,864.6 538.5,864.6 539.0,864.6 539.5,864.6 540.0,864.6 540.5,864.6 541.0,864.6 541.5,864.5 542.0,864.5 542.5,864.5 543.0,864.5 543.5,864.4 544.0,864.4 544.5,864.3 545.0,864.2 545.5,863.9 546.0,863.6 546.5,863.1 547.0,862.5 547.5,861.8 548.0,861.1 548.5,860.6 549.0,860.4 549.5,860.6 550.0,861.1 550.5,861.8 551.0,862.4 551.5,863.0 552.0,863.5 552.5,863.8 553.0,864.0 553.5,864.1 554.0,864.2 554.5,864.2 555.0,864.2 555.5,864.2 556.0,864.2 556.5,864.2 557.0,864.2 557.5,864.2 558.0,864.1 558.5,864.1 559.0,864.0 559.5,864.0 560.0,863.9 560.5,863.8 561.0,863.7 561.5,863.5 562.0,863.3 562.5,863.0 563.0,862.7 563.5,862.2 564.0,861.7 564.5,861.0 565.0,860.2 565.5,859.2 566.0,858.1 566.5,856.8 567.0,855.4 567.5,853.9 568.0,852.4 568.5,850.8 569.0,849.3 569.5,848.0 570.0,847.0 570.5,846.3 571.0,846.1 571.5,846.3 572.0,847.0 572.5,848.0 573.0,849.3 573.5,850.7 574.0,852.3 574.5,853.8 575.0,855.3 575.5,856.7 576.0,857.9 576.5,859.1 577.0,860.0 577.5,860.8 578.0,861.5 578.5,862.0 579.0,862.4 579.5,862.8 580.0,863.0 580.5,863.2 581.0,863.4 581.5,863.5 582.0,863.6 582.5,863.6 583.0,863.7 583.5,863.7 584.0,863.7 584.5,863.8 585.0,863.8 585.5,863.8 586.0,863.8 586.5,863.8 587.0,863.8 587.5,863.7 588.0,863.7 588.5,863.7 589.0,863.7 589.5,863.7 590.0,863.6 590.5,863.6 591.0,863.6 591.5,863.5 592.0,863.5 592.5,863.4 593.0,863.4 593.5,863.3 594.0,863.3 594.5,863.2 595.0,863.1 595.5,863.1 596.0,863.0 596.5,862.9 597.0,862.8 597.5,862.7 598.0,862.6 598.5,862.5 599.0,862.4 599.5,862.3 600.0,862.1 600.5,861.9 601.0,861.7 601.5,861.5 602.0,861.2 602.5,860.9 603.0,860.6 603.5,860.2 604.0,859.8 604.5,859.3 605.0,858.6 605.5,857.9 606.0,857.0 606.5,855.9 607.0,854.7 607.5,853.2 608.0,851.5 608.5,849.7 609.0,847.7 609.5,845.5 610.0,843.1 610.5,840.8 611.0,838.5 611.5,836.3 612.0,834.3 612.5,832.7 613.0,831.4 613.5,830.5 614.0,830.0 614.5,829.7 615.0,829.5 615.5,829.1 616.0,828.2 616.5,826.6 617.0,823.6 617.5,818.3 618.0,809.7 618.5,795.9 619.0,774.9 619.5,744.3 620.0,702.0 620.5,646.5 621.0,578.1 621.5,499.3 622.0,415.6 622.5,335.8 623.0,272.1 623.5,237.9 623.7,234.7 624.0,241.9 624.5,283.1 625.0,351.3 625.5,433.0 626.0,516.6 626.5,594.0 627.0,660.4 627.5,713.8 628.0,754.4 628.5,783.8 629.0,804.2 629.5,818.0 630.0,827.3 630.5,833.5 631.0,837.9 631.5,841.0 632.0,843.4 632.5,845.3 633.0,846.8 633.5,848.1 634.0,849.2 634.5,850.1 635.0,850.8 635.5,851.5 636.0,852.0 636.5,852.4 637.0,852.6 637.5,852.8 638.0,852.9 638.5,852.9 639.0,852.8 639.5,852.5 640.0,851.8 640.5,850.6 641.0,848.3 641.5,844.3 642.0,837.8 642.5,827.6 643.0,813.0 643.5,794.0 644.0,771.6 644.5,748.6 645.0,729.7 645.6,720.4 646.0,724.9 646.5,740.9 647.0,763.2 647.5,786.6 648.0,807.6 648.5,824.4 649.0,836.7 649.5,845.0 650.0,850.2 650.5,853.5 651.0,855.5 651.5,856.9 652.0,857.8 652.5,858.5 653.0,859.1 653.5,859.6 654.0,860.0 654.5,860.3 655.0,860.7 655.5,860.9 656.0,861.2 656.5,861.4 657.0,861.6 657.5,861.8 658.0,861.9 658.5,862.1 659.0,862.2 659.5,862.3 660.0,862.4 660.5,862.5 661.0,862.6 661.5,862.6 662.0,862.7 662.5,862.7 663.0,862.7 663.5,862.6 664.0,862.6 664.5,862.4 665.0,862.3 665.5,862.0 666.0,861.7 666.5,861.3 667.0,860.5 667.5,859.2 668.0,857.1 668.5,853.7 669.0,848.6 669.5,841.5 670.0,832.3 670.5,821.8 671.0,811.5 671.5,803.5 672.0,800.4 672.5,803.5 673.0,811.5 673.5,822.0 674.0,832.5 674.5,841.7 675.0,848.9 675.5,854.0 676.0,857.5 676.5,859.6 677.0,860.9 677.5,861.8 678.0,862.3 678.5,862.7 679.0,862.9 679.5,863.2 680.0,863.3 680.5,863.5 681.0,863.6 681.5,863.7 682.0,863.8 682.5,863.9 683.0,864.0 683.5,864.1 684.0,864.1 684.5,864.2 685.0,864.2 685.5,864.3 686.0,864.3 686.5,864.3 687.0,864.4 687.5,864.4 688.0,864.4 688.5,864.5 689.0,864.5 689.5,864.5 690.0,864.5 690.5,864.5 691.0,864.5 691.5,864.6 692.0,864.6 692.5,864.6 693.0,864.6 693.5,864.6 694.0,864.6 694.5,864.6 695.0,864.6 695.5,864.6 696.0,864.7 696.5,864.7 697.0,864.7 697.5,864.7 698.0,864.7 698.5,864.7 699.0,864.7 699.5,864.7 700.0,864.7 700.5,864.7 701.0,864.7 701.5,864.7 702.0,864.7 702.5,864.7 703.0,864.7 703.5,864.7 704.0,864.7 704.5,864.7 705.0,864.7 705.5,864.7 706.0,864.7 706.5,864.7 707.0,864.7 707.5,864.7 708.0,864.7 708.5,864.7 709.0,864.7 709.5,864.6 710.0,864.6 710.5,864.6 711.0,864.6 711.5,864.6 712.0,864.6 712.5,864.6 713.0,864.6 713.5,864.6 714.0,864.5 714.5,864.5 715.0,864.5 715.5,864.5 716.0,864.5 716.5,864.5 717.0,864.4 717.5,864.4 718.0,864.4 718.5,864.4 719.0,864.4 719.5,864.3 720.0,864.3 720.5,864.3 721.0,864.2 721.5,864.2 722.0,864.2 722.5,864.1 723.0,864.1 723.5,864.0 724.0,864.0 724.5,863.9 725.0,863.8 725.5,863.8 726.0,863.7 726.5,863.6 727.0,863.5 727.5,863.4 728.0,863.3 728.5,863.2 729.0,863.1 729.5,862.9 730.0,862.8 730.5,862.6 731.0,862.4 731.5,862.2 732.0,861.9 732.5,861.5 733.0,861.1 733.5,860.6 734.0,860.0 734.5,859.3 735.0,858.4 735.5,857.1 736.0,855.3 736.5,852.6 737.0,848.6 737.5,842.9 738.0,835.0 738.5,824.3 739.0,810.8 739.5,794.6 740.0,776.6 740.5,758.2 741.0,741.6 741.5,729.8 742.0,725.4 742.5,729.6 743.0,741.1 743.5,757.5 744.0,775.6 744.5,793.4 745.0,809.3 745.5,822.6 746.0,832.9 746.5,840.6 747.0,846.0 747.5,849.6 748.0,851.9 748.5,853.4 749.0,854.2 749.5,854.8 750.0,855.1 750.5,855.0 751.0,854.6 751.5,853.5 752.0,851.4 752.5,847.8 753.0,842.2 753.5,834.3 754.0,824.1 754.5,812.3 755.0,800.7 755.5,791.8 756.0,788.4 756.5,792.0 757.0,801.2 757.5,813.1 758.0,825.0 758.5,835.5 759.0,843.7 759.5,849.6 760.0,853.5 760.5,855.9 761.0,857.4 761.5,858.3 762.0,858.9 762.5,859.3 763.0,859.5 763.5,859.7 764.0,859.8 764.5,859.9 765.0,859.9 765.5,859.9 766.0,859.8 766.5,859.7 767.0,859.6 767.5,859.3 768.0,858.9 768.5,858.5 769.0,858.0 769.5,857.3 770.0,856.4 770.5,855.1 771.0,853.0 771.5,849.8 772.0,844.9 772.5,837.6 773.0,827.5 773.5,814.7 774.0,800.1 774.5,785.4 775.0,773.8 775.5,768.4 776.0,770.9 776.5,779.3 777.0,790.1 777.5,799.6 778.0,805.2 778.5,804.9 779.0,797.4 779.5,781.6 780.0,756.9 780.5,723.2 781.0,681.2 781.5,633.2 782.0,582.9 782.5,536.3 783.0,501.0 783.6,484.4 784.0,492.2 784.5,521.1 785.0,564.7 785.5,614.9 786.0,665.2 786.5,710.9 787.0,749.6 787.5,780.4 788.0,803.5 788.5,820.2 789.0,831.7 789.5,839.5 790.0,844.8 790.5,848.3 791.0,850.9 791.5,852.8 792.0,854.2 792.5,855.4 793.0,856.4 793.5,857.3 794.0,858.0 794.5,858.6 795.0,859.2 795.5,859.7 796.0,860.2 796.5,860.6 797.0,861.0 797.5,861.3 798.0,861.6 798.5,861.9 799.0,862.2 799.5,862.4 800.0,862.6 800.5,862.8 801.0,862.9 801.5,862.9 802.0,862.9 802.5,862.8 803.0,862.5 803.5,862.1 804.0,861.5 804.5,861.0 805.0,860.5 805.6,860.4 806.0,860.6 806.5,861.2 807.0,861.9 807.5,862.7 808.0,863.4 808.5,863.9 809.0,864.3 809.5,864.6 810.0,864.9 810.5,865.0 811.0,865.1 811.5,865.2 812.0,865.2 812.5,865.2 813.0,865.2 813.5,865.1 814.0,865.0 814.5,864.7 815.0,864.3 815.5,863.8 816.0,863.0 816.5,862.2 817.0,861.2 817.5,860.1 818.0,859.2 818.5,858.6 819.0,858.4 819.5,858.7 820.0,859.4 820.5,860.4 821.0,861.5 821.5,862.6 822.0,863.6 822.5,864.4 823.0,865.1 823.5,865.6 824.0,865.9 824.5,866.2 825.0,866.3 825.5,866.4 826.0,866.5 826.5,866.5 827.0,866.5 827.5,866.4 828.0,866.2 828.5,865.9 829.0,865.5 829.5,865.0 830.0,864.2 830.5,863.3 831.0,862.3 831.5,861.2 832.0,860.3 832.5,859.6 833.0,859.4 833.5,859.7 834.0,860.4 834.5,861.4 835.0,862.6 835.5,863.7 836.0,864.6 836.5,865.5 837.0,866.1 837.5,866.6 838.0,867.0 838.5,867.2 839.0,867.4 839.5,867.5 840.0,867.6 840.5,867.6 841.0,867.7 841.5,867.7 842.0,867.7 842.5,867.6 843.0,867.6 843.5,867.5 844.0,867.4 844.5,867.3 845.0,867.1 845.5,867.0 846.0,866.8 846.5,866.5 847.0,866.2 847.5,865.7 848.0,865.0 848.5,863.7 849.0,861.8 849.5,858.8 850.0,854.5 850.5,848.8 851.0,841.9 851.5,834.7 852.0,828.4 852.5,824.8 852.7,824.4 853.0,825.1 853.5,829.2 854.0,835.7 854.5,842.7 855.0,849.1 855.5,854.2 856.0,857.8 856.5,859.9 857.0,860.6 857.5,860.1 858.0,858.3 858.5,855.4 859.0,851.5 859.5,846.9 860.0,842.3 860.5,838.7 861.0,837.4 861.5,838.9 862.0,842.6 862.5,847.3 863.0,852.1 863.5,856.3 864.0,859.6 864.5,861.9 865.0,863.5 865.5,864.5 866.0,865.1 866.5,865.4 867.0,865.6 867.5,865.8 868.0,865.9 868.5,866.0 869.0,866.0 869.5,866.1 870.0,866.1 870.5,866.1 871.0,866.1 871.5,866.2 872.0,866.2 872.5,866.2 873.0,866.2 873.5,866.3 874.0,866.3 874.5,866.3 875.0,866.3 875.5,866.3 876.0,866.4 876.5,866.4 877.0,866.4 877.5,866.4 878.0,866.4 878.5,866.4 879.0,866.4 879.5,866.4 880.0,866.4 880.5,866.4 881.0,866.5 881.5,866.5 882.0,866.5 882.5,866.5 883.0,866.5 883.5,866.5 884.0,866.5 884.5,866.5 885.0,866.5 885.5,866.5 886.0,866.5 886.5,866.5 887.0,866.5 887.5,866.5 888.0,866.5 888.5,866.5 889.0,866.5 889.5,866.4 890.0,866.4 890.5,866.4 891.0,866.4 891.5,866.4 892.0,866.4 892.5,866.4 893.0,866.4 893.5,866.4 894.0,866.3 894.5,866.3 895.0,866.3 895.5,866.3 896.0,866.2 896.5,866.2 897.0,866.2 897.5,866.1 898.0,866.0 898.5,866.0 899.0,865.9 899.5,865.7 900.0,865.5 900.5,865.2 901.0,864.6 901.5,863.7 902.0,862.3 902.5,860.4 903.0,857.9 903.5,855.1 904.0,852.4 904.5,850.2 905.0,849.4 905.5,850.2 906.0,852.3 906.5,855.1 907.0,857.8 907.5,860.2 908.0,862.1 908.5,863.5 909.0,864.4 909.5,864.9 910.0,865.2 910.5,865.4 911.0,865.5 911.5,865.6 912.0,865.6 912.5,865.7 913.0,865.7 913.5,865.7 914.0,865.7 914.5,865.6 915.0,865.6 915.5,865.6 916.0,865.5 916.5,865.5 917.0,865.4 917.5,865.4 918.0,865.3 918.5,865.2 919.0,865.2 919.5,865.1 920.0,865.0 920.5,864.8 921.0,864.7 921.5,864.5 922.0,864.4 922.5,864.2 923.0,863.9 923.5,863.6 924.0,863.3 924.5,862.9 925.0,862.4 925.5,861.8 926.0,861.1 926.5,860.2 927.0,859.0 927.5,857.3 928.0,854.6 928.5,850.1 929.0,842.4 929.5,829.9 930.0,810.8 930.5,783.8 931.0,749.6 931.5,711.1 932.0,675.1 932.5,651.3 932.8,647.0 933.0,648.9 933.5,668.9 934.0,703.2 934.5,741.6 935.0,776.9 935.5,805.1 936.0,825.4 936.5,838.6 937.0,846.3 937.5,850.5 938.0,852.4 938.5,852.9 939.0,852.7 939.5,851.9 940.0,850.9 940.5,849.8 941.0,848.9 941.5,848.4 942.0,848.4 942.5,849.1 943.0,850.3 943.5,851.9 944.0,853.8 944.5,855.8 945.0,857.6 945.5,859.3 946.0,860.8 946.5,862.0 947.0,863.0 947.5,863.8 948.0,864.4 948.5,864.8 949.0,865.2 949.5,865.4 950.0,865.6 950.5,865.8 951.0,865.9 951.5,866.0 952.0,866.1 952.5,866.2 953.0,866.3 953.5,866.3 954.0,866.4 954.5,866.4 955.0,866.5 955.5,866.5 956.0,866.5 956.5,866.5 957.0,866.6 957.5,866.6 958.0,866.6 958.5,866.6 959.0,866.6 959.5,866.6 960.0,866.6 960.5,866.6 961.0,866.6 961.5,866.5 962.0,866.5 962.5,866.4 963.0,866.3 963.5,866.2 964.0,866.1 964.5,866.0 965.0,865.9 965.5,865.8 966.0,865.6 966.5,865.5 967.0,865.3 967.5,865.1 968.0,864.8 968.5,864.6 969.0,864.3 969.5,863.9 970.0,863.5 970.5,863.1 971.0,862.5 971.5,861.8 972.0,860.9 972.5,859.6 973.0,857.7 973.5,854.6 974.0,849.3 974.5,840.6 975.0,826.9 975.5,806.9 976.0,780.4 976.5,749.0 977.0,717.0 977.5,691.8 978.0,682.0 978.5,691.8 979.0,716.9 979.5,748.8 980.0,780.1 980.5,806.6 981.0,826.5 981.5,840.2 982.0,848.8 982.5,854.0 983.0,857.1 983.5,858.9 984.0,860.1 984.5,861.0 985.0,861.6 985.5,862.2 986.0,862.6 986.5,862.9 987.0,863.2 987.5,863.4 988.0,863.6 988.5,863.8 989.0,864.0 989.5,864.1 990.0,864.2 990.5,864.3 991.0,864.5 991.5,864.6 992.0,864.7 992.5,864.8 993.0,864.9 993.5,865.0 994.0,865.0 994.5,865.1 995.0,865.2 995.5,865.2 996.0,865.3 996.5,865.4 997.0,865.4 997.5,865.5 998.0,865.5 998.5,865.6 999.0,865.6 999.5,865.7 1000.0,865.7 1000.5,865.8 1001.0,865.8 1001.5,865.8 1002.0,865.9 1002.5,865.9 1003.0,865.9 1003.5,866.0 1004.0,866.0 1004.5,866.0 1005.0,866.1 1005.5,866.1 1006.0,866.1 1006.5,866.2 1007.0,866.2 1007.5,866.2 1008.0,866.3 1008.5,866.3 1009.0,866.3 1009.5,866.3 1010.0,866.4 1010.5,866.4 1011.0,866.4 1011.5,866.4 1012.0,866.5 1012.5,866.5 1013.0,866.5 1013.5,866.5 1014.0,866.5 1014.5,866.6 1015.0,866.6 1015.5,866.6 1016.0,866.6 1016.5,866.6 1017.0,866.6 1017.5,866.6 1018.0,866.6 1018.5,866.5 1019.0,866.4 1019.5,866.3 1020.0,866.1 1020.5,865.9 1021.0,865.5 1021.5,865.1 1022.0,864.7 1022.5,864.2 1023.0,863.8 1023.5,863.5 1024.0,863.4 1024.5,863.5 1025.0,863.9 1025.5,864.3 1026.0,864.9 1026.5,865.4 1027.0,865.8 1027.5,866.2 1028.0,866.5 1028.5,866.7 1029.0,866.9 1029.5,867.0 1030.0,867.1 1030.5,867.2 1031.0,867.2 1031.5,867.3 1032.0,867.3 1032.5,867.3 1033.0,867.4 1033.5,867.4 1034.0,867.4 1034.5,867.5 1035.0,867.5 1035.5,867.5 1036.0,867.5 1036.5,867.6 1037.0,867.6 1037.5,867.6 1038.0,867.6 1038.5,867.7 1039.0,867.7 1039.5,867.7 1040.0,867.7 1040.5,867.7 1041.0,867.8 1041.5,867.8 1042.0,867.8 1042.5,867.8 1043.0,867.9 1043.5,867.9 1044.0,867.9 1044.5,867.9 1045.0,867.9 1045.5,868.0 1046.0,868.0 1046.5,868.0 1047.0,868.0 1047.5,868.0 1048.0,868.0 1048.5,868.1 1049.0,868.1 1049.5,868.1 1050.0,868.1 1050.5,868.1 1051.0,868.2 1051.5,868.2 1052.0,868.2 1052.5,868.2 1053.0,868.2 1053.5,868.2 1054.0,868.3 1054.5,868.3 1055.0,868.3 1055.5,868.3 1056.0,868.3 1056.5,868.3 1057.0,868.4 1057.5,868.4 1058.0,868.4 1058.5,868.4 1059.0,868.4 1059.5,868.4 1060.0,868.4 1060.5,868.4 1061.0,868.5 1061.5,868.5 1062.0,868.5 1062.5,868.5 1063.0,868.5 1063.5,868.4 1064.0,868.3 1064.5,868.2 1065.0,868.1 1065.5,867.9 1066.0,867.6 1066.5,867.3 1067.0,866.9 1067.5,866.4 1068.0,865.9 1068.5,865.4 1069.0,864.9 1069.5,864.6 1070.0,864.4 1070.5,864.5 1071.0,864.8 1071.5,865.2 1072.0,865.6 1072.5,866.1 1073.0,866.5 1073.5,866.8 1074.0,867.0 1074.5,867.2 1075.0,867.3 1075.5,867.4 1076.0,867.4 1076.5,867.4 1077.0,867.4 1077.5,867.4 1078.0,867.4 1078.5,867.4 1079.0,867.3 1079.5,867.3 1080.0,867.3 1080.5,867.2 1081.0,867.2 1081.5,867.1 1082.0,867.1 1082.5,867.1 1083.0,867.0 1083.5,867.0 1084.0,866.9 1084.5,866.9 1085.0,866.9 1085.5,866.8 1086.0,866.8 1086.5,866.7 1087.0,866.7 1087.5,866.6 1088.0,866.6 1088.5,866.5 1089.0,866.5 1089.5,866.4 1090.0,866.3 1090.5,866.3 1091.0,866.2 1091.5,866.2 1092.0,866.1 1092.5,866.0 1093.0,866.0 1093.5,865.9 1094.0,865.8 1094.5,865.8 1095.0,865.7 1095.5,865.6 1096.0,865.5 1096.5,865.5 1097.0,865.5 1097.5,865.4 1098.0,865.4 1098.5,865.3 1099.0,865.3 1099.5,865.2 1100.0,865.2 1100.5,865.1 1101.0,865.0 1101.5,864.9 1102.0,864.9 1102.5,864.8 1103.0,864.7 1103.5,864.6 1104.0,864.4 1104.5,864.3 1105.0,864.2 1105.5,864.0 1106.0,863.8 1106.5,863.6 1107.0,863.4 1107.5,863.2 1108.0,862.9 1108.5,862.6 1109.0,862.3 1109.5,862.0 1110.0,861.6 1110.5,861.1 1111.0,860.5 1111.5,859.9 1112.0,859.1 1112.5,858.1 1113.0,856.8 1113.5,855.1 1114.0,852.9 1114.5,850.0 1115.0,846.1 1115.5,840.9 1116.0,834.2 1116.5,825.6 1117.0,814.9 1117.5,801.8 1118.0,786.4 1118.5,768.8 1119.0,749.3 1119.5,728.5 1120.0,707.4 1120.5,687.1 1121.0,669.4 1121.5,655.9 1122.0,648.3 1122.3,647.0 1122.5,647.6 1123.0,653.9 1123.5,666.4 1124.0,683.5 1124.5,703.3 1125.0,724.4 1125.5,745.4 1126.0,765.3 1126.5,783.4 1127.0,799.2 1127.5,812.8 1128.0,824.0 1128.5,833.0 1129.0,840.1 1129.5,845.6 1130.0,849.8 1130.5,852.9 1131.0,855.3 1131.5,857.1 1132.0,858.5 1132.5,859.5 1133.0,860.4 1133.5,861.1 1134.0,861.7 1134.5,862.2 1135.0,862.7 1135.5,863.1 1136.0,863.4 1136.5,863.8 1137.0,864.0 1137.5,864.3 1138.0,864.6 1138.5,864.8 1139.0,865.0 1139.5,865.2 1140.0,865.3 1140.5,865.5 1141.0,865.6 1141.5,865.8 1142.0,865.9 1142.5,866.0 1143.0,866.1 1143.5,866.2 1144.0,866.3 1144.5,866.4 1145.0,866.5 1145.5,866.6 1146.0,866.6 1146.5,866.7 1147.0,866.7 1147.5,866.8 1148.0,866.8 1148.5,866.9 1149.0,866.9 1149.5,866.9 1150.0,866.9 1150.5,866.9 1151.0,866.9 1151.5,866.9 1152.0,866.9 1152.5,866.8 1153.0,866.8 1153.5,866.7 1154.0,866.6 1154.5,866.4 1155.0,866.3 1155.5,866.0 1156.0,865.8 1156.5,865.3 1157.0,864.7 1157.5,863.7 1158.0,862.1 1158.5,859.5 1159.0,855.6 1159.5,850.2 1160.0,843.3 1160.5,835.4 1161.0,827.4 1161.5,821.2 1162.0,818.4 1162.5,820.0 1163.0,824.9 1163.5,831.3 1164.0,837.4 1164.5,842.1 1165.0,844.8 1165.5,845.6 1166.0,844.8 1166.5,842.9 1167.0,840.5 1167.5,838.2 1168.0,836.5 1168.6,835.8 1169.0,836.4 1169.5,838.2 1170.0,841.0 1170.5,844.4 1171.0,847.9 1171.5,851.4 1172.0,854.6 1172.5,857.4 1173.0,859.8 1173.5,861.7 1174.0,863.1 1174.5,864.3 1175.0,865.1 1175.5,865.7 1176.0,866.1 1176.5,866.4 1177.0,866.7 1177.5,866.9 1178.0,867.0 1178.5,867.1 1179.0,867.2 1179.5,867.3 1180.0,867.4 1180.5,867.4 1181.0,867.5 1181.5,867.5 1182.0,867.6 1182.5,867.6 1183.0,867.7 1183.5,867.7 1184.0,867.7 1184.5,867.7 1185.0,867.8 1185.5,867.8 1186.0,867.8 1186.5,867.8 1187.0,867.8 1187.5,867.9 1188.0,867.9 1188.5,867.9 1189.0,867.9 1189.5,867.9 1190.0,867.9 1190.5,867.9 1191.0,868.0 1191.5,868.0 1192.0,868.0 1192.5,868.1 1193.0,868.1 1193.5,868.1 1194.0,868.2 1194.5,868.2 1195.0,868.2 1195.5,868.2 1196.0,868.3 1196.5,868.3 1197.0,868.3 1197.5,868.3 1198.0,868.4 1198.5,868.4 1199.0,868.4 1199.5,868.4 1200.0,868.5 1200.5,868.5 1201.0,868.5 1201.5,868.5 1202.0,868.5 1202.5,868.6 1203.0,868.6 1203.5,868.6 1204.0,868.6 1204.5,868.7 1205.0,868.7 1205.5,868.7 1206.0,868.7 1206.5,868.7 1207.0,868.8 1207.5,868.8 1208.0,868.8 1208.5,868.8 1209.0,868.8 1209.5,868.9 1210.0,868.9 1210.5,868.9 1211.0,868.9 1211.5,868.9 1212.0,868.9 1212.5,869.0 1213.0,869.0 1213.5,869.0 1214.0,869.0 1214.5,869.0 1215.0,869.0 1215.5,869.0 1216.0,869.1 1216.5,869.1 1217.0,869.1 1217.5,869.0 1218.0,869.0 1218.5,869.0 1219.0,868.9 1219.5,868.9 1220.0,868.9 1220.5,868.8 1221.0,868.8 1221.5,868.7 1222.0,868.7 1222.5,868.6 1223.0,868.5 1223.5,868.4 1224.0,868.2 1224.5,867.9 1225.0,867.5 1225.5,867.0 1226.0,866.3 1226.5,865.4 1227.0,864.4 1227.5,863.2 1228.0,862.0 1228.5,861.0 1229.0,860.2 1229.5,859.9 1230.0,860.1 1230.5,860.8 1231.0,861.8 1231.5,863.0 1232.0,864.1 1232.5,865.0 1233.0,865.8 1233.5,866.5 1234.0,866.9 1234.5,867.2 1235.0,867.4 1235.5,867.5 1236.0,867.5 1236.5,867.5 1237.0,867.5 1237.5,867.4 1238.0,867.3 1238.5,867.1 1239.0,866.9 1239.5,866.6 1240.0,866.0 1240.5,865.1 1241.0,863.7 1241.5,861.5 1242.0,858.4 1242.5,854.4 1243.0,849.7 1243.5,844.9 1244.0,840.9 1244.6,838.9 1245.0,839.8 1245.5,843.1 1246.0,847.6 1246.5,852.4 1247.0,856.7 1247.5,860.2 1248.0,862.7 1248.5,864.3 1249.0,865.3 1249.5,866.0 1250.0,866.3 1250.5,866.5 1251.0,866.6 1251.5,866.7 1252.0,866.6 1252.5,866.5 1253.0,866.2 1253.5,865.8 1254.0,865.1 1254.5,864.2 1255.0,863.2 1255.5,862.0 1256.0,861.0 1256.5,860.5 1256.7,860.4 1257.0,860.5 1257.5,861.2 1258.0,862.2 1258.5,863.4 1259.0,864.4 1259.5,865.3 1260.0,865.9 1260.5,866.3 1261.0,866.6 1261.5,866.7 1262.0,866.8 1262.5,866.9 1263.0,866.9 1263.5,866.9 1264.0,866.9 1264.5,866.9 1265.0,866.8 1265.5,866.8 1266.0,866.8 1266.5,866.8 1267.0,866.7 1267.5,866.6 1268.0,866.6 1268.5,866.4 1269.0,866.3 1269.5,866.0 1270.0,865.7 1270.5,865.2 1271.0,864.5 1271.5,863.7 1272.0,862.6 1272.5,861.4 1273.0,860.2 1273.5,859.0 1274.0,858.0 1274.5,857.5 1274.7,857.4 1275.0,857.5 1275.5,858.1 1276.0,859.1 1276.5,860.3 1277.0,861.5 1277.5,862.6 1278.0,863.6 1278.5,864.3 1279.0,864.9 1279.5,865.3 1280.0,865.6 1280.5,865.8 1281.0,865.9 1281.5,865.9 1282.0,866.0 1282.5,866.0 1283.0,866.0 1283.5,865.9 1284.0,865.9 1284.5,865.8 1285.0,865.7 1285.5,865.6 1286.0,865.3 1286.5,865.0 1287.0,864.5 1287.5,863.9 1288.0,863.1 1288.5,862.2 1289.0,861.2 1289.5,860.1 1290.0,859.2 1290.5,858.5 1291.0,858.2 1291.5,858.4 1292.0,859.1 1292.5,860.0 1293.0,861.0 1293.5,862.0 1294.0,862.9 1294.5,863.7 1295.0,864.2 1295.5,864.7 1296.0,865.0 1296.5,865.2 1297.0,865.3 1297.5,865.4 1298.0,865.4 1298.5,865.4 1299.0,865.4 1299.5,865.4 1300.0,865.4 1300.5,865.4 1301.0,865.4 1301.5,865.4 1302.0,865.3 1302.5,865.3 1303.0,865.2 1303.5,865.1 1304.0,865.1 1304.5,865.0 1305.0,865.0 1305.5,864.9 1306.0,864.8 1306.5,864.8 1307.0,864.7 1307.5,864.6 1308.0,864.5 1308.5,864.5 1309.0,864.4 1309.5,864.3 1310.0,864.2 1310.5,864.2 1311.0,864.1 1311.5,864.0 1312.0,863.9 1312.5,863.9 1313.0,863.8 1313.5,863.7 1314.0,863.6 1314.5,863.5 1315.0,863.4 1315.5,863.3 1316.0,863.2 1316.5,863.2 1317.0,863.1 1317.5,862.9 1318.0,862.8 1318.5,862.7 1319.0,862.6 1319.5,862.5 1320.0,862.4 1320.5,862.3 1321.0,862.1 1321.5,862.0 1322.0,861.8 1322.5,861.7 1323.0,861.5 1323.5,861.3 1324.0,861.1 1324.5,860.9 1325.0,860.6 1325.5,860.4 1326.0,860.2 1326.5,860.0 1327.0,859.7 1327.5,859.3 1328.0,858.8 1328.5,858.2 1329.0,857.2 1329.5,855.7 1330.0,853.5 1330.5,850.0 1331.0,844.7 1331.5,836.9 1332.0,826.3 1332.5,812.8 1333.0,796.8 1333.5,779.6 1334.0,763.5 1334.5,751.6 1335.0,747.2 1335.5,751.6 1336.0,763.4 1336.5,779.4 1337.0,796.5 1337.5,812.5 1338.0,825.9 1338.5,836.3 1339.0,843.9 1339.5,849.0 1340.0,852.2 1340.5,854.2 1341.0,855.3 1341.5,855.8 1342.0,856.0 1342.5,856.1 1343.0,856.0 1343.5,855.9 1344.0,855.7 1344.5,855.5 1345.0,855.4 1345.5,855.4 1346.0,855.4 1346.5,855.5 1347.0,855.7 1347.5,855.9 1348.0,856.0 1348.5,856.0 1349.0,855.9 1349.5,855.4 1350.0,854.5 1350.5,852.7 1351.0,849.7 1351.5,844.8 1352.0,837.5 1352.5,827.2 1353.0,813.8 1353.5,797.6 1354.0,779.7 1354.5,762.5 1355.0,748.9 1355.6,742.4 1356.0,745.5 1356.5,756.7 1357.0,773.1 1357.5,791.3 1358.0,808.6 1358.5,823.5 1359.0,835.3 1359.5,844.1 1360.0,850.2 1360.5,854.3 1361.0,857.0 1361.5,858.7 1362.0,859.9 1362.5,860.7 1363.0,861.3 1363.5,861.7 1364.0,862.1 1364.5,862.5 1365.0,862.8 1365.5,863.0 1366.0,863.3 1366.5,863.5 1367.0,863.6 1367.5,863.8 1368.0,863.9 1368.5,864.1 1369.0,864.2 1369.5,864.3 1370.0,864.4 1370.5,864.5 1371.0,864.6 1371.5,864.7 1372.0,864.7 1372.5,864.7 1373.0,864.8 1373.5,864.8 1374.0,864.8 1374.5,864.8 1375.0,864.9 1375.5,864.9 1376.0,864.9 1376.5,864.8 1377.0,864.7 1377.5,864.6 1378.0,864.4 1378.5,864.1 1379.0,863.7 1379.5,863.3 1380.0,862.9 1380.5,862.5 1381.0,862.4 1381.5,862.5 1382.0,862.9 1382.5,863.3 1383.0,863.7 1383.5,864.1 1384.0,864.3 1384.5,864.5 1385.0,864.5 1385.5,864.5 1386.0,864.3 1386.5,864.1 1387.0,863.7 1387.5,863.3 1388.0,862.9 1388.5,862.5 1389.0,862.4 1389.5,862.5 1390.0,862.8 1390.5,863.2 1391.0,863.5 1391.5,863.8 1392.0,864.1 1392.5,864.2 1393.0,864.3 1393.5,864.2 1394.0,864.2 1394.5,864.0 1395.0,863.8 1395.5,863.5 1396.0,863.1 1396.5,862.6 1397.0,861.9 1397.5,861.0 1398.0,859.9 1398.5,858.5 1399.0,856.9 1399.5,855.2 1400.0,853.4 1400.5,851.7 1401.0,850.1 1401.5,849.0 1402.0,848.4 1402.5,848.4 1403.0,848.8 1403.5,849.5 1404.0,850.1 1404.5,850.1 1405.0,849.0 1405.5,846.1 1406.0,840.9 1406.5,832.9 1407.0,822.1 1407.5,809.5 1408.0,796.9 1408.5,787.1 1409.0,783.4 1409.5,787.3 1410.0,797.4 1410.5,810.3 1411.0,823.3 1411.5,834.6 1412.0,843.3 1412.5,849.3 1413.0,853.0 1413.5,855.0 1414.0,855.8 1414.5,855.9 1415.0,855.5 1415.5,854.9 1416.0,854.1 1416.5,853.2 1417.0,852.3 1417.5,851.5 1418.0,850.9 1418.5,850.5 1419.0,850.4 1419.5,850.6 1420.0,851.1 1420.5,851.8 1421.0,852.7 1421.5,853.6 1422.0,854.5 1422.5,855.3 1423.0,856.0 1423.5,856.5 1424.0,856.7 1424.5,856.7 1425.0,856.4 1425.5,855.9 1426.0,855.2 1426.5,854.4 1427.0,853.5 1427.5,852.6 1428.0,851.9 1428.5,851.5 1429.0,851.4 1429.5,851.7 1430.0,852.4 1430.5,853.4 1431.0,854.6 1431.5,855.9 1432.0,857.2 1432.5,858.5 1433.0,859.6 1433.5,860.7 1434.0,861.6 1434.5,862.3 1435.0,862.9 1435.5,863.4 1436.0,863.8 1436.5,864.1 1437.0,864.3 1437.5,864.5 1438.0,864.6 1438.5,864.7 1439.0,864.8 1439.5,864.9 1440.0,864.9 1440.5,865.0 1441.0,865.0 1441.5,865.0 1442.0,865.1 1442.5,865.1 1443.0,865.1 1443.5,865.1 1444.0,865.1 1444.5,865.2 1445.0,865.2 1445.5,865.2 1446.0,865.2 1446.5,865.2 1447.0,865.2 1447.5,865.2 1448.0,865.2 1448.5,865.2 1449.0,865.2 1449.5,865.2 1450.0,865.2 1450.5,865.2 1451.0,865.2 1451.5,865.2 1452.0,865.2 1452.5,865.2 1453.0,865.2 1453.5,865.2 1454.0,865.2 1454.5,865.3 1455.0,865.3 1455.5,865.2 1456.0,865.2 1456.5,865.2 1457.0,865.2 1457.5,865.2 1458.0,865.2 1458.5,865.2 1459.0,865.2 1459.5,865.2 1460.0,865.2 1460.5,865.1 1461.0,865.1 1461.5,865.1 1462.0,865.0 1462.5,865.0 1463.0,865.0 1463.5,864.9 1464.0,864.9 1464.5,864.8 1465.0,864.7 1465.5,864.7 1466.0,864.6 1466.5,864.5 1467.0,864.4 1467.5,864.3 1468.0,864.2 1468.5,864.0 1469.0,863.9 1469.5,863.7 1470.0,863.5 1470.5,863.2 1471.0,862.9 1471.5,862.6 1472.0,862.2 1472.5,861.8 1473.0,861.3 1473.5,860.6 1474.0,859.8 1474.5,858.8 1475.0,857.4 1475.5,855.2 1476.0,851.7 1476.5,846.1 1477.0,837.2 1477.5,823.6 1478.0,804.4 1478.5,779.4 1479.0,749.9 1479.5,719.3 1480.0,693.5 1480.6,678.4 1481.0,681.1 1481.5,696.4 1482.0,718.1 1482.5,739.5 1483.0,756.1 1483.5,766.3 1484.0,770.4 1484.5,770.7 1485.0,770.0 1485.5,771.4 1486.0,776.5 1486.5,785.3 1487.0,796.5 1487.5,808.6 1488.0,820.3 1488.5,830.7 1489.0,839.4 1489.5,846.3 1490.0,851.4 1490.5,855.1 1491.0,857.8 1491.5,859.6 1492.0,860.8 1492.5,861.7 1493.0,862.4 1493.5,862.9 1494.0,863.3 1494.5,863.7 1495.0,864.0 1495.5,864.3 1496.0,864.5 1496.5,864.7 1497.0,864.9 1497.5,865.1 1498.0,865.2 1498.5,865.4 1499.0,865.5 1499.5,865.6 1500.0,865.7 1500.5,865.8 1501.0,865.9 1501.5,866.0 1502.0,866.1 1502.5,866.1 1503.0,866.2 1503.5,866.3 1504.0,866.3 1504.5,866.4 1505.0,866.5 1505.5,866.5 1506.0,866.6 1506.5,866.6 1507.0,866.7 1507.5,866.7 1508.0,866.8 1508.5,866.8 1509.0,866.9 1509.5,866.9 1510.0,866.9 1510.5,867.0 1511.0,867.0 1511.5,867.0 1512.0,867.1 1512.5,867.1 1513.0,867.1 1513.5,867.2 1514.0,867.2 1514.5,867.2 1515.0,867.3 1515.5,867.3 1516.0,867.3 1516.5,867.3 1517.0,867.3 1517.5,867.3 1518.0,867.3 1518.5,867.3 1519.0,867.2 1519.5,867.1 1520.0,866.9 1520.5,866.7 1521.0,866.3 1521.5,865.9 1522.0,865.3 1522.5,864.7 1523.0,864.1 1523.5,863.5 1524.0,863.1 1524.5,863.0 1525.0,863.2 1525.5,863.6 1526.0,864.2 1526.5,864.9 1527.0,865.6 1527.5,866.2 1528.0,866.7 1528.5,867.1 1529.0,867.4 1529.5,867.6 1530.0,867.8 1530.5,867.9 1531.0,868.0 1531.5,868.1 1532.0,868.1 1532.5,868.2 1533.0,868.2 1533.5,868.3 1534.0,868.3 1534.5,868.3 1535.0,868.4 1535.5,868.4 1536.0,868.4 1536.5,868.4 1537.0,868.5 1537.5,868.5 1538.0,868.5 1538.5,868.6 1539.0,868.6 1539.5,868.6 1540.0,868.6 1540.5,868.7 1541.0,868.7 1541.5,868.7 1542.0,868.7 1542.5,868.8 1543.0,868.8 1543.5,868.8 1544.0,868.8 1544.5,868.8 1545.0,868.9 1545.5,868.9 1546.0,868.9 1546.5,868.9 1547.0,869.0 1547.5,869.0 1548.0,869.0 1548.5,869.0 1549.0,869.0 1549.5,869.1 1550.0,869.1 1550.5,869.1 1551.0,869.1 1551.5,869.1 1552.0,869.1 1552.5,869.2 1553.0,869.2 1553.5,869.2 1554.0,869.2 1554.5,869.2 1555.0,869.2 1555.5,869.2 1556.0,869.3 1556.5,869.3 1557.0,869.3 1557.5,869.2 1558.0,869.2 1558.5,869.2 1559.0,869.1 1559.5,868.9 1560.0,868.7 1560.5,868.5 1561.0,868.1 1561.5,867.7 1562.0,867.2 1562.5,866.7 1563.0,866.3 1563.5,866.0 1564.0,865.9 1564.5,866.0 1565.0,866.4 1565.5,866.9 1566.0,867.4 1566.5,867.9 1567.0,868.3 1567.5,868.7 1568.0,869.0 1568.5,869.3 1569.0,869.4 1569.5,869.6 1570.0,869.7 1570.5,869.7 1571.0,869.8 1571.5,869.8 1572.0,869.8 1572.5,869.9 1573.0,869.9 1573.5,869.9 1574.0,870.0 1574.5,870.0 1575.0,870.0 1575.5,870.0 1576.0,870.0 1576.5,870.0 1577.0,870.1 1577.5,870.1 1578.0,870.1 1578.5,870.1 1579.0,870.1 1579.5,870.1 1580.0,870.1 1580.5,870.1 1581.0,870.1 1581.5,870.0 1582.0,870.0 1582.5,869.9 1583.0,869.8 1583.5,869.6 1584.0,869.2 1584.5,868.8 1585.0,868.2 1585.5,867.4 1586.0,866.4 1586.5,865.3 1587.0,864.1 1587.5,863.1 1588.0,862.3 1588.6,861.9 1589.0,862.1 1589.5,862.8 1590.0,863.8 1590.5,865.0 1591.0,866.2 1591.5,867.2 1592.0,868.1 1592.5,868.9 1593.0,869.4 1593.5,869.8 1594.0,870.1 1594.5,870.3 1595.0,870.5 1595.5,870.6 1596.0,870.6 1596.5,870.7 1597.0,870.8 1597.5,870.8 1598.0,870.8 1598.5,870.9 1599.0,870.9 1599.5,870.9 1600.0,871.0 1600.5,871.0 1601.0,871.0 1601.5,871.1 1602.0,871.1 1602.5,871.1 1603.0,871.1 1603.5,871.2 1604.0,871.2 1604.5,871.2 1605.0,871.2 1605.5,871.3 1606.0,871.3 1606.5,871.3 1607.0,871.3 1607.5,871.4 1608.0,871.4 1608.5,871.4 1609.0,871.4 1609.5,871.4 1610.0,871.5 1610.5,871.5 1611.0,871.4 1611.5,871.4 1612.0,871.4 1612.5,871.4 1613.0,871.4 1613.5,871.4 1614.0,871.4 1614.5,871.4 1615.0,871.4 1615.5,871.4 1616.0,871.4 1616.5,871.4 1617.0,871.4 1617.5,871.4 1618.0,871.4 1618.5,871.4 1619.0,871.4 1619.5,871.3 1620.0,871.3 1620.5,871.3 1621.0,871.3 1621.5,871.3 1622.0,871.3 1622.5,871.3 1623.0,871.3 1623.5,871.3 1624.0,871.3 1624.5,871.3 1625.0,871.3 1625.5,871.3 1626.0,871.2 1626.5,871.2 1627.0,871.2 1627.5,871.2 1628.0,871.2 1628.5,871.2 1629.0,871.2 1629.5,871.2 1630.0,871.2 1630.5,871.1 1631.0,871.1 1631.5,871.1 1632.0,871.1 1632.5,871.1 1633.0,871.0 1633.5,871.0 1634.0,870.9 1634.5,870.9 1635.0,870.8 1635.5,870.6 1636.0,870.5 1636.5,870.3 1637.0,870.0 1637.5,869.7 1638.0,869.3 1638.5,868.9 1639.0,868.5 1639.5,868.1 1640.0,867.7 1640.5,867.5 1641.0,867.4 1641.5,867.5 1642.0,867.7 1642.5,868.0 1643.0,868.4 1643.5,868.8 1644.0,869.2 1644.5,869.6 1645.0,869.9 1645.5,870.1 1646.0,870.3 1646.5,870.5 1647.0,870.6 1647.5,870.7 1648.0,870.7 1648.5,870.8 1649.0,870.8 1649.5,870.8 1650.0,870.8 1650.5,870.8 1651.0,870.8 1651.5,870.8 1652.0,870.8 1652.5,870.8 1653.0,870.8 1653.5,870.8 1654.0,870.8 1654.5,870.8 1655.0,870.8 1655.5,870.8 1656.0,870.8 1656.5,870.8 1657.0,870.8 1657.5,870.8 1658.0,870.8 1658.5,870.8 1659.0,870.8 1659.5,870.8 1660.0,870.8 1660.5,870.8 1661.0,870.8 1661.5,870.7 1662.0,870.7 1662.5,870.7 1663.0,870.7 1663.5,870.7 1664.0,870.7 1664.5,870.7 1665.0,870.7 1665.5,870.6 1666.0,870.6 1666.5,870.6 1667.0,870.6 1667.5,870.5 1668.0,870.5 1668.5,870.4 1669.0,870.3 1669.5,870.3 1670.0,870.2 1670.5,870.1 1671.0,870.1 1671.5,870.0 1672.0,870.0 1672.5,870.0 1673.0,870.0 1673.5,870.1 1674.0,870.1 1674.5,870.2 1675.0,870.2 1675.5,870.3 1676.0,870.3 1676.5,870.3 1677.0,870.3 1677.5,870.3 1678.0,870.4 1678.5,870.3 1679.0,870.3 1679.5,870.3 1680.0,870.3 1680.5,870.3 1681.0,870.3 1681.5,870.3 1682.0,870.3 1682.5,870.2 1683.0,870.2 1683.5,870.2 1684.0,870.2 1684.5,870.2 1685.0,870.1 1685.5,870.1 1686.0,870.1 1686.5,870.0 1687.0,870.0 1687.5,870.0 1688.0,869.9 1688.5,869.9 1689.0,869.8 1689.5,869.8 1690.0,869.7 1690.5,869.6 1691.0,869.5 1691.5,869.4 1692.0,869.3 1692.5,869.2 1693.0,869.0 1693.5,868.8 1694.0,868.6 1694.5,868.3 1695.0,868.0 1695.5,867.7 1696.0,867.3 1696.5,866.8 1697.0,866.3 1697.5,865.7 1698.0,865.1 1698.5,864.4 1699.0,863.6 1699.5,862.8 1700.0,861.9 1700.5,861.0 1701.0,860.1 1701.5,859.1 1702.0,858.2 1702.5,857.3 1703.0,856.4 1703.5,855.6 1704.0,854.8 1704.5,854.2 1705.0,853.8 1705.5,853.5 1706.0,853.4 1706.5,853.5 1707.0,853.8 1707.5,854.2 1708.0,854.8 1708.5,855.5 1709.0,856.3 1709.5,857.2 1710.0,858.1 1710.5,859.0 1711.0,860.0 1711.5,860.9 1712.0,861.8 1712.5,862.6 1713.0,863.4 1713.5,864.2 1714.0,864.9 1714.5,865.5 1715.0,866.1 1715.5,866.6 1716.0,867.0 1716.5,867.4 1717.0,867.7 1717.5,868.0 1718.0,868.3 1718.5,868.5 1719.0,868.7 1719.5,868.8 1720.0,869.0 1720.5,869.1 1721.0,869.2 1721.5,869.2 1722.0,869.3 1722.5,869.3 1723.0,869.4 1723.5,869.4 1724.0,869.5 1724.5,869.5 1725.0,869.5 1725.5,869.5 1726.0,869.6 1726.5,869.6 1727.0,869.6 1727.5,869.6 1728.0,869.6 1728.5,869.6 1729.0,869.6 1729.5,869.6 1730.0,869.6 1730.5,869.7 1731.0,869.7 1731.5,869.7 1732.0,869.7 1732.5,869.7 1733.0,869.7 1733.5,869.7 1734.0,869.7 1734.5,869.7 1735.0,869.7 1735.5,869.7 1736.0,869.7 1736.5,869.7 1737.0,869.7 1737.5,869.7 1738.0,869.8 1738.5,869.8 1739.0,869.8 1739.5,869.8 1740.0,869.8 1740.5,869.8 1741.0,869.8 1741.5,869.8 1742.0,869.9 1742.5,869.9 1743.0,869.9 1743.5,869.9 1744.0,869.9 1744.5,869.9 1745.0,869.9 1745.5,869.9 1746.0,869.9 1746.5,869.9 1747.0,869.9 1747.5,870.0 1748.0,870.0 1748.5,870.0 1749.0,870.0 1749.5,870.0 1750.0,870.0 1750.5,870.0 1751.0,870.0 1751.5,870.0 1752.0,870.0 1752.5,870.0 1753.0,870.0 1753.5,870.0 1754.0,870.0 1754.5,870.0 1755.0,870.0 1755.5,870.0 1756.0,870.0 1756.5,870.1 1757.0,870.1 1757.5,870.1 1758.0,870.1 1758.5,870.1 1759.0,870.1 1759.5,870.0 1760.0,870.0 1760.5,870.0 1761.0,870.0 1761.5,870.0 1762.0,870.0 1762.5,870.0 1763.0,870.0 1763.5,870.0 1764.0,870.0 1764.5,869.9 1765.0,869.9 1765.5,869.9 1766.0,869.9 1766.5,869.8 1767.0,869.8 1767.5,869.7 1768.0,869.6 1768.5,869.5 1769.0,869.4 1769.5,869.2 1770.0,869.0 1770.5,868.6 1771.0,868.1 1771.5,867.4 1772.0,866.5 1772.5,865.3 1773.0,863.8 1773.5,862.0 1774.0,859.9 1774.5,857.6 1775.0,855.3 1775.5,853.0 1776.0,851.1 1776.5,849.9 1777.0,849.4 1777.5,849.9 1778.0,851.2 1778.5,853.1 1779.0,855.3 1779.5,857.7 1780.0,860.0 1780.5,862.1 1781.0,863.9 1781.5,865.4 1782.0,866.6 1782.5,867.6 1783.0,868.3 1783.5,868.8 1784.0,869.2 1784.5,869.4 1785.0,869.6 1785.5,869.8 1786.0,869.9 1786.5,870.0 1787.0,870.0 1787.5,870.1 1788.0,870.2 1788.5,870.2 1789.0,870.2 1789.5,870.3 1790.0,870.3 1790.5,870.3 1791.0,870.4 1791.5,870.4 1792.0,870.4 1792.5,870.4 1793.0,870.4 1793.5,870.4 1794.0,870.5 1794.5,870.5 1795.0,870.5 1795.5,870.5 1796.0,870.5 1796.5,870.5 1797.0,870.5 1797.5,870.5 1798.0,870.5 1798.5,870.4 1799.0,870.4 1799.5,870.4 1800.0,870.4 1800.5,870.3 1801.0,870.3 1801.5,870.2 1802.0,870.1 1802.5,870.0 1803.0,869.8 1803.5,869.5 1804.0,869.2 1804.5,868.7 1805.0,868.0 1805.5,867.1 1806.0,865.9 1806.5,864.6 1807.0,863.0 1807.5,861.3 1808.0,859.5 1808.5,857.8 1809.0,856.4 1809.5,855.4 1810.0,855.1 1810.5,855.5 1811.0,856.4 1811.5,857.9 1812.0,859.6 1812.5,861.4 1813.0,863.1 1813.5,864.7 1814.0,866.1 1814.5,867.2 1815.0,868.2 1815.5,868.9 1816.0,869.4 1816.5,869.8 1817.0,870.1 1817.5,870.3 1818.0,870.4 1818.5,870.6 1819.0,870.6 1819.5,870.7 1820.0,870.8 1820.5,870.8 1821.0,870.9 1821.5,870.9 1822.0,870.9 1822.5,871.0 1823.0,871.0 1823.5,871.0 1824.0,871.1 1824.5,871.1 1825.0,871.1 1825.5,871.1 1826.0,871.1 1826.5,871.2 1827.0,871.2 1827.5,871.2 1828.0,871.2 1828.5,871.2 1829.0,871.3 1829.5,871.3 1830.0,871.3 1830.5,871.3 1831.0,871.3 1831.5,871.3 1832.0,871.3 1832.5,871.3 1833.0,871.4 1833.5,871.4 1834.0,871.4 1834.5,871.4 1835.0,871.4 1835.5,871.4 1836.0,871.4 1836.5,871.4 1837.0,871.4 1837.5,871.4 1838.0,871.4 1838.5,871.4 1839.0,871.4 1839.5,871.4 1840.0,871.4 1840.5,871.4 1841.0,871.4 1841.5,871.4 1842.0,871.4 1842.5,871.4 1843.0,871.4 1843.5,871.4 1844.0,871.4 1844.5,871.4 1845.0,871.4 1845.5,871.4 1846.0,871.4 1846.5,871.4 1847.0,871.4 1847.5,871.4 1848.0,871.4 1848.5,871.4 1849.0,871.4 1849.5,871.4 1850.0,871.4 1850.5,871.4 1851.0,871.4 1851.5,871.4 1852.0,871.4 1852.5,871.4 1853.0,871.4 1853.5,871.4 1854.0,871.4 1854.5,871.4 1855.0,871.4 1855.5,871.3 1856.0,871.3 1856.5,871.3 1857.0,871.3 1857.5,871.3 1858.0,871.3 1858.5,871.3 1859.0,871.3 1859.5,871.3 1860.0,871.3 1860.5,871.3 1861.0,871.3 1861.5,871.3 1862.0,871.3 1862.5,871.3 1863.0,871.3 1863.5,871.3 1864.0,871.3 1864.5,871.3 1865.0,871.3 1865.5,871.3 1866.0,871.3 1866.5,871.2 1867.0,871.2 1867.5,871.2 1868.0,871.2 1868.5,871.2 1869.0,871.2 1869.5,871.2 1870.0,871.2 1870.5,871.2 1871.0,871.2 1871.5,871.2 1872.0,871.2 1872.5,871.2 1873.0,871.2 1873.5,871.2 1874.0,871.1 1874.5,871.1 1875.0,871.1 1875.5,871.1 1876.0,871.1 1876.5,871.1 1877.0,871.1 1877.5,871.1 1878.0,871.1 1878.5,871.1 1879.0,871.0 1879.5,871.0 1880.0,871.0 1880.5,871.0 1881.0,871.0 1881.5,871.0 1882.0,871.0 1882.5,871.0 1883.0,870.9 1883.5,870.9 1884.0,870.9 1884.5,870.9 1885.0,870.9 1885.5,870.8 1886.0,870.8 1886.5,870.8 1887.0,870.8 1887.5,870.7 1888.0,870.7 1888.5,870.7 1889.0,870.6 1889.5,870.6 1890.0,870.6 1890.5,870.5 1891.0,870.5 1891.5,870.4 1892.0,870.4 1892.5,870.3 1893.0,870.2 1893.5,870.2 1894.0,870.1 1894.5,870.0 1895.0,869.8 1895.5,869.7 1896.0,869.5 1896.5,869.3 1897.0,868.9 1897.5,868.5 1898.0,868.0 1898.5,867.3 1899.0,866.4 1899.5,865.3 1900.0,863.9 1900.5,862.2 1901.0,860.1 1901.5,857.8 1902.0,855.1 1902.5,852.2 1903.0,849.1 1903.5,846.0 1904.0,843.0 1904.5,840.3 1905.0,838.1 1905.5,836.7 1906.0,836.2 1906.5,836.7 1907.0,838.1 1907.5,840.3 1908.0,842.9 1908.5,846.0 1909.0,849.1 1909.5,852.1 1910.0,855.0 1910.5,857.7 1911.0,860.0 1911.5,862.1 1912.0,863.8 1912.5,865.2 1913.0,866.3 1913.5,867.2 1914.0,867.9 1914.5,868.4 1915.0,868.8 1915.5,869.1 1916.0,869.4 1916.5,869.5 1917.0,869.7 1917.5,869.8 1918.0,869.9 1918.5,870.0 1919.0,870.1 1919.5,870.1 1920.0,870.2 1920.5,870.2 1921.0,870.3 1921.5,870.3 1922.0,870.3 1922.5,870.4 1923.0,870.4 1923.5,870.4 1924.0,870.4 1924.5,870.5 1925.0,870.5 1925.5,870.5 1926.0,870.5 1926.5,870.5 1927.0,870.6 1927.5,870.6 1928.0,870.6 1928.5,870.6 1929.0,870.6 1929.5,870.6 1930.0,870.6 1930.5,870.6 1931.0,870.6 1931.5,870.6 1932.0,870.6 1932.5,870.6 1933.0,870.6 1933.5,870.6 1934.0,870.6 1934.5,870.6 1935.0,870.6 1935.5,870.6 1936.0,870.6 1936.5,870.6 1937.0,870.6 1937.5,870.6 1938.0,870.6 1938.5,870.6 1939.0,870.6 1939.5,870.6 1940.0,870.6 1940.5,870.6 1941.0,870.6 1941.5,870.6 1942.0,870.6 1942.5,870.6 1943.0,870.6 1943.5,870.6 1944.0,870.6 1944.5,870.6 1945.0,870.6 1945.5,870.5 1946.0,870.5 1946.5,870.5 1947.0,870.5 1947.5,870.5 1948.0,870.5 1948.5,870.5 1949.0,870.4 1949.5,870.4 1950.0,870.4 1950.5,870.4 1951.0,870.4 1951.5,870.3 1952.0,870.3 1952.5,870.3 1953.0,870.3 1953.5,870.2 1954.0,870.2 1954.5,870.1 1955.0,870.1 1955.5,870.0 1956.0,869.9 1956.5,869.8 1957.0,869.7 1957.5,869.5 1958.0,869.4 1958.5,869.1 1959.0,868.8 1959.5,868.5 1960.0,868.0 1960.5,867.5 1961.0,866.9 1961.5,866.1 1962.0,865.3 1962.5,864.3 1963.0,863.2 1963.5,862.1 1964.0,860.8 1964.5,859.5 1965.0,858.3 1965.5,857.0 1966.0,855.8 1966.5,854.8 1967.0,854.1 1967.5,853.6 1968.0,853.4 1968.5,853.6 1969.0,854.1 1969.5,854.8 1970.0,855.8 1970.5,857.0 1971.0,858.2 1971.5,859.5 1972.0,860.8 1972.5,862.0 1973.0,863.2 1973.5,864.2 1974.0,865.2 1974.5,866.1 1975.0,866.8 1975.5,867.4 1976.0,867.9 1976.5,868.4 1977.0,868.7 1977.5,869.0 1978.0,869.3 1978.5,869.4 1979.0,869.6 1979.5,869.7 1980.0,869.8 1980.5,869.9 1981.0,869.9 1981.5,870.0 1982.0,870.0 1982.5,870.1 1983.0,870.1 1983.5,870.1 1984.0,870.2 1984.5,870.2 1985.0,870.2 1985.5,870.2 1986.0,870.2 1986.5,870.3 1987.0,870.3 1987.5,870.3 1988.0,870.3 1988.5,870.3 1989.0,870.3 1989.5,870.3 1990.0,870.3 1990.5,870.3 1991.0,870.3 1991.5,870.4 1992.0,870.4 1992.5,870.4 1993.0,870.4 1993.5,870.4 1994.0,870.4 1994.5,870.4 1995.0,870.4 1995.5,870.4 1996.0,870.4 1996.5,870.4 1997.0,870.4 1997.5,870.4 1998.0,870.4 1998.5,870.4 1999.0,870.4 1999.5,870.4 2000.0,870.4 2000.5,870.4 2001.0,870.4 2001.5,870.4 2002.0,870.4 2002.5,870.4 2003.0,870.4 2003.5,870.4 2004.0,870.4 2004.5,870.4 2005.0,870.4 2005.5,870.4 2006.0,870.4 2006.5,870.4 2007.0,870.4 2007.5,870.4 2008.0,870.4 2008.5,870.4 2009.0,870.4 2009.5,870.4 2010.0,870.4 2010.5,870.4 2011.0,870.4 2011.5,870.4 2012.0,870.4 2012.5,870.4 2013.0,870.4 2013.5,870.4 2014.0,870.4 2014.5,870.4 2015.0,870.4 2015.5,870.4 2016.0,870.4 2016.5,870.4 2017.0,870.4 2017.5,870.4 2018.0,870.4 2018.5,870.4 2019.0,870.4 2019.5,870.4 2020.0,870.4 2020.5,870.4 2021.0,870.3 2021.5,870.3 2022.0,870.3 2022.5,870.3 2023.0,870.3 2023.5,870.3 2024.0,870.3 2024.5,870.3 2025.0,870.3 2025.5,870.3 2026.0,870.3 2026.5,870.3 2027.0,870.3 2027.5,870.3 2028.0,870.3 2028.5,870.3 2029.0,870.3 2029.5,870.3 2030.0,870.3 2030.5,870.3 2031.0,870.3 2031.5,870.3 2032.0,870.3 2032.5,870.3 2033.0,870.3 2033.5,870.3 2034.0,870.3 2034.5,870.3 2035.0,870.3 2035.5,870.3 2036.0,870.3 2036.5,870.3 2037.0,870.3 2037.5,870.3 2038.0,870.3 2038.5,870.3 2039.0,870.3 2039.5,870.3 2040.0,870.3 2040.5,870.2 2041.0,870.2 2041.5,870.2 2042.0,870.2 2042.5,870.2 2043.0,870.2 2043.5,870.2 2044.0,870.2 2044.5,870.2 2045.0,870.2 2045.5,870.2 2046.0,870.2 2046.5,870.2 2047.0,870.2 2047.5,870.2 2048.0,870.2 2048.5,870.2 2049.0,870.2 2049.5,870.2 2050.0,870.2 2050.5,870.2 2051.0,870.2 2051.5,870.2 2052.0,870.2 2052.5,870.2 2053.0,870.2 2053.5,870.2 2054.0,870.2 2054.5,870.2 2055.0,870.2 2055.5,870.2 2056.0,870.2 2056.5,870.2 2057.0,870.2 2057.5,870.1 2058.0,870.1 2058.5,870.1 2059.0,870.1 2059.5,870.1 2060.0,870.1 2060.5,870.1 2061.0,870.1 2061.5,870.1 2062.0,870.1 2062.5,870.1 2063.0,870.1 2063.5,870.1 2064.0,870.1 2064.5,870.1 2065.0,870.1 2065.5,870.1 2066.0,870.1 2066.5,870.1 2067.0,870.1 2067.5,870.1 2068.0,870.1 2068.5,870.1 2069.0,870.1 2069.5,870.1 2070.0,870.1 2070.5,870.1 2071.0,870.1 2071.5,870.1 2072.0,870.1 2072.5,870.1 2073.0,870.1 2073.5,870.1 2074.0,870.1 2074.5,870.0 2075.0,870.0 2075.5,870.0 2076.0,870.0 2076.5,870.0 2077.0,870.0 2077.5,870.0 2078.0,870.0 2078.5,870.0 2079.0,870.0 2079.5,870.0 2080.0,870.0 2080.5,870.0 2081.0,870.0 2081.5,870.0 2082.0,870.0 2082.5,870.0 2083.0,870.0 2083.5,870.0 2084.0,870.0 2084.5,870.0 2085.0,870.0 2085.5,870.0 2086.0,870.0 2086.5,870.0 2087.0,870.0 2087.5,870.0 2088.0,870.0 2088.5,870.0 2089.0,870.0 2089.5,870.0 2090.0,870.0"/>
<g fill="#000"><polygon points="295.5,754.0 301.9,766.9 316.1,769.0 305.8,779.0 308.2,793.2 295.5,786.5 282.8,793.2 285.2,779.0 274.9,769.0 289.1,766.9"/><polygon points="426.0,719.4 432.1,731.7 445.7,733.7 435.8,743.3 438.2,756.8 426.0,750.4 413.8,756.8 416.2,743.3 406.3,733.7 419.9,731.7"/><polygon points="464.0,760.5 470.3,773.2 484.2,775.2 474.1,785.1 476.5,799.0 464.0,792.4 451.5,799.0 453.9,785.1 443.8,775.2 457.7,773.2"/><polygon points="497.0,736.3 503.1,748.6 516.7,750.6 506.8,760.2 509.2,773.7 497.0,767.3 484.8,773.7 487.2,760.2 477.3,750.6 490.9,748.6"/><polygon points="588.0,753.0 594.1,765.4 607.8,767.4 597.9,777.0 600.2,790.6 588.0,784.2 575.8,790.6 578.1,777.0 568.2,767.4 581.9,765.4"/><polygon points="680.0,688.0 686.3,700.7 700.3,702.8 690.2,712.7 692.6,726.7 680.0,720.1 667.4,726.7 669.8,712.7 659.7,702.8 673.7,700.7"/><polygon points="772.0,676.0 778.1,688.3 791.7,690.3 781.8,699.9 784.2,713.4 772.0,707.0 759.8,713.4 762.2,699.9 752.3,690.3 765.9,688.3"/><polygon points="860.4,757.0 866.7,769.7 880.6,771.7 870.5,781.6 872.9,795.5 860.4,788.9 847.9,795.5 850.3,781.6 840.2,771.7 854.1,769.7"/><polygon points="907.0,787.0 913.1,799.3 926.7,801.3 916.8,810.9 919.2,824.4 907.0,818.0 894.8,824.4 897.2,810.9 887.3,801.3 900.9,799.3"/><polygon points="1026.0,789.4 1032.1,801.7 1045.7,803.7 1035.8,813.3 1038.2,826.8 1026.0,820.4 1013.8,826.8 1016.2,813.3 1006.3,803.7 1019.9,801.7"/><polygon points="1082.0,772.5 1088.1,784.8 1101.7,786.8 1091.9,796.4 1094.2,810.0 1082.0,803.6 1069.8,810.0 1072.1,796.4 1062.3,786.8 1075.9,784.8"/><polygon points="1176.3,742.4 1182.6,755.1 1196.6,757.1 1186.4,767.0 1188.8,781.0 1176.3,774.4 1163.8,781.0 1166.2,767.0 1156.0,757.1 1170.0,755.1"/><polygon points="1291.7,777.4 1297.6,789.3 1310.7,791.2 1301.2,800.5 1303.5,813.6 1291.7,807.4 1279.9,813.6 1282.2,800.5 1272.7,791.2 1285.8,789.3"/><polygon points="1465.4,764.0 1471.5,776.3 1485.1,778.3 1475.3,787.9 1477.6,801.5 1465.4,795.1 1453.2,801.5 1455.5,787.9 1445.7,778.3 1459.3,776.3"/><polygon points="1524.5,784.6 1530.8,797.3 1544.8,799.3 1534.6,809.2 1537.0,823.2 1524.5,816.6 1512.0,823.2 1514.4,809.2 1504.2,799.3 1518.2,797.3"/><polygon points="1569.7,762.0 1575.6,774.0 1588.9,776.0 1579.3,785.4 1581.6,798.6 1569.7,792.3 1557.8,798.6 1560.1,785.4 1550.5,776.0 1563.8,774.0"/><polygon points="1653.5,778.4 1659.6,790.8 1673.3,792.8 1663.4,802.4 1665.7,816.0 1653.5,809.6 1641.3,816.0 1643.6,802.4 1633.7,792.8 1647.4,790.8"/><polygon points="2063.0,775.7 2069.1,788.1 2082.9,790.1 2072.9,799.8 2075.3,813.5 2063.0,807.0 2050.7,813.5 2053.1,799.8 2043.1,790.1 2056.9,788.1"/><polygon points="319.8,674.6 364.8,674.6 342.3,714.4"/><polygon points="624.0,603.6 669.0,603.6 646.5,644.6"/><polygon points="757.2,414.2 802.2,414.2 779.7,455.4"/><polygon points="960.5,603.6 1005.5,603.6 983.0,645.8"/><polygon points="1224.0,766.5 1269.0,766.5 1246.5,808.7"/><polygon points="1305.5,672.4 1350.5,672.4 1328.0,713.4"/><polygon points="1453.5,625.3 1498.5,625.3 1476.0,666.4"/><polygon points="1581.0,758.0 1626.0,758.0 1603.5,798.6"/><polygon points="1760.0,771.6 1805.0,771.6 1782.5,812.0"/><polygon points="1876.3,777.0 1921.3,777.0 1898.8,817.6"/><rect x="591.3" y="177.9" width="43.6" height="43.3"/><rect x="1097.0" y="582.0" width="43.0" height="41.0"/><rect x="1342.3" y="699.0" width="42.3" height="42.2"/><circle cx="942.3" cy="558.2" r="25.8"/><circle cx="1425.0" cy="703.2" r="24.8"/></g>
<rect x="125" y="32" width="1965" height="1579" fill="none" stroke="#1c1c1c" stroke-width="6.5"/>
<line x1="370.6" y1="1611" x2="370.6" y2="1581" stroke="#1c1c1c" stroke-width="6"/><line x1="616.2" y1="1611" x2="616.2" y2="1581" stroke="#1c1c1c" stroke-width="6"/><line x1="861.9" y1="1611" x2="861.9" y2="1581" stroke="#1c1c1c" stroke-width="6"/><line x1="1107.5" y1="1611" x2="1107.5" y2="1581" stroke="#1c1c1c" stroke-width="6"/><line x1="1353.1" y1="1611" x2="1353.1" y2="1581" stroke="#1c1c1c" stroke-width="6"/><line x1="1598.8" y1="1611" x2="1598.8" y2="1581" stroke="#1c1c1c" stroke-width="6"/><line x1="1844.4" y1="1611" x2="1844.4" y2="1581" stroke="#1c1c1c" stroke-width="6"/>
<text transform="translate(202.05,554.78) scale(0.9078,1)" style="font-family:'Liberation Serif','Times New Roman',serif;font-size:88.37px" fill="#111">1400°C</text>
<text transform="translate(182.67,960.98) scale(0.8941,1)" style="font-family:'Liberation Serif','Times New Roman',serif;font-size:89.50px" fill="#111">1300°C</text>
<text transform="translate(179.50,1355.10) scale(0.9134,1)" style="font-family:'Liberation Serif','Times New Roman',serif;font-size:87.24px" fill="#111">1200°C</text>
<text transform="translate(1709.58,138.50) scale(0.9295,1)" style="font-family:'Liberation Serif','Times New Roman',serif;font-size:72.50px" fill="#111">-MgAl<tspan dy="19.0" font-size="0.66em">2</tspan><tspan dy="-19.0">O</tspan><tspan dy="19.0" font-size="0.66em">4</tspan></text>
<text transform="translate(1708.04,242.00) scale(0.9366,1)" style="font-family:'Liberation Serif','Times New Roman',serif;font-size:72.50px" fill="#111">-Mg<tspan dy="19.0" font-size="0.66em">2</tspan><tspan dy="-19.0">(SiO</tspan><tspan dy="19.0" font-size="0.66em">4</tspan><tspan dy="-19.0">)</tspan></text>
<text transform="translate(1710.52,348.50) scale(0.9337,1)" style="font-family:'Liberation Serif','Times New Roman',serif;font-size:72.50px" fill="#111">-MgO</text>
<text transform="translate(1710.45,442.00) scale(0.9454,1)" style="font-family:'Liberation Serif','Times New Roman',serif;font-size:72.50px" fill="#111">-t-ZrO<tspan dy="19.0" font-size="0.66em">2</tspan></text>
<text transform="translate(1014.45,1801.59) scale(0.9941,1)" style="font-family:'Liberation Sans',Arial,sans-serif;font-size:79.44px" fill="#111">2<tspan font-style="italic">θ</tspan> (°)</text>
<text x="125.0" y="1710" text-anchor="middle" style="font-family:'Liberation Serif','Times New Roman',serif;font-size:86px" fill="#111">10</text><text x="370.6" y="1710" text-anchor="middle" style="font-family:'Liberation Serif','Times New Roman',serif;font-size:86px" fill="#111">20</text><text x="616.2" y="1710" text-anchor="middle" style="font-family:'Liberation Serif','Times New Roman',serif;font-size:86px" fill="#111">30</text><text x="861.9" y="1710" text-anchor="middle" style="font-family:'Liberation Serif','Times New Roman',serif;font-size:86px" fill="#111">40</text><text x="1107.5" y="1710" text-anchor="middle" style="font-family:'Liberation Serif','Times New Roman',serif;font-size:86px" fill="#111">50</text><text x="1353.1" y="1710" text-anchor="middle" style="font-family:'Liberation Serif','Times New Roman',serif;font-size:86px" fill="#111">60</text><text x="1598.8" y="1710" text-anchor="middle" style="font-family:'Liberation Serif','Times New Roman',serif;font-size:86px" fill="#111">70</text><text x="1844.4" y="1710" text-anchor="middle" style="font-family:'Liberation Serif','Times New Roman',serif;font-size:86px" fill="#111">80</text><text x="2090.0" y="1710" text-anchor="middle" style="font-family:'Liberation Serif','Times New Roman',serif;font-size:86px" fill="#111">90</text>
<text transform="translate(82,831.8) rotate(-90)" text-anchor="middle" style="font-family:'Liberation Sans',Arial,sans-serif;font-size:79.3px" fill="#000">Intensity (a.u.)</text>
<g fill="#000"><polygon points="1656.5,86.4 1706.5,86.4 1681.5,134.7"/><polygon points="1680.0,197.4 1687.2,212.0 1703.3,214.4 1691.7,225.7 1694.4,241.8 1680.0,234.2 1665.6,241.8 1668.3,225.7 1656.7,214.4 1672.8,212.0"/><circle cx="1680.5" cy="324.9" r="28"/><rect x="1657.4" y="393" width="47.3" height="48.2"/></g></g></svg>
</body></html>
